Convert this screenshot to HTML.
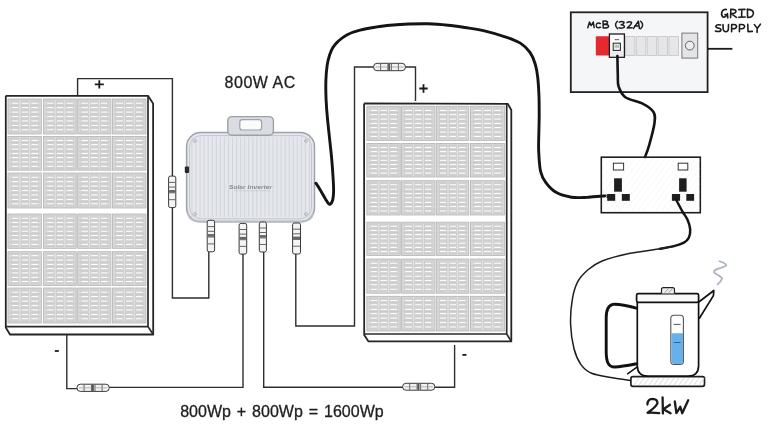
<!DOCTYPE html>
<html><head><meta charset="utf-8"><title>Solar diagram</title>
<style>html,body{margin:0;padding:0;background:#fff;width:768px;height:428px;overflow:hidden;font-family:"Liberation Sans",sans-serif}svg{display:block;filter:blur(0.3px)}</style>
</head><body>
<svg width="768" height="428" viewBox="0 0 768 428">
<rect width="768" height="428" fill="#ffffff"/>
<path d="M77.6,95.5 L77.6,78.6 L172.4,78.6 L172.4,298.0 L208.8,298.0 L208.8,252.0" fill="none" stroke="#2e2e2e" stroke-width="1.4" stroke-linejoin="miter"/>
<path d="M66.8,334.0 L66.8,388.6 L80.0,388.6" fill="none" stroke="#2e2e2e" stroke-width="1.4" stroke-linejoin="miter"/>
<path d="M105.0,387.4 L243.0,387.4 L243.0,254.0" fill="none" stroke="#2e2e2e" stroke-width="1.4" stroke-linejoin="miter"/>
<path d="M454.6,345.0 L454.6,387.2 L263.7,387.2 L263.7,252.0" fill="none" stroke="#2e2e2e" stroke-width="1.4" stroke-linejoin="miter"/>
<path d="M415.5,101.0 L415.5,67.0 L354.5,67.0 L354.5,326.0 L295.8,326.0 L295.8,254.0" fill="none" stroke="#2e2e2e" stroke-width="1.4" stroke-linejoin="miter"/>
<rect x="8.0" y="99.0" width="33.3" height="35.0" fill="#d9d9d9" stroke="#b3b3b3" stroke-width="0.8"/><line x1="9.2" y1="101.0" x2="40.1" y2="101.0" stroke="#c4c4c4" stroke-width="0.7"/><line x1="9.2" y1="105.4" x2="40.1" y2="105.4" stroke="#c4c4c4" stroke-width="0.7"/><line x1="9.2" y1="109.9" x2="40.1" y2="109.9" stroke="#c4c4c4" stroke-width="0.7"/><line x1="9.2" y1="114.3" x2="40.1" y2="114.3" stroke="#c4c4c4" stroke-width="0.7"/><line x1="9.2" y1="118.8" x2="40.1" y2="118.8" stroke="#c4c4c4" stroke-width="0.7"/><line x1="9.2" y1="123.2" x2="40.1" y2="123.2" stroke="#c4c4c4" stroke-width="0.7"/><line x1="9.2" y1="127.6" x2="40.1" y2="127.6" stroke="#c4c4c4" stroke-width="0.7"/><line x1="9.2" y1="132.1" x2="40.1" y2="132.1" stroke="#c4c4c4" stroke-width="0.7"/><line x1="19.9" y1="100.2" x2="19.9" y2="132.8" stroke="#e6e6e6" stroke-width="0.8"/><line x1="29.7" y1="100.2" x2="29.7" y2="132.8" stroke="#e6e6e6" stroke-width="0.8"/><rect x="11.3" y="102.2" width="7.3" height="1.9" fill="#fdfdfd" stroke="#bdbdbd" stroke-width="0.5"/><rect x="11.3" y="106.7" width="7.3" height="1.9" fill="#fdfdfd" stroke="#bdbdbd" stroke-width="0.5"/><rect x="11.3" y="111.1" width="7.3" height="1.9" fill="#fdfdfd" stroke="#bdbdbd" stroke-width="0.5"/><rect x="11.3" y="115.6" width="7.3" height="1.9" fill="#fdfdfd" stroke="#bdbdbd" stroke-width="0.5"/><rect x="11.3" y="120.0" width="7.3" height="1.9" fill="#fdfdfd" stroke="#bdbdbd" stroke-width="0.5"/><rect x="11.3" y="124.5" width="7.3" height="1.9" fill="#fdfdfd" stroke="#bdbdbd" stroke-width="0.5"/><rect x="11.3" y="128.9" width="7.3" height="1.9" fill="#fdfdfd" stroke="#bdbdbd" stroke-width="0.5"/><rect x="21.2" y="102.2" width="7.3" height="1.9" fill="#fdfdfd" stroke="#bdbdbd" stroke-width="0.5"/><rect x="21.2" y="106.7" width="7.3" height="1.9" fill="#fdfdfd" stroke="#bdbdbd" stroke-width="0.5"/><rect x="21.2" y="111.1" width="7.3" height="1.9" fill="#fdfdfd" stroke="#bdbdbd" stroke-width="0.5"/><rect x="21.2" y="115.6" width="7.3" height="1.9" fill="#fdfdfd" stroke="#bdbdbd" stroke-width="0.5"/><rect x="21.2" y="120.0" width="7.3" height="1.9" fill="#fdfdfd" stroke="#bdbdbd" stroke-width="0.5"/><rect x="21.2" y="124.5" width="7.3" height="1.9" fill="#fdfdfd" stroke="#bdbdbd" stroke-width="0.5"/><rect x="21.2" y="128.9" width="7.3" height="1.9" fill="#fdfdfd" stroke="#bdbdbd" stroke-width="0.5"/><rect x="31.0" y="102.2" width="7.3" height="1.9" fill="#fdfdfd" stroke="#bdbdbd" stroke-width="0.5"/><rect x="31.0" y="106.7" width="7.3" height="1.9" fill="#fdfdfd" stroke="#bdbdbd" stroke-width="0.5"/><rect x="31.0" y="111.1" width="7.3" height="1.9" fill="#fdfdfd" stroke="#bdbdbd" stroke-width="0.5"/><rect x="31.0" y="115.6" width="7.3" height="1.9" fill="#fdfdfd" stroke="#bdbdbd" stroke-width="0.5"/><rect x="31.0" y="120.0" width="7.3" height="1.9" fill="#fdfdfd" stroke="#bdbdbd" stroke-width="0.5"/><rect x="31.0" y="124.5" width="7.3" height="1.9" fill="#fdfdfd" stroke="#bdbdbd" stroke-width="0.5"/><rect x="31.0" y="128.9" width="7.3" height="1.9" fill="#fdfdfd" stroke="#bdbdbd" stroke-width="0.5"/><rect x="43.5" y="99.0" width="32.7" height="35.0" fill="#d9d9d9" stroke="#b3b3b3" stroke-width="0.8"/><line x1="44.7" y1="101.0" x2="75.0" y2="101.0" stroke="#c4c4c4" stroke-width="0.7"/><line x1="44.7" y1="105.4" x2="75.0" y2="105.4" stroke="#c4c4c4" stroke-width="0.7"/><line x1="44.7" y1="109.9" x2="75.0" y2="109.9" stroke="#c4c4c4" stroke-width="0.7"/><line x1="44.7" y1="114.3" x2="75.0" y2="114.3" stroke="#c4c4c4" stroke-width="0.7"/><line x1="44.7" y1="118.8" x2="75.0" y2="118.8" stroke="#c4c4c4" stroke-width="0.7"/><line x1="44.7" y1="123.2" x2="75.0" y2="123.2" stroke="#c4c4c4" stroke-width="0.7"/><line x1="44.7" y1="127.6" x2="75.0" y2="127.6" stroke="#c4c4c4" stroke-width="0.7"/><line x1="44.7" y1="132.1" x2="75.0" y2="132.1" stroke="#c4c4c4" stroke-width="0.7"/><line x1="55.2" y1="100.2" x2="55.2" y2="132.8" stroke="#e6e6e6" stroke-width="0.8"/><line x1="64.8" y1="100.2" x2="64.8" y2="132.8" stroke="#e6e6e6" stroke-width="0.8"/><rect x="46.8" y="102.2" width="7.2" height="1.9" fill="#fdfdfd" stroke="#bdbdbd" stroke-width="0.5"/><rect x="46.8" y="106.7" width="7.2" height="1.9" fill="#fdfdfd" stroke="#bdbdbd" stroke-width="0.5"/><rect x="46.8" y="111.1" width="7.2" height="1.9" fill="#fdfdfd" stroke="#bdbdbd" stroke-width="0.5"/><rect x="46.8" y="115.6" width="7.2" height="1.9" fill="#fdfdfd" stroke="#bdbdbd" stroke-width="0.5"/><rect x="46.8" y="120.0" width="7.2" height="1.9" fill="#fdfdfd" stroke="#bdbdbd" stroke-width="0.5"/><rect x="46.8" y="124.5" width="7.2" height="1.9" fill="#fdfdfd" stroke="#bdbdbd" stroke-width="0.5"/><rect x="46.8" y="128.9" width="7.2" height="1.9" fill="#fdfdfd" stroke="#bdbdbd" stroke-width="0.5"/><rect x="56.4" y="102.2" width="7.2" height="1.9" fill="#fdfdfd" stroke="#bdbdbd" stroke-width="0.5"/><rect x="56.4" y="106.7" width="7.2" height="1.9" fill="#fdfdfd" stroke="#bdbdbd" stroke-width="0.5"/><rect x="56.4" y="111.1" width="7.2" height="1.9" fill="#fdfdfd" stroke="#bdbdbd" stroke-width="0.5"/><rect x="56.4" y="115.6" width="7.2" height="1.9" fill="#fdfdfd" stroke="#bdbdbd" stroke-width="0.5"/><rect x="56.4" y="120.0" width="7.2" height="1.9" fill="#fdfdfd" stroke="#bdbdbd" stroke-width="0.5"/><rect x="56.4" y="124.5" width="7.2" height="1.9" fill="#fdfdfd" stroke="#bdbdbd" stroke-width="0.5"/><rect x="56.4" y="128.9" width="7.2" height="1.9" fill="#fdfdfd" stroke="#bdbdbd" stroke-width="0.5"/><rect x="66.1" y="102.2" width="7.2" height="1.9" fill="#fdfdfd" stroke="#bdbdbd" stroke-width="0.5"/><rect x="66.1" y="106.7" width="7.2" height="1.9" fill="#fdfdfd" stroke="#bdbdbd" stroke-width="0.5"/><rect x="66.1" y="111.1" width="7.2" height="1.9" fill="#fdfdfd" stroke="#bdbdbd" stroke-width="0.5"/><rect x="66.1" y="115.6" width="7.2" height="1.9" fill="#fdfdfd" stroke="#bdbdbd" stroke-width="0.5"/><rect x="66.1" y="120.0" width="7.2" height="1.9" fill="#fdfdfd" stroke="#bdbdbd" stroke-width="0.5"/><rect x="66.1" y="124.5" width="7.2" height="1.9" fill="#fdfdfd" stroke="#bdbdbd" stroke-width="0.5"/><rect x="66.1" y="128.9" width="7.2" height="1.9" fill="#fdfdfd" stroke="#bdbdbd" stroke-width="0.5"/><rect x="77.7" y="99.0" width="33.2" height="35.0" fill="#d9d9d9" stroke="#b3b3b3" stroke-width="0.8"/><line x1="78.9" y1="101.0" x2="109.7" y2="101.0" stroke="#c4c4c4" stroke-width="0.7"/><line x1="78.9" y1="105.4" x2="109.7" y2="105.4" stroke="#c4c4c4" stroke-width="0.7"/><line x1="78.9" y1="109.9" x2="109.7" y2="109.9" stroke="#c4c4c4" stroke-width="0.7"/><line x1="78.9" y1="114.3" x2="109.7" y2="114.3" stroke="#c4c4c4" stroke-width="0.7"/><line x1="78.9" y1="118.8" x2="109.7" y2="118.8" stroke="#c4c4c4" stroke-width="0.7"/><line x1="78.9" y1="123.2" x2="109.7" y2="123.2" stroke="#c4c4c4" stroke-width="0.7"/><line x1="78.9" y1="127.6" x2="109.7" y2="127.6" stroke="#c4c4c4" stroke-width="0.7"/><line x1="78.9" y1="132.1" x2="109.7" y2="132.1" stroke="#c4c4c4" stroke-width="0.7"/><line x1="89.6" y1="100.2" x2="89.6" y2="132.8" stroke="#e6e6e6" stroke-width="0.8"/><line x1="99.4" y1="100.2" x2="99.4" y2="132.8" stroke="#e6e6e6" stroke-width="0.8"/><rect x="81.0" y="102.2" width="7.3" height="1.9" fill="#fdfdfd" stroke="#bdbdbd" stroke-width="0.5"/><rect x="81.0" y="106.7" width="7.3" height="1.9" fill="#fdfdfd" stroke="#bdbdbd" stroke-width="0.5"/><rect x="81.0" y="111.1" width="7.3" height="1.9" fill="#fdfdfd" stroke="#bdbdbd" stroke-width="0.5"/><rect x="81.0" y="115.6" width="7.3" height="1.9" fill="#fdfdfd" stroke="#bdbdbd" stroke-width="0.5"/><rect x="81.0" y="120.0" width="7.3" height="1.9" fill="#fdfdfd" stroke="#bdbdbd" stroke-width="0.5"/><rect x="81.0" y="124.5" width="7.3" height="1.9" fill="#fdfdfd" stroke="#bdbdbd" stroke-width="0.5"/><rect x="81.0" y="128.9" width="7.3" height="1.9" fill="#fdfdfd" stroke="#bdbdbd" stroke-width="0.5"/><rect x="90.8" y="102.2" width="7.3" height="1.9" fill="#fdfdfd" stroke="#bdbdbd" stroke-width="0.5"/><rect x="90.8" y="106.7" width="7.3" height="1.9" fill="#fdfdfd" stroke="#bdbdbd" stroke-width="0.5"/><rect x="90.8" y="111.1" width="7.3" height="1.9" fill="#fdfdfd" stroke="#bdbdbd" stroke-width="0.5"/><rect x="90.8" y="115.6" width="7.3" height="1.9" fill="#fdfdfd" stroke="#bdbdbd" stroke-width="0.5"/><rect x="90.8" y="120.0" width="7.3" height="1.9" fill="#fdfdfd" stroke="#bdbdbd" stroke-width="0.5"/><rect x="90.8" y="124.5" width="7.3" height="1.9" fill="#fdfdfd" stroke="#bdbdbd" stroke-width="0.5"/><rect x="90.8" y="128.9" width="7.3" height="1.9" fill="#fdfdfd" stroke="#bdbdbd" stroke-width="0.5"/><rect x="100.6" y="102.2" width="7.3" height="1.9" fill="#fdfdfd" stroke="#bdbdbd" stroke-width="0.5"/><rect x="100.6" y="106.7" width="7.3" height="1.9" fill="#fdfdfd" stroke="#bdbdbd" stroke-width="0.5"/><rect x="100.6" y="111.1" width="7.3" height="1.9" fill="#fdfdfd" stroke="#bdbdbd" stroke-width="0.5"/><rect x="100.6" y="115.6" width="7.3" height="1.9" fill="#fdfdfd" stroke="#bdbdbd" stroke-width="0.5"/><rect x="100.6" y="120.0" width="7.3" height="1.9" fill="#fdfdfd" stroke="#bdbdbd" stroke-width="0.5"/><rect x="100.6" y="124.5" width="7.3" height="1.9" fill="#fdfdfd" stroke="#bdbdbd" stroke-width="0.5"/><rect x="100.6" y="128.9" width="7.3" height="1.9" fill="#fdfdfd" stroke="#bdbdbd" stroke-width="0.5"/><rect x="112.4" y="99.0" width="33.5" height="35.0" fill="#d9d9d9" stroke="#b3b3b3" stroke-width="0.8"/><line x1="113.6" y1="101.0" x2="144.7" y2="101.0" stroke="#c4c4c4" stroke-width="0.7"/><line x1="113.6" y1="105.4" x2="144.7" y2="105.4" stroke="#c4c4c4" stroke-width="0.7"/><line x1="113.6" y1="109.9" x2="144.7" y2="109.9" stroke="#c4c4c4" stroke-width="0.7"/><line x1="113.6" y1="114.3" x2="144.7" y2="114.3" stroke="#c4c4c4" stroke-width="0.7"/><line x1="113.6" y1="118.8" x2="144.7" y2="118.8" stroke="#c4c4c4" stroke-width="0.7"/><line x1="113.6" y1="123.2" x2="144.7" y2="123.2" stroke="#c4c4c4" stroke-width="0.7"/><line x1="113.6" y1="127.6" x2="144.7" y2="127.6" stroke="#c4c4c4" stroke-width="0.7"/><line x1="113.6" y1="132.1" x2="144.7" y2="132.1" stroke="#c4c4c4" stroke-width="0.7"/><line x1="124.4" y1="100.2" x2="124.4" y2="132.8" stroke="#e6e6e6" stroke-width="0.8"/><line x1="134.3" y1="100.2" x2="134.3" y2="132.8" stroke="#e6e6e6" stroke-width="0.8"/><rect x="115.8" y="102.2" width="7.4" height="1.9" fill="#fdfdfd" stroke="#bdbdbd" stroke-width="0.5"/><rect x="115.8" y="106.7" width="7.4" height="1.9" fill="#fdfdfd" stroke="#bdbdbd" stroke-width="0.5"/><rect x="115.8" y="111.1" width="7.4" height="1.9" fill="#fdfdfd" stroke="#bdbdbd" stroke-width="0.5"/><rect x="115.8" y="115.6" width="7.4" height="1.9" fill="#fdfdfd" stroke="#bdbdbd" stroke-width="0.5"/><rect x="115.8" y="120.0" width="7.4" height="1.9" fill="#fdfdfd" stroke="#bdbdbd" stroke-width="0.5"/><rect x="115.8" y="124.5" width="7.4" height="1.9" fill="#fdfdfd" stroke="#bdbdbd" stroke-width="0.5"/><rect x="115.8" y="128.9" width="7.4" height="1.9" fill="#fdfdfd" stroke="#bdbdbd" stroke-width="0.5"/><rect x="125.6" y="102.2" width="7.4" height="1.9" fill="#fdfdfd" stroke="#bdbdbd" stroke-width="0.5"/><rect x="125.6" y="106.7" width="7.4" height="1.9" fill="#fdfdfd" stroke="#bdbdbd" stroke-width="0.5"/><rect x="125.6" y="111.1" width="7.4" height="1.9" fill="#fdfdfd" stroke="#bdbdbd" stroke-width="0.5"/><rect x="125.6" y="115.6" width="7.4" height="1.9" fill="#fdfdfd" stroke="#bdbdbd" stroke-width="0.5"/><rect x="125.6" y="120.0" width="7.4" height="1.9" fill="#fdfdfd" stroke="#bdbdbd" stroke-width="0.5"/><rect x="125.6" y="124.5" width="7.4" height="1.9" fill="#fdfdfd" stroke="#bdbdbd" stroke-width="0.5"/><rect x="125.6" y="128.9" width="7.4" height="1.9" fill="#fdfdfd" stroke="#bdbdbd" stroke-width="0.5"/><rect x="135.5" y="102.2" width="7.4" height="1.9" fill="#fdfdfd" stroke="#bdbdbd" stroke-width="0.5"/><rect x="135.5" y="106.7" width="7.4" height="1.9" fill="#fdfdfd" stroke="#bdbdbd" stroke-width="0.5"/><rect x="135.5" y="111.1" width="7.4" height="1.9" fill="#fdfdfd" stroke="#bdbdbd" stroke-width="0.5"/><rect x="135.5" y="115.6" width="7.4" height="1.9" fill="#fdfdfd" stroke="#bdbdbd" stroke-width="0.5"/><rect x="135.5" y="120.0" width="7.4" height="1.9" fill="#fdfdfd" stroke="#bdbdbd" stroke-width="0.5"/><rect x="135.5" y="124.5" width="7.4" height="1.9" fill="#fdfdfd" stroke="#bdbdbd" stroke-width="0.5"/><rect x="135.5" y="128.9" width="7.4" height="1.9" fill="#fdfdfd" stroke="#bdbdbd" stroke-width="0.5"/><rect x="8.0" y="136.4" width="33.3" height="33.8" fill="#d9d9d9" stroke="#b3b3b3" stroke-width="0.8"/><line x1="9.2" y1="138.3" x2="40.1" y2="138.3" stroke="#c4c4c4" stroke-width="0.7"/><line x1="9.2" y1="142.6" x2="40.1" y2="142.6" stroke="#c4c4c4" stroke-width="0.7"/><line x1="9.2" y1="146.9" x2="40.1" y2="146.9" stroke="#c4c4c4" stroke-width="0.7"/><line x1="9.2" y1="151.2" x2="40.1" y2="151.2" stroke="#c4c4c4" stroke-width="0.7"/><line x1="9.2" y1="155.5" x2="40.1" y2="155.5" stroke="#c4c4c4" stroke-width="0.7"/><line x1="9.2" y1="159.8" x2="40.1" y2="159.8" stroke="#c4c4c4" stroke-width="0.7"/><line x1="9.2" y1="164.1" x2="40.1" y2="164.1" stroke="#c4c4c4" stroke-width="0.7"/><line x1="9.2" y1="168.4" x2="40.1" y2="168.4" stroke="#c4c4c4" stroke-width="0.7"/><line x1="19.9" y1="137.6" x2="19.9" y2="169.0" stroke="#e6e6e6" stroke-width="0.8"/><line x1="29.7" y1="137.6" x2="29.7" y2="169.0" stroke="#e6e6e6" stroke-width="0.8"/><rect x="11.3" y="139.5" width="7.3" height="1.9" fill="#fdfdfd" stroke="#bdbdbd" stroke-width="0.5"/><rect x="11.3" y="143.8" width="7.3" height="1.9" fill="#fdfdfd" stroke="#bdbdbd" stroke-width="0.5"/><rect x="11.3" y="148.1" width="7.3" height="1.9" fill="#fdfdfd" stroke="#bdbdbd" stroke-width="0.5"/><rect x="11.3" y="152.4" width="7.3" height="1.9" fill="#fdfdfd" stroke="#bdbdbd" stroke-width="0.5"/><rect x="11.3" y="156.7" width="7.3" height="1.9" fill="#fdfdfd" stroke="#bdbdbd" stroke-width="0.5"/><rect x="11.3" y="161.0" width="7.3" height="1.9" fill="#fdfdfd" stroke="#bdbdbd" stroke-width="0.5"/><rect x="11.3" y="165.3" width="7.3" height="1.9" fill="#fdfdfd" stroke="#bdbdbd" stroke-width="0.5"/><rect x="21.2" y="139.5" width="7.3" height="1.9" fill="#fdfdfd" stroke="#bdbdbd" stroke-width="0.5"/><rect x="21.2" y="143.8" width="7.3" height="1.9" fill="#fdfdfd" stroke="#bdbdbd" stroke-width="0.5"/><rect x="21.2" y="148.1" width="7.3" height="1.9" fill="#fdfdfd" stroke="#bdbdbd" stroke-width="0.5"/><rect x="21.2" y="152.4" width="7.3" height="1.9" fill="#fdfdfd" stroke="#bdbdbd" stroke-width="0.5"/><rect x="21.2" y="156.7" width="7.3" height="1.9" fill="#fdfdfd" stroke="#bdbdbd" stroke-width="0.5"/><rect x="21.2" y="161.0" width="7.3" height="1.9" fill="#fdfdfd" stroke="#bdbdbd" stroke-width="0.5"/><rect x="21.2" y="165.3" width="7.3" height="1.9" fill="#fdfdfd" stroke="#bdbdbd" stroke-width="0.5"/><rect x="31.0" y="139.5" width="7.3" height="1.9" fill="#fdfdfd" stroke="#bdbdbd" stroke-width="0.5"/><rect x="31.0" y="143.8" width="7.3" height="1.9" fill="#fdfdfd" stroke="#bdbdbd" stroke-width="0.5"/><rect x="31.0" y="148.1" width="7.3" height="1.9" fill="#fdfdfd" stroke="#bdbdbd" stroke-width="0.5"/><rect x="31.0" y="152.4" width="7.3" height="1.9" fill="#fdfdfd" stroke="#bdbdbd" stroke-width="0.5"/><rect x="31.0" y="156.7" width="7.3" height="1.9" fill="#fdfdfd" stroke="#bdbdbd" stroke-width="0.5"/><rect x="31.0" y="161.0" width="7.3" height="1.9" fill="#fdfdfd" stroke="#bdbdbd" stroke-width="0.5"/><rect x="31.0" y="165.3" width="7.3" height="1.9" fill="#fdfdfd" stroke="#bdbdbd" stroke-width="0.5"/><rect x="43.5" y="136.4" width="32.7" height="33.8" fill="#d9d9d9" stroke="#b3b3b3" stroke-width="0.8"/><line x1="44.7" y1="138.3" x2="75.0" y2="138.3" stroke="#c4c4c4" stroke-width="0.7"/><line x1="44.7" y1="142.6" x2="75.0" y2="142.6" stroke="#c4c4c4" stroke-width="0.7"/><line x1="44.7" y1="146.9" x2="75.0" y2="146.9" stroke="#c4c4c4" stroke-width="0.7"/><line x1="44.7" y1="151.2" x2="75.0" y2="151.2" stroke="#c4c4c4" stroke-width="0.7"/><line x1="44.7" y1="155.5" x2="75.0" y2="155.5" stroke="#c4c4c4" stroke-width="0.7"/><line x1="44.7" y1="159.8" x2="75.0" y2="159.8" stroke="#c4c4c4" stroke-width="0.7"/><line x1="44.7" y1="164.1" x2="75.0" y2="164.1" stroke="#c4c4c4" stroke-width="0.7"/><line x1="44.7" y1="168.4" x2="75.0" y2="168.4" stroke="#c4c4c4" stroke-width="0.7"/><line x1="55.2" y1="137.6" x2="55.2" y2="169.0" stroke="#e6e6e6" stroke-width="0.8"/><line x1="64.8" y1="137.6" x2="64.8" y2="169.0" stroke="#e6e6e6" stroke-width="0.8"/><rect x="46.8" y="139.5" width="7.2" height="1.9" fill="#fdfdfd" stroke="#bdbdbd" stroke-width="0.5"/><rect x="46.8" y="143.8" width="7.2" height="1.9" fill="#fdfdfd" stroke="#bdbdbd" stroke-width="0.5"/><rect x="46.8" y="148.1" width="7.2" height="1.9" fill="#fdfdfd" stroke="#bdbdbd" stroke-width="0.5"/><rect x="46.8" y="152.4" width="7.2" height="1.9" fill="#fdfdfd" stroke="#bdbdbd" stroke-width="0.5"/><rect x="46.8" y="156.7" width="7.2" height="1.9" fill="#fdfdfd" stroke="#bdbdbd" stroke-width="0.5"/><rect x="46.8" y="161.0" width="7.2" height="1.9" fill="#fdfdfd" stroke="#bdbdbd" stroke-width="0.5"/><rect x="46.8" y="165.3" width="7.2" height="1.9" fill="#fdfdfd" stroke="#bdbdbd" stroke-width="0.5"/><rect x="56.4" y="139.5" width="7.2" height="1.9" fill="#fdfdfd" stroke="#bdbdbd" stroke-width="0.5"/><rect x="56.4" y="143.8" width="7.2" height="1.9" fill="#fdfdfd" stroke="#bdbdbd" stroke-width="0.5"/><rect x="56.4" y="148.1" width="7.2" height="1.9" fill="#fdfdfd" stroke="#bdbdbd" stroke-width="0.5"/><rect x="56.4" y="152.4" width="7.2" height="1.9" fill="#fdfdfd" stroke="#bdbdbd" stroke-width="0.5"/><rect x="56.4" y="156.7" width="7.2" height="1.9" fill="#fdfdfd" stroke="#bdbdbd" stroke-width="0.5"/><rect x="56.4" y="161.0" width="7.2" height="1.9" fill="#fdfdfd" stroke="#bdbdbd" stroke-width="0.5"/><rect x="56.4" y="165.3" width="7.2" height="1.9" fill="#fdfdfd" stroke="#bdbdbd" stroke-width="0.5"/><rect x="66.1" y="139.5" width="7.2" height="1.9" fill="#fdfdfd" stroke="#bdbdbd" stroke-width="0.5"/><rect x="66.1" y="143.8" width="7.2" height="1.9" fill="#fdfdfd" stroke="#bdbdbd" stroke-width="0.5"/><rect x="66.1" y="148.1" width="7.2" height="1.9" fill="#fdfdfd" stroke="#bdbdbd" stroke-width="0.5"/><rect x="66.1" y="152.4" width="7.2" height="1.9" fill="#fdfdfd" stroke="#bdbdbd" stroke-width="0.5"/><rect x="66.1" y="156.7" width="7.2" height="1.9" fill="#fdfdfd" stroke="#bdbdbd" stroke-width="0.5"/><rect x="66.1" y="161.0" width="7.2" height="1.9" fill="#fdfdfd" stroke="#bdbdbd" stroke-width="0.5"/><rect x="66.1" y="165.3" width="7.2" height="1.9" fill="#fdfdfd" stroke="#bdbdbd" stroke-width="0.5"/><rect x="77.7" y="136.4" width="33.2" height="33.8" fill="#d9d9d9" stroke="#b3b3b3" stroke-width="0.8"/><line x1="78.9" y1="138.3" x2="109.7" y2="138.3" stroke="#c4c4c4" stroke-width="0.7"/><line x1="78.9" y1="142.6" x2="109.7" y2="142.6" stroke="#c4c4c4" stroke-width="0.7"/><line x1="78.9" y1="146.9" x2="109.7" y2="146.9" stroke="#c4c4c4" stroke-width="0.7"/><line x1="78.9" y1="151.2" x2="109.7" y2="151.2" stroke="#c4c4c4" stroke-width="0.7"/><line x1="78.9" y1="155.5" x2="109.7" y2="155.5" stroke="#c4c4c4" stroke-width="0.7"/><line x1="78.9" y1="159.8" x2="109.7" y2="159.8" stroke="#c4c4c4" stroke-width="0.7"/><line x1="78.9" y1="164.1" x2="109.7" y2="164.1" stroke="#c4c4c4" stroke-width="0.7"/><line x1="78.9" y1="168.4" x2="109.7" y2="168.4" stroke="#c4c4c4" stroke-width="0.7"/><line x1="89.6" y1="137.6" x2="89.6" y2="169.0" stroke="#e6e6e6" stroke-width="0.8"/><line x1="99.4" y1="137.6" x2="99.4" y2="169.0" stroke="#e6e6e6" stroke-width="0.8"/><rect x="81.0" y="139.5" width="7.3" height="1.9" fill="#fdfdfd" stroke="#bdbdbd" stroke-width="0.5"/><rect x="81.0" y="143.8" width="7.3" height="1.9" fill="#fdfdfd" stroke="#bdbdbd" stroke-width="0.5"/><rect x="81.0" y="148.1" width="7.3" height="1.9" fill="#fdfdfd" stroke="#bdbdbd" stroke-width="0.5"/><rect x="81.0" y="152.4" width="7.3" height="1.9" fill="#fdfdfd" stroke="#bdbdbd" stroke-width="0.5"/><rect x="81.0" y="156.7" width="7.3" height="1.9" fill="#fdfdfd" stroke="#bdbdbd" stroke-width="0.5"/><rect x="81.0" y="161.0" width="7.3" height="1.9" fill="#fdfdfd" stroke="#bdbdbd" stroke-width="0.5"/><rect x="81.0" y="165.3" width="7.3" height="1.9" fill="#fdfdfd" stroke="#bdbdbd" stroke-width="0.5"/><rect x="90.8" y="139.5" width="7.3" height="1.9" fill="#fdfdfd" stroke="#bdbdbd" stroke-width="0.5"/><rect x="90.8" y="143.8" width="7.3" height="1.9" fill="#fdfdfd" stroke="#bdbdbd" stroke-width="0.5"/><rect x="90.8" y="148.1" width="7.3" height="1.9" fill="#fdfdfd" stroke="#bdbdbd" stroke-width="0.5"/><rect x="90.8" y="152.4" width="7.3" height="1.9" fill="#fdfdfd" stroke="#bdbdbd" stroke-width="0.5"/><rect x="90.8" y="156.7" width="7.3" height="1.9" fill="#fdfdfd" stroke="#bdbdbd" stroke-width="0.5"/><rect x="90.8" y="161.0" width="7.3" height="1.9" fill="#fdfdfd" stroke="#bdbdbd" stroke-width="0.5"/><rect x="90.8" y="165.3" width="7.3" height="1.9" fill="#fdfdfd" stroke="#bdbdbd" stroke-width="0.5"/><rect x="100.6" y="139.5" width="7.3" height="1.9" fill="#fdfdfd" stroke="#bdbdbd" stroke-width="0.5"/><rect x="100.6" y="143.8" width="7.3" height="1.9" fill="#fdfdfd" stroke="#bdbdbd" stroke-width="0.5"/><rect x="100.6" y="148.1" width="7.3" height="1.9" fill="#fdfdfd" stroke="#bdbdbd" stroke-width="0.5"/><rect x="100.6" y="152.4" width="7.3" height="1.9" fill="#fdfdfd" stroke="#bdbdbd" stroke-width="0.5"/><rect x="100.6" y="156.7" width="7.3" height="1.9" fill="#fdfdfd" stroke="#bdbdbd" stroke-width="0.5"/><rect x="100.6" y="161.0" width="7.3" height="1.9" fill="#fdfdfd" stroke="#bdbdbd" stroke-width="0.5"/><rect x="100.6" y="165.3" width="7.3" height="1.9" fill="#fdfdfd" stroke="#bdbdbd" stroke-width="0.5"/><rect x="112.4" y="136.4" width="33.5" height="33.8" fill="#d9d9d9" stroke="#b3b3b3" stroke-width="0.8"/><line x1="113.6" y1="138.3" x2="144.7" y2="138.3" stroke="#c4c4c4" stroke-width="0.7"/><line x1="113.6" y1="142.6" x2="144.7" y2="142.6" stroke="#c4c4c4" stroke-width="0.7"/><line x1="113.6" y1="146.9" x2="144.7" y2="146.9" stroke="#c4c4c4" stroke-width="0.7"/><line x1="113.6" y1="151.2" x2="144.7" y2="151.2" stroke="#c4c4c4" stroke-width="0.7"/><line x1="113.6" y1="155.5" x2="144.7" y2="155.5" stroke="#c4c4c4" stroke-width="0.7"/><line x1="113.6" y1="159.8" x2="144.7" y2="159.8" stroke="#c4c4c4" stroke-width="0.7"/><line x1="113.6" y1="164.1" x2="144.7" y2="164.1" stroke="#c4c4c4" stroke-width="0.7"/><line x1="113.6" y1="168.4" x2="144.7" y2="168.4" stroke="#c4c4c4" stroke-width="0.7"/><line x1="124.4" y1="137.6" x2="124.4" y2="169.0" stroke="#e6e6e6" stroke-width="0.8"/><line x1="134.3" y1="137.6" x2="134.3" y2="169.0" stroke="#e6e6e6" stroke-width="0.8"/><rect x="115.8" y="139.5" width="7.4" height="1.9" fill="#fdfdfd" stroke="#bdbdbd" stroke-width="0.5"/><rect x="115.8" y="143.8" width="7.4" height="1.9" fill="#fdfdfd" stroke="#bdbdbd" stroke-width="0.5"/><rect x="115.8" y="148.1" width="7.4" height="1.9" fill="#fdfdfd" stroke="#bdbdbd" stroke-width="0.5"/><rect x="115.8" y="152.4" width="7.4" height="1.9" fill="#fdfdfd" stroke="#bdbdbd" stroke-width="0.5"/><rect x="115.8" y="156.7" width="7.4" height="1.9" fill="#fdfdfd" stroke="#bdbdbd" stroke-width="0.5"/><rect x="115.8" y="161.0" width="7.4" height="1.9" fill="#fdfdfd" stroke="#bdbdbd" stroke-width="0.5"/><rect x="115.8" y="165.3" width="7.4" height="1.9" fill="#fdfdfd" stroke="#bdbdbd" stroke-width="0.5"/><rect x="125.6" y="139.5" width="7.4" height="1.9" fill="#fdfdfd" stroke="#bdbdbd" stroke-width="0.5"/><rect x="125.6" y="143.8" width="7.4" height="1.9" fill="#fdfdfd" stroke="#bdbdbd" stroke-width="0.5"/><rect x="125.6" y="148.1" width="7.4" height="1.9" fill="#fdfdfd" stroke="#bdbdbd" stroke-width="0.5"/><rect x="125.6" y="152.4" width="7.4" height="1.9" fill="#fdfdfd" stroke="#bdbdbd" stroke-width="0.5"/><rect x="125.6" y="156.7" width="7.4" height="1.9" fill="#fdfdfd" stroke="#bdbdbd" stroke-width="0.5"/><rect x="125.6" y="161.0" width="7.4" height="1.9" fill="#fdfdfd" stroke="#bdbdbd" stroke-width="0.5"/><rect x="125.6" y="165.3" width="7.4" height="1.9" fill="#fdfdfd" stroke="#bdbdbd" stroke-width="0.5"/><rect x="135.5" y="139.5" width="7.4" height="1.9" fill="#fdfdfd" stroke="#bdbdbd" stroke-width="0.5"/><rect x="135.5" y="143.8" width="7.4" height="1.9" fill="#fdfdfd" stroke="#bdbdbd" stroke-width="0.5"/><rect x="135.5" y="148.1" width="7.4" height="1.9" fill="#fdfdfd" stroke="#bdbdbd" stroke-width="0.5"/><rect x="135.5" y="152.4" width="7.4" height="1.9" fill="#fdfdfd" stroke="#bdbdbd" stroke-width="0.5"/><rect x="135.5" y="156.7" width="7.4" height="1.9" fill="#fdfdfd" stroke="#bdbdbd" stroke-width="0.5"/><rect x="135.5" y="161.0" width="7.4" height="1.9" fill="#fdfdfd" stroke="#bdbdbd" stroke-width="0.5"/><rect x="135.5" y="165.3" width="7.4" height="1.9" fill="#fdfdfd" stroke="#bdbdbd" stroke-width="0.5"/><rect x="8.0" y="173.0" width="33.3" height="35.0" fill="#d9d9d9" stroke="#b3b3b3" stroke-width="0.8"/><line x1="9.2" y1="175.0" x2="40.1" y2="175.0" stroke="#c4c4c4" stroke-width="0.7"/><line x1="9.2" y1="179.4" x2="40.1" y2="179.4" stroke="#c4c4c4" stroke-width="0.7"/><line x1="9.2" y1="183.9" x2="40.1" y2="183.9" stroke="#c4c4c4" stroke-width="0.7"/><line x1="9.2" y1="188.3" x2="40.1" y2="188.3" stroke="#c4c4c4" stroke-width="0.7"/><line x1="9.2" y1="192.8" x2="40.1" y2="192.8" stroke="#c4c4c4" stroke-width="0.7"/><line x1="9.2" y1="197.2" x2="40.1" y2="197.2" stroke="#c4c4c4" stroke-width="0.7"/><line x1="9.2" y1="201.6" x2="40.1" y2="201.6" stroke="#c4c4c4" stroke-width="0.7"/><line x1="9.2" y1="206.1" x2="40.1" y2="206.1" stroke="#c4c4c4" stroke-width="0.7"/><line x1="19.9" y1="174.2" x2="19.9" y2="206.8" stroke="#e6e6e6" stroke-width="0.8"/><line x1="29.7" y1="174.2" x2="29.7" y2="206.8" stroke="#e6e6e6" stroke-width="0.8"/><rect x="11.3" y="176.2" width="7.3" height="1.9" fill="#fdfdfd" stroke="#bdbdbd" stroke-width="0.5"/><rect x="11.3" y="180.7" width="7.3" height="1.9" fill="#fdfdfd" stroke="#bdbdbd" stroke-width="0.5"/><rect x="11.3" y="185.1" width="7.3" height="1.9" fill="#fdfdfd" stroke="#bdbdbd" stroke-width="0.5"/><rect x="11.3" y="189.6" width="7.3" height="1.9" fill="#fdfdfd" stroke="#bdbdbd" stroke-width="0.5"/><rect x="11.3" y="194.0" width="7.3" height="1.9" fill="#fdfdfd" stroke="#bdbdbd" stroke-width="0.5"/><rect x="11.3" y="198.5" width="7.3" height="1.9" fill="#fdfdfd" stroke="#bdbdbd" stroke-width="0.5"/><rect x="11.3" y="202.9" width="7.3" height="1.9" fill="#fdfdfd" stroke="#bdbdbd" stroke-width="0.5"/><rect x="21.2" y="176.2" width="7.3" height="1.9" fill="#fdfdfd" stroke="#bdbdbd" stroke-width="0.5"/><rect x="21.2" y="180.7" width="7.3" height="1.9" fill="#fdfdfd" stroke="#bdbdbd" stroke-width="0.5"/><rect x="21.2" y="185.1" width="7.3" height="1.9" fill="#fdfdfd" stroke="#bdbdbd" stroke-width="0.5"/><rect x="21.2" y="189.6" width="7.3" height="1.9" fill="#fdfdfd" stroke="#bdbdbd" stroke-width="0.5"/><rect x="21.2" y="194.0" width="7.3" height="1.9" fill="#fdfdfd" stroke="#bdbdbd" stroke-width="0.5"/><rect x="21.2" y="198.5" width="7.3" height="1.9" fill="#fdfdfd" stroke="#bdbdbd" stroke-width="0.5"/><rect x="21.2" y="202.9" width="7.3" height="1.9" fill="#fdfdfd" stroke="#bdbdbd" stroke-width="0.5"/><rect x="31.0" y="176.2" width="7.3" height="1.9" fill="#fdfdfd" stroke="#bdbdbd" stroke-width="0.5"/><rect x="31.0" y="180.7" width="7.3" height="1.9" fill="#fdfdfd" stroke="#bdbdbd" stroke-width="0.5"/><rect x="31.0" y="185.1" width="7.3" height="1.9" fill="#fdfdfd" stroke="#bdbdbd" stroke-width="0.5"/><rect x="31.0" y="189.6" width="7.3" height="1.9" fill="#fdfdfd" stroke="#bdbdbd" stroke-width="0.5"/><rect x="31.0" y="194.0" width="7.3" height="1.9" fill="#fdfdfd" stroke="#bdbdbd" stroke-width="0.5"/><rect x="31.0" y="198.5" width="7.3" height="1.9" fill="#fdfdfd" stroke="#bdbdbd" stroke-width="0.5"/><rect x="31.0" y="202.9" width="7.3" height="1.9" fill="#fdfdfd" stroke="#bdbdbd" stroke-width="0.5"/><rect x="43.5" y="173.0" width="32.7" height="35.0" fill="#d9d9d9" stroke="#b3b3b3" stroke-width="0.8"/><line x1="44.7" y1="175.0" x2="75.0" y2="175.0" stroke="#c4c4c4" stroke-width="0.7"/><line x1="44.7" y1="179.4" x2="75.0" y2="179.4" stroke="#c4c4c4" stroke-width="0.7"/><line x1="44.7" y1="183.9" x2="75.0" y2="183.9" stroke="#c4c4c4" stroke-width="0.7"/><line x1="44.7" y1="188.3" x2="75.0" y2="188.3" stroke="#c4c4c4" stroke-width="0.7"/><line x1="44.7" y1="192.8" x2="75.0" y2="192.8" stroke="#c4c4c4" stroke-width="0.7"/><line x1="44.7" y1="197.2" x2="75.0" y2="197.2" stroke="#c4c4c4" stroke-width="0.7"/><line x1="44.7" y1="201.6" x2="75.0" y2="201.6" stroke="#c4c4c4" stroke-width="0.7"/><line x1="44.7" y1="206.1" x2="75.0" y2="206.1" stroke="#c4c4c4" stroke-width="0.7"/><line x1="55.2" y1="174.2" x2="55.2" y2="206.8" stroke="#e6e6e6" stroke-width="0.8"/><line x1="64.8" y1="174.2" x2="64.8" y2="206.8" stroke="#e6e6e6" stroke-width="0.8"/><rect x="46.8" y="176.2" width="7.2" height="1.9" fill="#fdfdfd" stroke="#bdbdbd" stroke-width="0.5"/><rect x="46.8" y="180.7" width="7.2" height="1.9" fill="#fdfdfd" stroke="#bdbdbd" stroke-width="0.5"/><rect x="46.8" y="185.1" width="7.2" height="1.9" fill="#fdfdfd" stroke="#bdbdbd" stroke-width="0.5"/><rect x="46.8" y="189.6" width="7.2" height="1.9" fill="#fdfdfd" stroke="#bdbdbd" stroke-width="0.5"/><rect x="46.8" y="194.0" width="7.2" height="1.9" fill="#fdfdfd" stroke="#bdbdbd" stroke-width="0.5"/><rect x="46.8" y="198.5" width="7.2" height="1.9" fill="#fdfdfd" stroke="#bdbdbd" stroke-width="0.5"/><rect x="46.8" y="202.9" width="7.2" height="1.9" fill="#fdfdfd" stroke="#bdbdbd" stroke-width="0.5"/><rect x="56.4" y="176.2" width="7.2" height="1.9" fill="#fdfdfd" stroke="#bdbdbd" stroke-width="0.5"/><rect x="56.4" y="180.7" width="7.2" height="1.9" fill="#fdfdfd" stroke="#bdbdbd" stroke-width="0.5"/><rect x="56.4" y="185.1" width="7.2" height="1.9" fill="#fdfdfd" stroke="#bdbdbd" stroke-width="0.5"/><rect x="56.4" y="189.6" width="7.2" height="1.9" fill="#fdfdfd" stroke="#bdbdbd" stroke-width="0.5"/><rect x="56.4" y="194.0" width="7.2" height="1.9" fill="#fdfdfd" stroke="#bdbdbd" stroke-width="0.5"/><rect x="56.4" y="198.5" width="7.2" height="1.9" fill="#fdfdfd" stroke="#bdbdbd" stroke-width="0.5"/><rect x="56.4" y="202.9" width="7.2" height="1.9" fill="#fdfdfd" stroke="#bdbdbd" stroke-width="0.5"/><rect x="66.1" y="176.2" width="7.2" height="1.9" fill="#fdfdfd" stroke="#bdbdbd" stroke-width="0.5"/><rect x="66.1" y="180.7" width="7.2" height="1.9" fill="#fdfdfd" stroke="#bdbdbd" stroke-width="0.5"/><rect x="66.1" y="185.1" width="7.2" height="1.9" fill="#fdfdfd" stroke="#bdbdbd" stroke-width="0.5"/><rect x="66.1" y="189.6" width="7.2" height="1.9" fill="#fdfdfd" stroke="#bdbdbd" stroke-width="0.5"/><rect x="66.1" y="194.0" width="7.2" height="1.9" fill="#fdfdfd" stroke="#bdbdbd" stroke-width="0.5"/><rect x="66.1" y="198.5" width="7.2" height="1.9" fill="#fdfdfd" stroke="#bdbdbd" stroke-width="0.5"/><rect x="66.1" y="202.9" width="7.2" height="1.9" fill="#fdfdfd" stroke="#bdbdbd" stroke-width="0.5"/><rect x="77.7" y="173.0" width="33.2" height="35.0" fill="#d9d9d9" stroke="#b3b3b3" stroke-width="0.8"/><line x1="78.9" y1="175.0" x2="109.7" y2="175.0" stroke="#c4c4c4" stroke-width="0.7"/><line x1="78.9" y1="179.4" x2="109.7" y2="179.4" stroke="#c4c4c4" stroke-width="0.7"/><line x1="78.9" y1="183.9" x2="109.7" y2="183.9" stroke="#c4c4c4" stroke-width="0.7"/><line x1="78.9" y1="188.3" x2="109.7" y2="188.3" stroke="#c4c4c4" stroke-width="0.7"/><line x1="78.9" y1="192.8" x2="109.7" y2="192.8" stroke="#c4c4c4" stroke-width="0.7"/><line x1="78.9" y1="197.2" x2="109.7" y2="197.2" stroke="#c4c4c4" stroke-width="0.7"/><line x1="78.9" y1="201.6" x2="109.7" y2="201.6" stroke="#c4c4c4" stroke-width="0.7"/><line x1="78.9" y1="206.1" x2="109.7" y2="206.1" stroke="#c4c4c4" stroke-width="0.7"/><line x1="89.6" y1="174.2" x2="89.6" y2="206.8" stroke="#e6e6e6" stroke-width="0.8"/><line x1="99.4" y1="174.2" x2="99.4" y2="206.8" stroke="#e6e6e6" stroke-width="0.8"/><rect x="81.0" y="176.2" width="7.3" height="1.9" fill="#fdfdfd" stroke="#bdbdbd" stroke-width="0.5"/><rect x="81.0" y="180.7" width="7.3" height="1.9" fill="#fdfdfd" stroke="#bdbdbd" stroke-width="0.5"/><rect x="81.0" y="185.1" width="7.3" height="1.9" fill="#fdfdfd" stroke="#bdbdbd" stroke-width="0.5"/><rect x="81.0" y="189.6" width="7.3" height="1.9" fill="#fdfdfd" stroke="#bdbdbd" stroke-width="0.5"/><rect x="81.0" y="194.0" width="7.3" height="1.9" fill="#fdfdfd" stroke="#bdbdbd" stroke-width="0.5"/><rect x="81.0" y="198.5" width="7.3" height="1.9" fill="#fdfdfd" stroke="#bdbdbd" stroke-width="0.5"/><rect x="81.0" y="202.9" width="7.3" height="1.9" fill="#fdfdfd" stroke="#bdbdbd" stroke-width="0.5"/><rect x="90.8" y="176.2" width="7.3" height="1.9" fill="#fdfdfd" stroke="#bdbdbd" stroke-width="0.5"/><rect x="90.8" y="180.7" width="7.3" height="1.9" fill="#fdfdfd" stroke="#bdbdbd" stroke-width="0.5"/><rect x="90.8" y="185.1" width="7.3" height="1.9" fill="#fdfdfd" stroke="#bdbdbd" stroke-width="0.5"/><rect x="90.8" y="189.6" width="7.3" height="1.9" fill="#fdfdfd" stroke="#bdbdbd" stroke-width="0.5"/><rect x="90.8" y="194.0" width="7.3" height="1.9" fill="#fdfdfd" stroke="#bdbdbd" stroke-width="0.5"/><rect x="90.8" y="198.5" width="7.3" height="1.9" fill="#fdfdfd" stroke="#bdbdbd" stroke-width="0.5"/><rect x="90.8" y="202.9" width="7.3" height="1.9" fill="#fdfdfd" stroke="#bdbdbd" stroke-width="0.5"/><rect x="100.6" y="176.2" width="7.3" height="1.9" fill="#fdfdfd" stroke="#bdbdbd" stroke-width="0.5"/><rect x="100.6" y="180.7" width="7.3" height="1.9" fill="#fdfdfd" stroke="#bdbdbd" stroke-width="0.5"/><rect x="100.6" y="185.1" width="7.3" height="1.9" fill="#fdfdfd" stroke="#bdbdbd" stroke-width="0.5"/><rect x="100.6" y="189.6" width="7.3" height="1.9" fill="#fdfdfd" stroke="#bdbdbd" stroke-width="0.5"/><rect x="100.6" y="194.0" width="7.3" height="1.9" fill="#fdfdfd" stroke="#bdbdbd" stroke-width="0.5"/><rect x="100.6" y="198.5" width="7.3" height="1.9" fill="#fdfdfd" stroke="#bdbdbd" stroke-width="0.5"/><rect x="100.6" y="202.9" width="7.3" height="1.9" fill="#fdfdfd" stroke="#bdbdbd" stroke-width="0.5"/><rect x="112.4" y="173.0" width="33.5" height="35.0" fill="#d9d9d9" stroke="#b3b3b3" stroke-width="0.8"/><line x1="113.6" y1="175.0" x2="144.7" y2="175.0" stroke="#c4c4c4" stroke-width="0.7"/><line x1="113.6" y1="179.4" x2="144.7" y2="179.4" stroke="#c4c4c4" stroke-width="0.7"/><line x1="113.6" y1="183.9" x2="144.7" y2="183.9" stroke="#c4c4c4" stroke-width="0.7"/><line x1="113.6" y1="188.3" x2="144.7" y2="188.3" stroke="#c4c4c4" stroke-width="0.7"/><line x1="113.6" y1="192.8" x2="144.7" y2="192.8" stroke="#c4c4c4" stroke-width="0.7"/><line x1="113.6" y1="197.2" x2="144.7" y2="197.2" stroke="#c4c4c4" stroke-width="0.7"/><line x1="113.6" y1="201.6" x2="144.7" y2="201.6" stroke="#c4c4c4" stroke-width="0.7"/><line x1="113.6" y1="206.1" x2="144.7" y2="206.1" stroke="#c4c4c4" stroke-width="0.7"/><line x1="124.4" y1="174.2" x2="124.4" y2="206.8" stroke="#e6e6e6" stroke-width="0.8"/><line x1="134.3" y1="174.2" x2="134.3" y2="206.8" stroke="#e6e6e6" stroke-width="0.8"/><rect x="115.8" y="176.2" width="7.4" height="1.9" fill="#fdfdfd" stroke="#bdbdbd" stroke-width="0.5"/><rect x="115.8" y="180.7" width="7.4" height="1.9" fill="#fdfdfd" stroke="#bdbdbd" stroke-width="0.5"/><rect x="115.8" y="185.1" width="7.4" height="1.9" fill="#fdfdfd" stroke="#bdbdbd" stroke-width="0.5"/><rect x="115.8" y="189.6" width="7.4" height="1.9" fill="#fdfdfd" stroke="#bdbdbd" stroke-width="0.5"/><rect x="115.8" y="194.0" width="7.4" height="1.9" fill="#fdfdfd" stroke="#bdbdbd" stroke-width="0.5"/><rect x="115.8" y="198.5" width="7.4" height="1.9" fill="#fdfdfd" stroke="#bdbdbd" stroke-width="0.5"/><rect x="115.8" y="202.9" width="7.4" height="1.9" fill="#fdfdfd" stroke="#bdbdbd" stroke-width="0.5"/><rect x="125.6" y="176.2" width="7.4" height="1.9" fill="#fdfdfd" stroke="#bdbdbd" stroke-width="0.5"/><rect x="125.6" y="180.7" width="7.4" height="1.9" fill="#fdfdfd" stroke="#bdbdbd" stroke-width="0.5"/><rect x="125.6" y="185.1" width="7.4" height="1.9" fill="#fdfdfd" stroke="#bdbdbd" stroke-width="0.5"/><rect x="125.6" y="189.6" width="7.4" height="1.9" fill="#fdfdfd" stroke="#bdbdbd" stroke-width="0.5"/><rect x="125.6" y="194.0" width="7.4" height="1.9" fill="#fdfdfd" stroke="#bdbdbd" stroke-width="0.5"/><rect x="125.6" y="198.5" width="7.4" height="1.9" fill="#fdfdfd" stroke="#bdbdbd" stroke-width="0.5"/><rect x="125.6" y="202.9" width="7.4" height="1.9" fill="#fdfdfd" stroke="#bdbdbd" stroke-width="0.5"/><rect x="135.5" y="176.2" width="7.4" height="1.9" fill="#fdfdfd" stroke="#bdbdbd" stroke-width="0.5"/><rect x="135.5" y="180.7" width="7.4" height="1.9" fill="#fdfdfd" stroke="#bdbdbd" stroke-width="0.5"/><rect x="135.5" y="185.1" width="7.4" height="1.9" fill="#fdfdfd" stroke="#bdbdbd" stroke-width="0.5"/><rect x="135.5" y="189.6" width="7.4" height="1.9" fill="#fdfdfd" stroke="#bdbdbd" stroke-width="0.5"/><rect x="135.5" y="194.0" width="7.4" height="1.9" fill="#fdfdfd" stroke="#bdbdbd" stroke-width="0.5"/><rect x="135.5" y="198.5" width="7.4" height="1.9" fill="#fdfdfd" stroke="#bdbdbd" stroke-width="0.5"/><rect x="135.5" y="202.9" width="7.4" height="1.9" fill="#fdfdfd" stroke="#bdbdbd" stroke-width="0.5"/><rect x="8.0" y="214.0" width="33.3" height="34.3" fill="#d9d9d9" stroke="#b3b3b3" stroke-width="0.8"/><line x1="9.2" y1="215.9" x2="40.1" y2="215.9" stroke="#c4c4c4" stroke-width="0.7"/><line x1="9.2" y1="220.3" x2="40.1" y2="220.3" stroke="#c4c4c4" stroke-width="0.7"/><line x1="9.2" y1="224.7" x2="40.1" y2="224.7" stroke="#c4c4c4" stroke-width="0.7"/><line x1="9.2" y1="229.0" x2="40.1" y2="229.0" stroke="#c4c4c4" stroke-width="0.7"/><line x1="9.2" y1="233.4" x2="40.1" y2="233.4" stroke="#c4c4c4" stroke-width="0.7"/><line x1="9.2" y1="237.7" x2="40.1" y2="237.7" stroke="#c4c4c4" stroke-width="0.7"/><line x1="9.2" y1="242.1" x2="40.1" y2="242.1" stroke="#c4c4c4" stroke-width="0.7"/><line x1="9.2" y1="246.4" x2="40.1" y2="246.4" stroke="#c4c4c4" stroke-width="0.7"/><line x1="19.9" y1="215.2" x2="19.9" y2="247.1" stroke="#e6e6e6" stroke-width="0.8"/><line x1="29.7" y1="215.2" x2="29.7" y2="247.1" stroke="#e6e6e6" stroke-width="0.8"/><rect x="11.3" y="217.2" width="7.3" height="1.9" fill="#fdfdfd" stroke="#bdbdbd" stroke-width="0.5"/><rect x="11.3" y="221.5" width="7.3" height="1.9" fill="#fdfdfd" stroke="#bdbdbd" stroke-width="0.5"/><rect x="11.3" y="225.9" width="7.3" height="1.9" fill="#fdfdfd" stroke="#bdbdbd" stroke-width="0.5"/><rect x="11.3" y="230.2" width="7.3" height="1.9" fill="#fdfdfd" stroke="#bdbdbd" stroke-width="0.5"/><rect x="11.3" y="234.6" width="7.3" height="1.9" fill="#fdfdfd" stroke="#bdbdbd" stroke-width="0.5"/><rect x="11.3" y="238.9" width="7.3" height="1.9" fill="#fdfdfd" stroke="#bdbdbd" stroke-width="0.5"/><rect x="11.3" y="243.3" width="7.3" height="1.9" fill="#fdfdfd" stroke="#bdbdbd" stroke-width="0.5"/><rect x="21.2" y="217.2" width="7.3" height="1.9" fill="#fdfdfd" stroke="#bdbdbd" stroke-width="0.5"/><rect x="21.2" y="221.5" width="7.3" height="1.9" fill="#fdfdfd" stroke="#bdbdbd" stroke-width="0.5"/><rect x="21.2" y="225.9" width="7.3" height="1.9" fill="#fdfdfd" stroke="#bdbdbd" stroke-width="0.5"/><rect x="21.2" y="230.2" width="7.3" height="1.9" fill="#fdfdfd" stroke="#bdbdbd" stroke-width="0.5"/><rect x="21.2" y="234.6" width="7.3" height="1.9" fill="#fdfdfd" stroke="#bdbdbd" stroke-width="0.5"/><rect x="21.2" y="238.9" width="7.3" height="1.9" fill="#fdfdfd" stroke="#bdbdbd" stroke-width="0.5"/><rect x="21.2" y="243.3" width="7.3" height="1.9" fill="#fdfdfd" stroke="#bdbdbd" stroke-width="0.5"/><rect x="31.0" y="217.2" width="7.3" height="1.9" fill="#fdfdfd" stroke="#bdbdbd" stroke-width="0.5"/><rect x="31.0" y="221.5" width="7.3" height="1.9" fill="#fdfdfd" stroke="#bdbdbd" stroke-width="0.5"/><rect x="31.0" y="225.9" width="7.3" height="1.9" fill="#fdfdfd" stroke="#bdbdbd" stroke-width="0.5"/><rect x="31.0" y="230.2" width="7.3" height="1.9" fill="#fdfdfd" stroke="#bdbdbd" stroke-width="0.5"/><rect x="31.0" y="234.6" width="7.3" height="1.9" fill="#fdfdfd" stroke="#bdbdbd" stroke-width="0.5"/><rect x="31.0" y="238.9" width="7.3" height="1.9" fill="#fdfdfd" stroke="#bdbdbd" stroke-width="0.5"/><rect x="31.0" y="243.3" width="7.3" height="1.9" fill="#fdfdfd" stroke="#bdbdbd" stroke-width="0.5"/><rect x="43.5" y="214.0" width="32.7" height="34.3" fill="#d9d9d9" stroke="#b3b3b3" stroke-width="0.8"/><line x1="44.7" y1="215.9" x2="75.0" y2="215.9" stroke="#c4c4c4" stroke-width="0.7"/><line x1="44.7" y1="220.3" x2="75.0" y2="220.3" stroke="#c4c4c4" stroke-width="0.7"/><line x1="44.7" y1="224.7" x2="75.0" y2="224.7" stroke="#c4c4c4" stroke-width="0.7"/><line x1="44.7" y1="229.0" x2="75.0" y2="229.0" stroke="#c4c4c4" stroke-width="0.7"/><line x1="44.7" y1="233.4" x2="75.0" y2="233.4" stroke="#c4c4c4" stroke-width="0.7"/><line x1="44.7" y1="237.7" x2="75.0" y2="237.7" stroke="#c4c4c4" stroke-width="0.7"/><line x1="44.7" y1="242.1" x2="75.0" y2="242.1" stroke="#c4c4c4" stroke-width="0.7"/><line x1="44.7" y1="246.4" x2="75.0" y2="246.4" stroke="#c4c4c4" stroke-width="0.7"/><line x1="55.2" y1="215.2" x2="55.2" y2="247.1" stroke="#e6e6e6" stroke-width="0.8"/><line x1="64.8" y1="215.2" x2="64.8" y2="247.1" stroke="#e6e6e6" stroke-width="0.8"/><rect x="46.8" y="217.2" width="7.2" height="1.9" fill="#fdfdfd" stroke="#bdbdbd" stroke-width="0.5"/><rect x="46.8" y="221.5" width="7.2" height="1.9" fill="#fdfdfd" stroke="#bdbdbd" stroke-width="0.5"/><rect x="46.8" y="225.9" width="7.2" height="1.9" fill="#fdfdfd" stroke="#bdbdbd" stroke-width="0.5"/><rect x="46.8" y="230.2" width="7.2" height="1.9" fill="#fdfdfd" stroke="#bdbdbd" stroke-width="0.5"/><rect x="46.8" y="234.6" width="7.2" height="1.9" fill="#fdfdfd" stroke="#bdbdbd" stroke-width="0.5"/><rect x="46.8" y="238.9" width="7.2" height="1.9" fill="#fdfdfd" stroke="#bdbdbd" stroke-width="0.5"/><rect x="46.8" y="243.3" width="7.2" height="1.9" fill="#fdfdfd" stroke="#bdbdbd" stroke-width="0.5"/><rect x="56.4" y="217.2" width="7.2" height="1.9" fill="#fdfdfd" stroke="#bdbdbd" stroke-width="0.5"/><rect x="56.4" y="221.5" width="7.2" height="1.9" fill="#fdfdfd" stroke="#bdbdbd" stroke-width="0.5"/><rect x="56.4" y="225.9" width="7.2" height="1.9" fill="#fdfdfd" stroke="#bdbdbd" stroke-width="0.5"/><rect x="56.4" y="230.2" width="7.2" height="1.9" fill="#fdfdfd" stroke="#bdbdbd" stroke-width="0.5"/><rect x="56.4" y="234.6" width="7.2" height="1.9" fill="#fdfdfd" stroke="#bdbdbd" stroke-width="0.5"/><rect x="56.4" y="238.9" width="7.2" height="1.9" fill="#fdfdfd" stroke="#bdbdbd" stroke-width="0.5"/><rect x="56.4" y="243.3" width="7.2" height="1.9" fill="#fdfdfd" stroke="#bdbdbd" stroke-width="0.5"/><rect x="66.1" y="217.2" width="7.2" height="1.9" fill="#fdfdfd" stroke="#bdbdbd" stroke-width="0.5"/><rect x="66.1" y="221.5" width="7.2" height="1.9" fill="#fdfdfd" stroke="#bdbdbd" stroke-width="0.5"/><rect x="66.1" y="225.9" width="7.2" height="1.9" fill="#fdfdfd" stroke="#bdbdbd" stroke-width="0.5"/><rect x="66.1" y="230.2" width="7.2" height="1.9" fill="#fdfdfd" stroke="#bdbdbd" stroke-width="0.5"/><rect x="66.1" y="234.6" width="7.2" height="1.9" fill="#fdfdfd" stroke="#bdbdbd" stroke-width="0.5"/><rect x="66.1" y="238.9" width="7.2" height="1.9" fill="#fdfdfd" stroke="#bdbdbd" stroke-width="0.5"/><rect x="66.1" y="243.3" width="7.2" height="1.9" fill="#fdfdfd" stroke="#bdbdbd" stroke-width="0.5"/><rect x="77.7" y="214.0" width="33.2" height="34.3" fill="#d9d9d9" stroke="#b3b3b3" stroke-width="0.8"/><line x1="78.9" y1="215.9" x2="109.7" y2="215.9" stroke="#c4c4c4" stroke-width="0.7"/><line x1="78.9" y1="220.3" x2="109.7" y2="220.3" stroke="#c4c4c4" stroke-width="0.7"/><line x1="78.9" y1="224.7" x2="109.7" y2="224.7" stroke="#c4c4c4" stroke-width="0.7"/><line x1="78.9" y1="229.0" x2="109.7" y2="229.0" stroke="#c4c4c4" stroke-width="0.7"/><line x1="78.9" y1="233.4" x2="109.7" y2="233.4" stroke="#c4c4c4" stroke-width="0.7"/><line x1="78.9" y1="237.7" x2="109.7" y2="237.7" stroke="#c4c4c4" stroke-width="0.7"/><line x1="78.9" y1="242.1" x2="109.7" y2="242.1" stroke="#c4c4c4" stroke-width="0.7"/><line x1="78.9" y1="246.4" x2="109.7" y2="246.4" stroke="#c4c4c4" stroke-width="0.7"/><line x1="89.6" y1="215.2" x2="89.6" y2="247.1" stroke="#e6e6e6" stroke-width="0.8"/><line x1="99.4" y1="215.2" x2="99.4" y2="247.1" stroke="#e6e6e6" stroke-width="0.8"/><rect x="81.0" y="217.2" width="7.3" height="1.9" fill="#fdfdfd" stroke="#bdbdbd" stroke-width="0.5"/><rect x="81.0" y="221.5" width="7.3" height="1.9" fill="#fdfdfd" stroke="#bdbdbd" stroke-width="0.5"/><rect x="81.0" y="225.9" width="7.3" height="1.9" fill="#fdfdfd" stroke="#bdbdbd" stroke-width="0.5"/><rect x="81.0" y="230.2" width="7.3" height="1.9" fill="#fdfdfd" stroke="#bdbdbd" stroke-width="0.5"/><rect x="81.0" y="234.6" width="7.3" height="1.9" fill="#fdfdfd" stroke="#bdbdbd" stroke-width="0.5"/><rect x="81.0" y="238.9" width="7.3" height="1.9" fill="#fdfdfd" stroke="#bdbdbd" stroke-width="0.5"/><rect x="81.0" y="243.3" width="7.3" height="1.9" fill="#fdfdfd" stroke="#bdbdbd" stroke-width="0.5"/><rect x="90.8" y="217.2" width="7.3" height="1.9" fill="#fdfdfd" stroke="#bdbdbd" stroke-width="0.5"/><rect x="90.8" y="221.5" width="7.3" height="1.9" fill="#fdfdfd" stroke="#bdbdbd" stroke-width="0.5"/><rect x="90.8" y="225.9" width="7.3" height="1.9" fill="#fdfdfd" stroke="#bdbdbd" stroke-width="0.5"/><rect x="90.8" y="230.2" width="7.3" height="1.9" fill="#fdfdfd" stroke="#bdbdbd" stroke-width="0.5"/><rect x="90.8" y="234.6" width="7.3" height="1.9" fill="#fdfdfd" stroke="#bdbdbd" stroke-width="0.5"/><rect x="90.8" y="238.9" width="7.3" height="1.9" fill="#fdfdfd" stroke="#bdbdbd" stroke-width="0.5"/><rect x="90.8" y="243.3" width="7.3" height="1.9" fill="#fdfdfd" stroke="#bdbdbd" stroke-width="0.5"/><rect x="100.6" y="217.2" width="7.3" height="1.9" fill="#fdfdfd" stroke="#bdbdbd" stroke-width="0.5"/><rect x="100.6" y="221.5" width="7.3" height="1.9" fill="#fdfdfd" stroke="#bdbdbd" stroke-width="0.5"/><rect x="100.6" y="225.9" width="7.3" height="1.9" fill="#fdfdfd" stroke="#bdbdbd" stroke-width="0.5"/><rect x="100.6" y="230.2" width="7.3" height="1.9" fill="#fdfdfd" stroke="#bdbdbd" stroke-width="0.5"/><rect x="100.6" y="234.6" width="7.3" height="1.9" fill="#fdfdfd" stroke="#bdbdbd" stroke-width="0.5"/><rect x="100.6" y="238.9" width="7.3" height="1.9" fill="#fdfdfd" stroke="#bdbdbd" stroke-width="0.5"/><rect x="100.6" y="243.3" width="7.3" height="1.9" fill="#fdfdfd" stroke="#bdbdbd" stroke-width="0.5"/><rect x="112.4" y="214.0" width="33.5" height="34.3" fill="#d9d9d9" stroke="#b3b3b3" stroke-width="0.8"/><line x1="113.6" y1="215.9" x2="144.7" y2="215.9" stroke="#c4c4c4" stroke-width="0.7"/><line x1="113.6" y1="220.3" x2="144.7" y2="220.3" stroke="#c4c4c4" stroke-width="0.7"/><line x1="113.6" y1="224.7" x2="144.7" y2="224.7" stroke="#c4c4c4" stroke-width="0.7"/><line x1="113.6" y1="229.0" x2="144.7" y2="229.0" stroke="#c4c4c4" stroke-width="0.7"/><line x1="113.6" y1="233.4" x2="144.7" y2="233.4" stroke="#c4c4c4" stroke-width="0.7"/><line x1="113.6" y1="237.7" x2="144.7" y2="237.7" stroke="#c4c4c4" stroke-width="0.7"/><line x1="113.6" y1="242.1" x2="144.7" y2="242.1" stroke="#c4c4c4" stroke-width="0.7"/><line x1="113.6" y1="246.4" x2="144.7" y2="246.4" stroke="#c4c4c4" stroke-width="0.7"/><line x1="124.4" y1="215.2" x2="124.4" y2="247.1" stroke="#e6e6e6" stroke-width="0.8"/><line x1="134.3" y1="215.2" x2="134.3" y2="247.1" stroke="#e6e6e6" stroke-width="0.8"/><rect x="115.8" y="217.2" width="7.4" height="1.9" fill="#fdfdfd" stroke="#bdbdbd" stroke-width="0.5"/><rect x="115.8" y="221.5" width="7.4" height="1.9" fill="#fdfdfd" stroke="#bdbdbd" stroke-width="0.5"/><rect x="115.8" y="225.9" width="7.4" height="1.9" fill="#fdfdfd" stroke="#bdbdbd" stroke-width="0.5"/><rect x="115.8" y="230.2" width="7.4" height="1.9" fill="#fdfdfd" stroke="#bdbdbd" stroke-width="0.5"/><rect x="115.8" y="234.6" width="7.4" height="1.9" fill="#fdfdfd" stroke="#bdbdbd" stroke-width="0.5"/><rect x="115.8" y="238.9" width="7.4" height="1.9" fill="#fdfdfd" stroke="#bdbdbd" stroke-width="0.5"/><rect x="115.8" y="243.3" width="7.4" height="1.9" fill="#fdfdfd" stroke="#bdbdbd" stroke-width="0.5"/><rect x="125.6" y="217.2" width="7.4" height="1.9" fill="#fdfdfd" stroke="#bdbdbd" stroke-width="0.5"/><rect x="125.6" y="221.5" width="7.4" height="1.9" fill="#fdfdfd" stroke="#bdbdbd" stroke-width="0.5"/><rect x="125.6" y="225.9" width="7.4" height="1.9" fill="#fdfdfd" stroke="#bdbdbd" stroke-width="0.5"/><rect x="125.6" y="230.2" width="7.4" height="1.9" fill="#fdfdfd" stroke="#bdbdbd" stroke-width="0.5"/><rect x="125.6" y="234.6" width="7.4" height="1.9" fill="#fdfdfd" stroke="#bdbdbd" stroke-width="0.5"/><rect x="125.6" y="238.9" width="7.4" height="1.9" fill="#fdfdfd" stroke="#bdbdbd" stroke-width="0.5"/><rect x="125.6" y="243.3" width="7.4" height="1.9" fill="#fdfdfd" stroke="#bdbdbd" stroke-width="0.5"/><rect x="135.5" y="217.2" width="7.4" height="1.9" fill="#fdfdfd" stroke="#bdbdbd" stroke-width="0.5"/><rect x="135.5" y="221.5" width="7.4" height="1.9" fill="#fdfdfd" stroke="#bdbdbd" stroke-width="0.5"/><rect x="135.5" y="225.9" width="7.4" height="1.9" fill="#fdfdfd" stroke="#bdbdbd" stroke-width="0.5"/><rect x="135.5" y="230.2" width="7.4" height="1.9" fill="#fdfdfd" stroke="#bdbdbd" stroke-width="0.5"/><rect x="135.5" y="234.6" width="7.4" height="1.9" fill="#fdfdfd" stroke="#bdbdbd" stroke-width="0.5"/><rect x="135.5" y="238.9" width="7.4" height="1.9" fill="#fdfdfd" stroke="#bdbdbd" stroke-width="0.5"/><rect x="135.5" y="243.3" width="7.4" height="1.9" fill="#fdfdfd" stroke="#bdbdbd" stroke-width="0.5"/><rect x="8.0" y="251.7" width="33.3" height="33.8" fill="#d9d9d9" stroke="#b3b3b3" stroke-width="0.8"/><line x1="9.2" y1="253.6" x2="40.1" y2="253.6" stroke="#c4c4c4" stroke-width="0.7"/><line x1="9.2" y1="257.9" x2="40.1" y2="257.9" stroke="#c4c4c4" stroke-width="0.7"/><line x1="9.2" y1="262.2" x2="40.1" y2="262.2" stroke="#c4c4c4" stroke-width="0.7"/><line x1="9.2" y1="266.5" x2="40.1" y2="266.5" stroke="#c4c4c4" stroke-width="0.7"/><line x1="9.2" y1="270.8" x2="40.1" y2="270.8" stroke="#c4c4c4" stroke-width="0.7"/><line x1="9.2" y1="275.1" x2="40.1" y2="275.1" stroke="#c4c4c4" stroke-width="0.7"/><line x1="9.2" y1="279.4" x2="40.1" y2="279.4" stroke="#c4c4c4" stroke-width="0.7"/><line x1="9.2" y1="283.7" x2="40.1" y2="283.7" stroke="#c4c4c4" stroke-width="0.7"/><line x1="19.9" y1="252.9" x2="19.9" y2="284.3" stroke="#e6e6e6" stroke-width="0.8"/><line x1="29.7" y1="252.9" x2="29.7" y2="284.3" stroke="#e6e6e6" stroke-width="0.8"/><rect x="11.3" y="254.8" width="7.3" height="1.9" fill="#fdfdfd" stroke="#bdbdbd" stroke-width="0.5"/><rect x="11.3" y="259.1" width="7.3" height="1.9" fill="#fdfdfd" stroke="#bdbdbd" stroke-width="0.5"/><rect x="11.3" y="263.4" width="7.3" height="1.9" fill="#fdfdfd" stroke="#bdbdbd" stroke-width="0.5"/><rect x="11.3" y="267.7" width="7.3" height="1.9" fill="#fdfdfd" stroke="#bdbdbd" stroke-width="0.5"/><rect x="11.3" y="272.0" width="7.3" height="1.9" fill="#fdfdfd" stroke="#bdbdbd" stroke-width="0.5"/><rect x="11.3" y="276.3" width="7.3" height="1.9" fill="#fdfdfd" stroke="#bdbdbd" stroke-width="0.5"/><rect x="11.3" y="280.6" width="7.3" height="1.9" fill="#fdfdfd" stroke="#bdbdbd" stroke-width="0.5"/><rect x="21.2" y="254.8" width="7.3" height="1.9" fill="#fdfdfd" stroke="#bdbdbd" stroke-width="0.5"/><rect x="21.2" y="259.1" width="7.3" height="1.9" fill="#fdfdfd" stroke="#bdbdbd" stroke-width="0.5"/><rect x="21.2" y="263.4" width="7.3" height="1.9" fill="#fdfdfd" stroke="#bdbdbd" stroke-width="0.5"/><rect x="21.2" y="267.7" width="7.3" height="1.9" fill="#fdfdfd" stroke="#bdbdbd" stroke-width="0.5"/><rect x="21.2" y="272.0" width="7.3" height="1.9" fill="#fdfdfd" stroke="#bdbdbd" stroke-width="0.5"/><rect x="21.2" y="276.3" width="7.3" height="1.9" fill="#fdfdfd" stroke="#bdbdbd" stroke-width="0.5"/><rect x="21.2" y="280.6" width="7.3" height="1.9" fill="#fdfdfd" stroke="#bdbdbd" stroke-width="0.5"/><rect x="31.0" y="254.8" width="7.3" height="1.9" fill="#fdfdfd" stroke="#bdbdbd" stroke-width="0.5"/><rect x="31.0" y="259.1" width="7.3" height="1.9" fill="#fdfdfd" stroke="#bdbdbd" stroke-width="0.5"/><rect x="31.0" y="263.4" width="7.3" height="1.9" fill="#fdfdfd" stroke="#bdbdbd" stroke-width="0.5"/><rect x="31.0" y="267.7" width="7.3" height="1.9" fill="#fdfdfd" stroke="#bdbdbd" stroke-width="0.5"/><rect x="31.0" y="272.0" width="7.3" height="1.9" fill="#fdfdfd" stroke="#bdbdbd" stroke-width="0.5"/><rect x="31.0" y="276.3" width="7.3" height="1.9" fill="#fdfdfd" stroke="#bdbdbd" stroke-width="0.5"/><rect x="31.0" y="280.6" width="7.3" height="1.9" fill="#fdfdfd" stroke="#bdbdbd" stroke-width="0.5"/><rect x="43.5" y="251.7" width="32.7" height="33.8" fill="#d9d9d9" stroke="#b3b3b3" stroke-width="0.8"/><line x1="44.7" y1="253.6" x2="75.0" y2="253.6" stroke="#c4c4c4" stroke-width="0.7"/><line x1="44.7" y1="257.9" x2="75.0" y2="257.9" stroke="#c4c4c4" stroke-width="0.7"/><line x1="44.7" y1="262.2" x2="75.0" y2="262.2" stroke="#c4c4c4" stroke-width="0.7"/><line x1="44.7" y1="266.5" x2="75.0" y2="266.5" stroke="#c4c4c4" stroke-width="0.7"/><line x1="44.7" y1="270.8" x2="75.0" y2="270.8" stroke="#c4c4c4" stroke-width="0.7"/><line x1="44.7" y1="275.1" x2="75.0" y2="275.1" stroke="#c4c4c4" stroke-width="0.7"/><line x1="44.7" y1="279.4" x2="75.0" y2="279.4" stroke="#c4c4c4" stroke-width="0.7"/><line x1="44.7" y1="283.7" x2="75.0" y2="283.7" stroke="#c4c4c4" stroke-width="0.7"/><line x1="55.2" y1="252.9" x2="55.2" y2="284.3" stroke="#e6e6e6" stroke-width="0.8"/><line x1="64.8" y1="252.9" x2="64.8" y2="284.3" stroke="#e6e6e6" stroke-width="0.8"/><rect x="46.8" y="254.8" width="7.2" height="1.9" fill="#fdfdfd" stroke="#bdbdbd" stroke-width="0.5"/><rect x="46.8" y="259.1" width="7.2" height="1.9" fill="#fdfdfd" stroke="#bdbdbd" stroke-width="0.5"/><rect x="46.8" y="263.4" width="7.2" height="1.9" fill="#fdfdfd" stroke="#bdbdbd" stroke-width="0.5"/><rect x="46.8" y="267.7" width="7.2" height="1.9" fill="#fdfdfd" stroke="#bdbdbd" stroke-width="0.5"/><rect x="46.8" y="272.0" width="7.2" height="1.9" fill="#fdfdfd" stroke="#bdbdbd" stroke-width="0.5"/><rect x="46.8" y="276.3" width="7.2" height="1.9" fill="#fdfdfd" stroke="#bdbdbd" stroke-width="0.5"/><rect x="46.8" y="280.6" width="7.2" height="1.9" fill="#fdfdfd" stroke="#bdbdbd" stroke-width="0.5"/><rect x="56.4" y="254.8" width="7.2" height="1.9" fill="#fdfdfd" stroke="#bdbdbd" stroke-width="0.5"/><rect x="56.4" y="259.1" width="7.2" height="1.9" fill="#fdfdfd" stroke="#bdbdbd" stroke-width="0.5"/><rect x="56.4" y="263.4" width="7.2" height="1.9" fill="#fdfdfd" stroke="#bdbdbd" stroke-width="0.5"/><rect x="56.4" y="267.7" width="7.2" height="1.9" fill="#fdfdfd" stroke="#bdbdbd" stroke-width="0.5"/><rect x="56.4" y="272.0" width="7.2" height="1.9" fill="#fdfdfd" stroke="#bdbdbd" stroke-width="0.5"/><rect x="56.4" y="276.3" width="7.2" height="1.9" fill="#fdfdfd" stroke="#bdbdbd" stroke-width="0.5"/><rect x="56.4" y="280.6" width="7.2" height="1.9" fill="#fdfdfd" stroke="#bdbdbd" stroke-width="0.5"/><rect x="66.1" y="254.8" width="7.2" height="1.9" fill="#fdfdfd" stroke="#bdbdbd" stroke-width="0.5"/><rect x="66.1" y="259.1" width="7.2" height="1.9" fill="#fdfdfd" stroke="#bdbdbd" stroke-width="0.5"/><rect x="66.1" y="263.4" width="7.2" height="1.9" fill="#fdfdfd" stroke="#bdbdbd" stroke-width="0.5"/><rect x="66.1" y="267.7" width="7.2" height="1.9" fill="#fdfdfd" stroke="#bdbdbd" stroke-width="0.5"/><rect x="66.1" y="272.0" width="7.2" height="1.9" fill="#fdfdfd" stroke="#bdbdbd" stroke-width="0.5"/><rect x="66.1" y="276.3" width="7.2" height="1.9" fill="#fdfdfd" stroke="#bdbdbd" stroke-width="0.5"/><rect x="66.1" y="280.6" width="7.2" height="1.9" fill="#fdfdfd" stroke="#bdbdbd" stroke-width="0.5"/><rect x="77.7" y="251.7" width="33.2" height="33.8" fill="#d9d9d9" stroke="#b3b3b3" stroke-width="0.8"/><line x1="78.9" y1="253.6" x2="109.7" y2="253.6" stroke="#c4c4c4" stroke-width="0.7"/><line x1="78.9" y1="257.9" x2="109.7" y2="257.9" stroke="#c4c4c4" stroke-width="0.7"/><line x1="78.9" y1="262.2" x2="109.7" y2="262.2" stroke="#c4c4c4" stroke-width="0.7"/><line x1="78.9" y1="266.5" x2="109.7" y2="266.5" stroke="#c4c4c4" stroke-width="0.7"/><line x1="78.9" y1="270.8" x2="109.7" y2="270.8" stroke="#c4c4c4" stroke-width="0.7"/><line x1="78.9" y1="275.1" x2="109.7" y2="275.1" stroke="#c4c4c4" stroke-width="0.7"/><line x1="78.9" y1="279.4" x2="109.7" y2="279.4" stroke="#c4c4c4" stroke-width="0.7"/><line x1="78.9" y1="283.7" x2="109.7" y2="283.7" stroke="#c4c4c4" stroke-width="0.7"/><line x1="89.6" y1="252.9" x2="89.6" y2="284.3" stroke="#e6e6e6" stroke-width="0.8"/><line x1="99.4" y1="252.9" x2="99.4" y2="284.3" stroke="#e6e6e6" stroke-width="0.8"/><rect x="81.0" y="254.8" width="7.3" height="1.9" fill="#fdfdfd" stroke="#bdbdbd" stroke-width="0.5"/><rect x="81.0" y="259.1" width="7.3" height="1.9" fill="#fdfdfd" stroke="#bdbdbd" stroke-width="0.5"/><rect x="81.0" y="263.4" width="7.3" height="1.9" fill="#fdfdfd" stroke="#bdbdbd" stroke-width="0.5"/><rect x="81.0" y="267.7" width="7.3" height="1.9" fill="#fdfdfd" stroke="#bdbdbd" stroke-width="0.5"/><rect x="81.0" y="272.0" width="7.3" height="1.9" fill="#fdfdfd" stroke="#bdbdbd" stroke-width="0.5"/><rect x="81.0" y="276.3" width="7.3" height="1.9" fill="#fdfdfd" stroke="#bdbdbd" stroke-width="0.5"/><rect x="81.0" y="280.6" width="7.3" height="1.9" fill="#fdfdfd" stroke="#bdbdbd" stroke-width="0.5"/><rect x="90.8" y="254.8" width="7.3" height="1.9" fill="#fdfdfd" stroke="#bdbdbd" stroke-width="0.5"/><rect x="90.8" y="259.1" width="7.3" height="1.9" fill="#fdfdfd" stroke="#bdbdbd" stroke-width="0.5"/><rect x="90.8" y="263.4" width="7.3" height="1.9" fill="#fdfdfd" stroke="#bdbdbd" stroke-width="0.5"/><rect x="90.8" y="267.7" width="7.3" height="1.9" fill="#fdfdfd" stroke="#bdbdbd" stroke-width="0.5"/><rect x="90.8" y="272.0" width="7.3" height="1.9" fill="#fdfdfd" stroke="#bdbdbd" stroke-width="0.5"/><rect x="90.8" y="276.3" width="7.3" height="1.9" fill="#fdfdfd" stroke="#bdbdbd" stroke-width="0.5"/><rect x="90.8" y="280.6" width="7.3" height="1.9" fill="#fdfdfd" stroke="#bdbdbd" stroke-width="0.5"/><rect x="100.6" y="254.8" width="7.3" height="1.9" fill="#fdfdfd" stroke="#bdbdbd" stroke-width="0.5"/><rect x="100.6" y="259.1" width="7.3" height="1.9" fill="#fdfdfd" stroke="#bdbdbd" stroke-width="0.5"/><rect x="100.6" y="263.4" width="7.3" height="1.9" fill="#fdfdfd" stroke="#bdbdbd" stroke-width="0.5"/><rect x="100.6" y="267.7" width="7.3" height="1.9" fill="#fdfdfd" stroke="#bdbdbd" stroke-width="0.5"/><rect x="100.6" y="272.0" width="7.3" height="1.9" fill="#fdfdfd" stroke="#bdbdbd" stroke-width="0.5"/><rect x="100.6" y="276.3" width="7.3" height="1.9" fill="#fdfdfd" stroke="#bdbdbd" stroke-width="0.5"/><rect x="100.6" y="280.6" width="7.3" height="1.9" fill="#fdfdfd" stroke="#bdbdbd" stroke-width="0.5"/><rect x="112.4" y="251.7" width="33.5" height="33.8" fill="#d9d9d9" stroke="#b3b3b3" stroke-width="0.8"/><line x1="113.6" y1="253.6" x2="144.7" y2="253.6" stroke="#c4c4c4" stroke-width="0.7"/><line x1="113.6" y1="257.9" x2="144.7" y2="257.9" stroke="#c4c4c4" stroke-width="0.7"/><line x1="113.6" y1="262.2" x2="144.7" y2="262.2" stroke="#c4c4c4" stroke-width="0.7"/><line x1="113.6" y1="266.5" x2="144.7" y2="266.5" stroke="#c4c4c4" stroke-width="0.7"/><line x1="113.6" y1="270.8" x2="144.7" y2="270.8" stroke="#c4c4c4" stroke-width="0.7"/><line x1="113.6" y1="275.1" x2="144.7" y2="275.1" stroke="#c4c4c4" stroke-width="0.7"/><line x1="113.6" y1="279.4" x2="144.7" y2="279.4" stroke="#c4c4c4" stroke-width="0.7"/><line x1="113.6" y1="283.7" x2="144.7" y2="283.7" stroke="#c4c4c4" stroke-width="0.7"/><line x1="124.4" y1="252.9" x2="124.4" y2="284.3" stroke="#e6e6e6" stroke-width="0.8"/><line x1="134.3" y1="252.9" x2="134.3" y2="284.3" stroke="#e6e6e6" stroke-width="0.8"/><rect x="115.8" y="254.8" width="7.4" height="1.9" fill="#fdfdfd" stroke="#bdbdbd" stroke-width="0.5"/><rect x="115.8" y="259.1" width="7.4" height="1.9" fill="#fdfdfd" stroke="#bdbdbd" stroke-width="0.5"/><rect x="115.8" y="263.4" width="7.4" height="1.9" fill="#fdfdfd" stroke="#bdbdbd" stroke-width="0.5"/><rect x="115.8" y="267.7" width="7.4" height="1.9" fill="#fdfdfd" stroke="#bdbdbd" stroke-width="0.5"/><rect x="115.8" y="272.0" width="7.4" height="1.9" fill="#fdfdfd" stroke="#bdbdbd" stroke-width="0.5"/><rect x="115.8" y="276.3" width="7.4" height="1.9" fill="#fdfdfd" stroke="#bdbdbd" stroke-width="0.5"/><rect x="115.8" y="280.6" width="7.4" height="1.9" fill="#fdfdfd" stroke="#bdbdbd" stroke-width="0.5"/><rect x="125.6" y="254.8" width="7.4" height="1.9" fill="#fdfdfd" stroke="#bdbdbd" stroke-width="0.5"/><rect x="125.6" y="259.1" width="7.4" height="1.9" fill="#fdfdfd" stroke="#bdbdbd" stroke-width="0.5"/><rect x="125.6" y="263.4" width="7.4" height="1.9" fill="#fdfdfd" stroke="#bdbdbd" stroke-width="0.5"/><rect x="125.6" y="267.7" width="7.4" height="1.9" fill="#fdfdfd" stroke="#bdbdbd" stroke-width="0.5"/><rect x="125.6" y="272.0" width="7.4" height="1.9" fill="#fdfdfd" stroke="#bdbdbd" stroke-width="0.5"/><rect x="125.6" y="276.3" width="7.4" height="1.9" fill="#fdfdfd" stroke="#bdbdbd" stroke-width="0.5"/><rect x="125.6" y="280.6" width="7.4" height="1.9" fill="#fdfdfd" stroke="#bdbdbd" stroke-width="0.5"/><rect x="135.5" y="254.8" width="7.4" height="1.9" fill="#fdfdfd" stroke="#bdbdbd" stroke-width="0.5"/><rect x="135.5" y="259.1" width="7.4" height="1.9" fill="#fdfdfd" stroke="#bdbdbd" stroke-width="0.5"/><rect x="135.5" y="263.4" width="7.4" height="1.9" fill="#fdfdfd" stroke="#bdbdbd" stroke-width="0.5"/><rect x="135.5" y="267.7" width="7.4" height="1.9" fill="#fdfdfd" stroke="#bdbdbd" stroke-width="0.5"/><rect x="135.5" y="272.0" width="7.4" height="1.9" fill="#fdfdfd" stroke="#bdbdbd" stroke-width="0.5"/><rect x="135.5" y="276.3" width="7.4" height="1.9" fill="#fdfdfd" stroke="#bdbdbd" stroke-width="0.5"/><rect x="135.5" y="280.6" width="7.4" height="1.9" fill="#fdfdfd" stroke="#bdbdbd" stroke-width="0.5"/><rect x="8.0" y="288.0" width="33.3" height="35.0" fill="#d9d9d9" stroke="#b3b3b3" stroke-width="0.8"/><line x1="9.2" y1="290.0" x2="40.1" y2="290.0" stroke="#c4c4c4" stroke-width="0.7"/><line x1="9.2" y1="294.4" x2="40.1" y2="294.4" stroke="#c4c4c4" stroke-width="0.7"/><line x1="9.2" y1="298.9" x2="40.1" y2="298.9" stroke="#c4c4c4" stroke-width="0.7"/><line x1="9.2" y1="303.3" x2="40.1" y2="303.3" stroke="#c4c4c4" stroke-width="0.7"/><line x1="9.2" y1="307.8" x2="40.1" y2="307.8" stroke="#c4c4c4" stroke-width="0.7"/><line x1="9.2" y1="312.2" x2="40.1" y2="312.2" stroke="#c4c4c4" stroke-width="0.7"/><line x1="9.2" y1="316.6" x2="40.1" y2="316.6" stroke="#c4c4c4" stroke-width="0.7"/><line x1="9.2" y1="321.1" x2="40.1" y2="321.1" stroke="#c4c4c4" stroke-width="0.7"/><line x1="19.9" y1="289.2" x2="19.9" y2="321.8" stroke="#e6e6e6" stroke-width="0.8"/><line x1="29.7" y1="289.2" x2="29.7" y2="321.8" stroke="#e6e6e6" stroke-width="0.8"/><rect x="11.3" y="291.2" width="7.3" height="1.9" fill="#fdfdfd" stroke="#bdbdbd" stroke-width="0.5"/><rect x="11.3" y="295.7" width="7.3" height="1.9" fill="#fdfdfd" stroke="#bdbdbd" stroke-width="0.5"/><rect x="11.3" y="300.1" width="7.3" height="1.9" fill="#fdfdfd" stroke="#bdbdbd" stroke-width="0.5"/><rect x="11.3" y="304.6" width="7.3" height="1.9" fill="#fdfdfd" stroke="#bdbdbd" stroke-width="0.5"/><rect x="11.3" y="309.0" width="7.3" height="1.9" fill="#fdfdfd" stroke="#bdbdbd" stroke-width="0.5"/><rect x="11.3" y="313.5" width="7.3" height="1.9" fill="#fdfdfd" stroke="#bdbdbd" stroke-width="0.5"/><rect x="11.3" y="317.9" width="7.3" height="1.9" fill="#fdfdfd" stroke="#bdbdbd" stroke-width="0.5"/><rect x="21.2" y="291.2" width="7.3" height="1.9" fill="#fdfdfd" stroke="#bdbdbd" stroke-width="0.5"/><rect x="21.2" y="295.7" width="7.3" height="1.9" fill="#fdfdfd" stroke="#bdbdbd" stroke-width="0.5"/><rect x="21.2" y="300.1" width="7.3" height="1.9" fill="#fdfdfd" stroke="#bdbdbd" stroke-width="0.5"/><rect x="21.2" y="304.6" width="7.3" height="1.9" fill="#fdfdfd" stroke="#bdbdbd" stroke-width="0.5"/><rect x="21.2" y="309.0" width="7.3" height="1.9" fill="#fdfdfd" stroke="#bdbdbd" stroke-width="0.5"/><rect x="21.2" y="313.5" width="7.3" height="1.9" fill="#fdfdfd" stroke="#bdbdbd" stroke-width="0.5"/><rect x="21.2" y="317.9" width="7.3" height="1.9" fill="#fdfdfd" stroke="#bdbdbd" stroke-width="0.5"/><rect x="31.0" y="291.2" width="7.3" height="1.9" fill="#fdfdfd" stroke="#bdbdbd" stroke-width="0.5"/><rect x="31.0" y="295.7" width="7.3" height="1.9" fill="#fdfdfd" stroke="#bdbdbd" stroke-width="0.5"/><rect x="31.0" y="300.1" width="7.3" height="1.9" fill="#fdfdfd" stroke="#bdbdbd" stroke-width="0.5"/><rect x="31.0" y="304.6" width="7.3" height="1.9" fill="#fdfdfd" stroke="#bdbdbd" stroke-width="0.5"/><rect x="31.0" y="309.0" width="7.3" height="1.9" fill="#fdfdfd" stroke="#bdbdbd" stroke-width="0.5"/><rect x="31.0" y="313.5" width="7.3" height="1.9" fill="#fdfdfd" stroke="#bdbdbd" stroke-width="0.5"/><rect x="31.0" y="317.9" width="7.3" height="1.9" fill="#fdfdfd" stroke="#bdbdbd" stroke-width="0.5"/><rect x="43.5" y="288.0" width="32.7" height="35.0" fill="#d9d9d9" stroke="#b3b3b3" stroke-width="0.8"/><line x1="44.7" y1="290.0" x2="75.0" y2="290.0" stroke="#c4c4c4" stroke-width="0.7"/><line x1="44.7" y1="294.4" x2="75.0" y2="294.4" stroke="#c4c4c4" stroke-width="0.7"/><line x1="44.7" y1="298.9" x2="75.0" y2="298.9" stroke="#c4c4c4" stroke-width="0.7"/><line x1="44.7" y1="303.3" x2="75.0" y2="303.3" stroke="#c4c4c4" stroke-width="0.7"/><line x1="44.7" y1="307.8" x2="75.0" y2="307.8" stroke="#c4c4c4" stroke-width="0.7"/><line x1="44.7" y1="312.2" x2="75.0" y2="312.2" stroke="#c4c4c4" stroke-width="0.7"/><line x1="44.7" y1="316.6" x2="75.0" y2="316.6" stroke="#c4c4c4" stroke-width="0.7"/><line x1="44.7" y1="321.1" x2="75.0" y2="321.1" stroke="#c4c4c4" stroke-width="0.7"/><line x1="55.2" y1="289.2" x2="55.2" y2="321.8" stroke="#e6e6e6" stroke-width="0.8"/><line x1="64.8" y1="289.2" x2="64.8" y2="321.8" stroke="#e6e6e6" stroke-width="0.8"/><rect x="46.8" y="291.2" width="7.2" height="1.9" fill="#fdfdfd" stroke="#bdbdbd" stroke-width="0.5"/><rect x="46.8" y="295.7" width="7.2" height="1.9" fill="#fdfdfd" stroke="#bdbdbd" stroke-width="0.5"/><rect x="46.8" y="300.1" width="7.2" height="1.9" fill="#fdfdfd" stroke="#bdbdbd" stroke-width="0.5"/><rect x="46.8" y="304.6" width="7.2" height="1.9" fill="#fdfdfd" stroke="#bdbdbd" stroke-width="0.5"/><rect x="46.8" y="309.0" width="7.2" height="1.9" fill="#fdfdfd" stroke="#bdbdbd" stroke-width="0.5"/><rect x="46.8" y="313.5" width="7.2" height="1.9" fill="#fdfdfd" stroke="#bdbdbd" stroke-width="0.5"/><rect x="46.8" y="317.9" width="7.2" height="1.9" fill="#fdfdfd" stroke="#bdbdbd" stroke-width="0.5"/><rect x="56.4" y="291.2" width="7.2" height="1.9" fill="#fdfdfd" stroke="#bdbdbd" stroke-width="0.5"/><rect x="56.4" y="295.7" width="7.2" height="1.9" fill="#fdfdfd" stroke="#bdbdbd" stroke-width="0.5"/><rect x="56.4" y="300.1" width="7.2" height="1.9" fill="#fdfdfd" stroke="#bdbdbd" stroke-width="0.5"/><rect x="56.4" y="304.6" width="7.2" height="1.9" fill="#fdfdfd" stroke="#bdbdbd" stroke-width="0.5"/><rect x="56.4" y="309.0" width="7.2" height="1.9" fill="#fdfdfd" stroke="#bdbdbd" stroke-width="0.5"/><rect x="56.4" y="313.5" width="7.2" height="1.9" fill="#fdfdfd" stroke="#bdbdbd" stroke-width="0.5"/><rect x="56.4" y="317.9" width="7.2" height="1.9" fill="#fdfdfd" stroke="#bdbdbd" stroke-width="0.5"/><rect x="66.1" y="291.2" width="7.2" height="1.9" fill="#fdfdfd" stroke="#bdbdbd" stroke-width="0.5"/><rect x="66.1" y="295.7" width="7.2" height="1.9" fill="#fdfdfd" stroke="#bdbdbd" stroke-width="0.5"/><rect x="66.1" y="300.1" width="7.2" height="1.9" fill="#fdfdfd" stroke="#bdbdbd" stroke-width="0.5"/><rect x="66.1" y="304.6" width="7.2" height="1.9" fill="#fdfdfd" stroke="#bdbdbd" stroke-width="0.5"/><rect x="66.1" y="309.0" width="7.2" height="1.9" fill="#fdfdfd" stroke="#bdbdbd" stroke-width="0.5"/><rect x="66.1" y="313.5" width="7.2" height="1.9" fill="#fdfdfd" stroke="#bdbdbd" stroke-width="0.5"/><rect x="66.1" y="317.9" width="7.2" height="1.9" fill="#fdfdfd" stroke="#bdbdbd" stroke-width="0.5"/><rect x="77.7" y="288.0" width="33.2" height="35.0" fill="#d9d9d9" stroke="#b3b3b3" stroke-width="0.8"/><line x1="78.9" y1="290.0" x2="109.7" y2="290.0" stroke="#c4c4c4" stroke-width="0.7"/><line x1="78.9" y1="294.4" x2="109.7" y2="294.4" stroke="#c4c4c4" stroke-width="0.7"/><line x1="78.9" y1="298.9" x2="109.7" y2="298.9" stroke="#c4c4c4" stroke-width="0.7"/><line x1="78.9" y1="303.3" x2="109.7" y2="303.3" stroke="#c4c4c4" stroke-width="0.7"/><line x1="78.9" y1="307.8" x2="109.7" y2="307.8" stroke="#c4c4c4" stroke-width="0.7"/><line x1="78.9" y1="312.2" x2="109.7" y2="312.2" stroke="#c4c4c4" stroke-width="0.7"/><line x1="78.9" y1="316.6" x2="109.7" y2="316.6" stroke="#c4c4c4" stroke-width="0.7"/><line x1="78.9" y1="321.1" x2="109.7" y2="321.1" stroke="#c4c4c4" stroke-width="0.7"/><line x1="89.6" y1="289.2" x2="89.6" y2="321.8" stroke="#e6e6e6" stroke-width="0.8"/><line x1="99.4" y1="289.2" x2="99.4" y2="321.8" stroke="#e6e6e6" stroke-width="0.8"/><rect x="81.0" y="291.2" width="7.3" height="1.9" fill="#fdfdfd" stroke="#bdbdbd" stroke-width="0.5"/><rect x="81.0" y="295.7" width="7.3" height="1.9" fill="#fdfdfd" stroke="#bdbdbd" stroke-width="0.5"/><rect x="81.0" y="300.1" width="7.3" height="1.9" fill="#fdfdfd" stroke="#bdbdbd" stroke-width="0.5"/><rect x="81.0" y="304.6" width="7.3" height="1.9" fill="#fdfdfd" stroke="#bdbdbd" stroke-width="0.5"/><rect x="81.0" y="309.0" width="7.3" height="1.9" fill="#fdfdfd" stroke="#bdbdbd" stroke-width="0.5"/><rect x="81.0" y="313.5" width="7.3" height="1.9" fill="#fdfdfd" stroke="#bdbdbd" stroke-width="0.5"/><rect x="81.0" y="317.9" width="7.3" height="1.9" fill="#fdfdfd" stroke="#bdbdbd" stroke-width="0.5"/><rect x="90.8" y="291.2" width="7.3" height="1.9" fill="#fdfdfd" stroke="#bdbdbd" stroke-width="0.5"/><rect x="90.8" y="295.7" width="7.3" height="1.9" fill="#fdfdfd" stroke="#bdbdbd" stroke-width="0.5"/><rect x="90.8" y="300.1" width="7.3" height="1.9" fill="#fdfdfd" stroke="#bdbdbd" stroke-width="0.5"/><rect x="90.8" y="304.6" width="7.3" height="1.9" fill="#fdfdfd" stroke="#bdbdbd" stroke-width="0.5"/><rect x="90.8" y="309.0" width="7.3" height="1.9" fill="#fdfdfd" stroke="#bdbdbd" stroke-width="0.5"/><rect x="90.8" y="313.5" width="7.3" height="1.9" fill="#fdfdfd" stroke="#bdbdbd" stroke-width="0.5"/><rect x="90.8" y="317.9" width="7.3" height="1.9" fill="#fdfdfd" stroke="#bdbdbd" stroke-width="0.5"/><rect x="100.6" y="291.2" width="7.3" height="1.9" fill="#fdfdfd" stroke="#bdbdbd" stroke-width="0.5"/><rect x="100.6" y="295.7" width="7.3" height="1.9" fill="#fdfdfd" stroke="#bdbdbd" stroke-width="0.5"/><rect x="100.6" y="300.1" width="7.3" height="1.9" fill="#fdfdfd" stroke="#bdbdbd" stroke-width="0.5"/><rect x="100.6" y="304.6" width="7.3" height="1.9" fill="#fdfdfd" stroke="#bdbdbd" stroke-width="0.5"/><rect x="100.6" y="309.0" width="7.3" height="1.9" fill="#fdfdfd" stroke="#bdbdbd" stroke-width="0.5"/><rect x="100.6" y="313.5" width="7.3" height="1.9" fill="#fdfdfd" stroke="#bdbdbd" stroke-width="0.5"/><rect x="100.6" y="317.9" width="7.3" height="1.9" fill="#fdfdfd" stroke="#bdbdbd" stroke-width="0.5"/><rect x="112.4" y="288.0" width="33.5" height="35.0" fill="#d9d9d9" stroke="#b3b3b3" stroke-width="0.8"/><line x1="113.6" y1="290.0" x2="144.7" y2="290.0" stroke="#c4c4c4" stroke-width="0.7"/><line x1="113.6" y1="294.4" x2="144.7" y2="294.4" stroke="#c4c4c4" stroke-width="0.7"/><line x1="113.6" y1="298.9" x2="144.7" y2="298.9" stroke="#c4c4c4" stroke-width="0.7"/><line x1="113.6" y1="303.3" x2="144.7" y2="303.3" stroke="#c4c4c4" stroke-width="0.7"/><line x1="113.6" y1="307.8" x2="144.7" y2="307.8" stroke="#c4c4c4" stroke-width="0.7"/><line x1="113.6" y1="312.2" x2="144.7" y2="312.2" stroke="#c4c4c4" stroke-width="0.7"/><line x1="113.6" y1="316.6" x2="144.7" y2="316.6" stroke="#c4c4c4" stroke-width="0.7"/><line x1="113.6" y1="321.1" x2="144.7" y2="321.1" stroke="#c4c4c4" stroke-width="0.7"/><line x1="124.4" y1="289.2" x2="124.4" y2="321.8" stroke="#e6e6e6" stroke-width="0.8"/><line x1="134.3" y1="289.2" x2="134.3" y2="321.8" stroke="#e6e6e6" stroke-width="0.8"/><rect x="115.8" y="291.2" width="7.4" height="1.9" fill="#fdfdfd" stroke="#bdbdbd" stroke-width="0.5"/><rect x="115.8" y="295.7" width="7.4" height="1.9" fill="#fdfdfd" stroke="#bdbdbd" stroke-width="0.5"/><rect x="115.8" y="300.1" width="7.4" height="1.9" fill="#fdfdfd" stroke="#bdbdbd" stroke-width="0.5"/><rect x="115.8" y="304.6" width="7.4" height="1.9" fill="#fdfdfd" stroke="#bdbdbd" stroke-width="0.5"/><rect x="115.8" y="309.0" width="7.4" height="1.9" fill="#fdfdfd" stroke="#bdbdbd" stroke-width="0.5"/><rect x="115.8" y="313.5" width="7.4" height="1.9" fill="#fdfdfd" stroke="#bdbdbd" stroke-width="0.5"/><rect x="115.8" y="317.9" width="7.4" height="1.9" fill="#fdfdfd" stroke="#bdbdbd" stroke-width="0.5"/><rect x="125.6" y="291.2" width="7.4" height="1.9" fill="#fdfdfd" stroke="#bdbdbd" stroke-width="0.5"/><rect x="125.6" y="295.7" width="7.4" height="1.9" fill="#fdfdfd" stroke="#bdbdbd" stroke-width="0.5"/><rect x="125.6" y="300.1" width="7.4" height="1.9" fill="#fdfdfd" stroke="#bdbdbd" stroke-width="0.5"/><rect x="125.6" y="304.6" width="7.4" height="1.9" fill="#fdfdfd" stroke="#bdbdbd" stroke-width="0.5"/><rect x="125.6" y="309.0" width="7.4" height="1.9" fill="#fdfdfd" stroke="#bdbdbd" stroke-width="0.5"/><rect x="125.6" y="313.5" width="7.4" height="1.9" fill="#fdfdfd" stroke="#bdbdbd" stroke-width="0.5"/><rect x="125.6" y="317.9" width="7.4" height="1.9" fill="#fdfdfd" stroke="#bdbdbd" stroke-width="0.5"/><rect x="135.5" y="291.2" width="7.4" height="1.9" fill="#fdfdfd" stroke="#bdbdbd" stroke-width="0.5"/><rect x="135.5" y="295.7" width="7.4" height="1.9" fill="#fdfdfd" stroke="#bdbdbd" stroke-width="0.5"/><rect x="135.5" y="300.1" width="7.4" height="1.9" fill="#fdfdfd" stroke="#bdbdbd" stroke-width="0.5"/><rect x="135.5" y="304.6" width="7.4" height="1.9" fill="#fdfdfd" stroke="#bdbdbd" stroke-width="0.5"/><rect x="135.5" y="309.0" width="7.4" height="1.9" fill="#fdfdfd" stroke="#bdbdbd" stroke-width="0.5"/><rect x="135.5" y="313.5" width="7.4" height="1.9" fill="#fdfdfd" stroke="#bdbdbd" stroke-width="0.5"/><rect x="135.5" y="317.9" width="7.4" height="1.9" fill="#fdfdfd" stroke="#bdbdbd" stroke-width="0.5"/><path d="M5.8,95.8 L148.0,95.8 L153.1,103.5 L153.2,334.5 L10.0,334.5 L5.8,327.5 L5.8,95.8" fill="none" stroke="#252525" stroke-width="1.8" stroke-linejoin="round"/><path d="M148.0,96.0 L148.0,326.6 M5.8,326.6 L148.0,326.6 L153.0,334.3" fill="none" stroke="#2a2a2a" stroke-width="1.7"/>
<rect x="366.9" y="106.2" width="33.3" height="34.3" fill="#d9d9d9" stroke="#b3b3b3" stroke-width="0.8"/><line x1="368.1" y1="108.1" x2="399.0" y2="108.1" stroke="#c4c4c4" stroke-width="0.7"/><line x1="368.1" y1="112.5" x2="399.0" y2="112.5" stroke="#c4c4c4" stroke-width="0.7"/><line x1="368.1" y1="116.9" x2="399.0" y2="116.9" stroke="#c4c4c4" stroke-width="0.7"/><line x1="368.1" y1="121.2" x2="399.0" y2="121.2" stroke="#c4c4c4" stroke-width="0.7"/><line x1="368.1" y1="125.6" x2="399.0" y2="125.6" stroke="#c4c4c4" stroke-width="0.7"/><line x1="368.1" y1="129.9" x2="399.0" y2="129.9" stroke="#c4c4c4" stroke-width="0.7"/><line x1="368.1" y1="134.3" x2="399.0" y2="134.3" stroke="#c4c4c4" stroke-width="0.7"/><line x1="368.1" y1="138.6" x2="399.0" y2="138.6" stroke="#c4c4c4" stroke-width="0.7"/><line x1="378.8" y1="107.4" x2="378.8" y2="139.3" stroke="#e6e6e6" stroke-width="0.8"/><line x1="388.6" y1="107.4" x2="388.6" y2="139.3" stroke="#e6e6e6" stroke-width="0.8"/><rect x="370.2" y="109.4" width="7.3" height="1.9" fill="#fdfdfd" stroke="#bdbdbd" stroke-width="0.5"/><rect x="370.2" y="113.7" width="7.3" height="1.9" fill="#fdfdfd" stroke="#bdbdbd" stroke-width="0.5"/><rect x="370.2" y="118.1" width="7.3" height="1.9" fill="#fdfdfd" stroke="#bdbdbd" stroke-width="0.5"/><rect x="370.2" y="122.4" width="7.3" height="1.9" fill="#fdfdfd" stroke="#bdbdbd" stroke-width="0.5"/><rect x="370.2" y="126.8" width="7.3" height="1.9" fill="#fdfdfd" stroke="#bdbdbd" stroke-width="0.5"/><rect x="370.2" y="131.1" width="7.3" height="1.9" fill="#fdfdfd" stroke="#bdbdbd" stroke-width="0.5"/><rect x="370.2" y="135.5" width="7.3" height="1.9" fill="#fdfdfd" stroke="#bdbdbd" stroke-width="0.5"/><rect x="380.1" y="109.4" width="7.3" height="1.9" fill="#fdfdfd" stroke="#bdbdbd" stroke-width="0.5"/><rect x="380.1" y="113.7" width="7.3" height="1.9" fill="#fdfdfd" stroke="#bdbdbd" stroke-width="0.5"/><rect x="380.1" y="118.1" width="7.3" height="1.9" fill="#fdfdfd" stroke="#bdbdbd" stroke-width="0.5"/><rect x="380.1" y="122.4" width="7.3" height="1.9" fill="#fdfdfd" stroke="#bdbdbd" stroke-width="0.5"/><rect x="380.1" y="126.8" width="7.3" height="1.9" fill="#fdfdfd" stroke="#bdbdbd" stroke-width="0.5"/><rect x="380.1" y="131.1" width="7.3" height="1.9" fill="#fdfdfd" stroke="#bdbdbd" stroke-width="0.5"/><rect x="380.1" y="135.5" width="7.3" height="1.9" fill="#fdfdfd" stroke="#bdbdbd" stroke-width="0.5"/><rect x="389.9" y="109.4" width="7.3" height="1.9" fill="#fdfdfd" stroke="#bdbdbd" stroke-width="0.5"/><rect x="389.9" y="113.7" width="7.3" height="1.9" fill="#fdfdfd" stroke="#bdbdbd" stroke-width="0.5"/><rect x="389.9" y="118.1" width="7.3" height="1.9" fill="#fdfdfd" stroke="#bdbdbd" stroke-width="0.5"/><rect x="389.9" y="122.4" width="7.3" height="1.9" fill="#fdfdfd" stroke="#bdbdbd" stroke-width="0.5"/><rect x="389.9" y="126.8" width="7.3" height="1.9" fill="#fdfdfd" stroke="#bdbdbd" stroke-width="0.5"/><rect x="389.9" y="131.1" width="7.3" height="1.9" fill="#fdfdfd" stroke="#bdbdbd" stroke-width="0.5"/><rect x="389.9" y="135.5" width="7.3" height="1.9" fill="#fdfdfd" stroke="#bdbdbd" stroke-width="0.5"/><rect x="401.6" y="106.2" width="33.4" height="34.3" fill="#d9d9d9" stroke="#b3b3b3" stroke-width="0.8"/><line x1="402.8" y1="108.1" x2="433.8" y2="108.1" stroke="#c4c4c4" stroke-width="0.7"/><line x1="402.8" y1="112.5" x2="433.8" y2="112.5" stroke="#c4c4c4" stroke-width="0.7"/><line x1="402.8" y1="116.9" x2="433.8" y2="116.9" stroke="#c4c4c4" stroke-width="0.7"/><line x1="402.8" y1="121.2" x2="433.8" y2="121.2" stroke="#c4c4c4" stroke-width="0.7"/><line x1="402.8" y1="125.6" x2="433.8" y2="125.6" stroke="#c4c4c4" stroke-width="0.7"/><line x1="402.8" y1="129.9" x2="433.8" y2="129.9" stroke="#c4c4c4" stroke-width="0.7"/><line x1="402.8" y1="134.3" x2="433.8" y2="134.3" stroke="#c4c4c4" stroke-width="0.7"/><line x1="402.8" y1="138.6" x2="433.8" y2="138.6" stroke="#c4c4c4" stroke-width="0.7"/><line x1="413.5" y1="107.4" x2="413.5" y2="139.3" stroke="#e6e6e6" stroke-width="0.8"/><line x1="423.4" y1="107.4" x2="423.4" y2="139.3" stroke="#e6e6e6" stroke-width="0.8"/><rect x="404.9" y="109.4" width="7.3" height="1.9" fill="#fdfdfd" stroke="#bdbdbd" stroke-width="0.5"/><rect x="404.9" y="113.7" width="7.3" height="1.9" fill="#fdfdfd" stroke="#bdbdbd" stroke-width="0.5"/><rect x="404.9" y="118.1" width="7.3" height="1.9" fill="#fdfdfd" stroke="#bdbdbd" stroke-width="0.5"/><rect x="404.9" y="122.4" width="7.3" height="1.9" fill="#fdfdfd" stroke="#bdbdbd" stroke-width="0.5"/><rect x="404.9" y="126.8" width="7.3" height="1.9" fill="#fdfdfd" stroke="#bdbdbd" stroke-width="0.5"/><rect x="404.9" y="131.1" width="7.3" height="1.9" fill="#fdfdfd" stroke="#bdbdbd" stroke-width="0.5"/><rect x="404.9" y="135.5" width="7.3" height="1.9" fill="#fdfdfd" stroke="#bdbdbd" stroke-width="0.5"/><rect x="414.8" y="109.4" width="7.3" height="1.9" fill="#fdfdfd" stroke="#bdbdbd" stroke-width="0.5"/><rect x="414.8" y="113.7" width="7.3" height="1.9" fill="#fdfdfd" stroke="#bdbdbd" stroke-width="0.5"/><rect x="414.8" y="118.1" width="7.3" height="1.9" fill="#fdfdfd" stroke="#bdbdbd" stroke-width="0.5"/><rect x="414.8" y="122.4" width="7.3" height="1.9" fill="#fdfdfd" stroke="#bdbdbd" stroke-width="0.5"/><rect x="414.8" y="126.8" width="7.3" height="1.9" fill="#fdfdfd" stroke="#bdbdbd" stroke-width="0.5"/><rect x="414.8" y="131.1" width="7.3" height="1.9" fill="#fdfdfd" stroke="#bdbdbd" stroke-width="0.5"/><rect x="414.8" y="135.5" width="7.3" height="1.9" fill="#fdfdfd" stroke="#bdbdbd" stroke-width="0.5"/><rect x="424.6" y="109.4" width="7.3" height="1.9" fill="#fdfdfd" stroke="#bdbdbd" stroke-width="0.5"/><rect x="424.6" y="113.7" width="7.3" height="1.9" fill="#fdfdfd" stroke="#bdbdbd" stroke-width="0.5"/><rect x="424.6" y="118.1" width="7.3" height="1.9" fill="#fdfdfd" stroke="#bdbdbd" stroke-width="0.5"/><rect x="424.6" y="122.4" width="7.3" height="1.9" fill="#fdfdfd" stroke="#bdbdbd" stroke-width="0.5"/><rect x="424.6" y="126.8" width="7.3" height="1.9" fill="#fdfdfd" stroke="#bdbdbd" stroke-width="0.5"/><rect x="424.6" y="131.1" width="7.3" height="1.9" fill="#fdfdfd" stroke="#bdbdbd" stroke-width="0.5"/><rect x="424.6" y="135.5" width="7.3" height="1.9" fill="#fdfdfd" stroke="#bdbdbd" stroke-width="0.5"/><rect x="436.5" y="106.2" width="32.3" height="34.3" fill="#d9d9d9" stroke="#b3b3b3" stroke-width="0.8"/><line x1="437.7" y1="108.1" x2="467.6" y2="108.1" stroke="#c4c4c4" stroke-width="0.7"/><line x1="437.7" y1="112.5" x2="467.6" y2="112.5" stroke="#c4c4c4" stroke-width="0.7"/><line x1="437.7" y1="116.9" x2="467.6" y2="116.9" stroke="#c4c4c4" stroke-width="0.7"/><line x1="437.7" y1="121.2" x2="467.6" y2="121.2" stroke="#c4c4c4" stroke-width="0.7"/><line x1="437.7" y1="125.6" x2="467.6" y2="125.6" stroke="#c4c4c4" stroke-width="0.7"/><line x1="437.7" y1="129.9" x2="467.6" y2="129.9" stroke="#c4c4c4" stroke-width="0.7"/><line x1="437.7" y1="134.3" x2="467.6" y2="134.3" stroke="#c4c4c4" stroke-width="0.7"/><line x1="437.7" y1="138.6" x2="467.6" y2="138.6" stroke="#c4c4c4" stroke-width="0.7"/><line x1="448.0" y1="107.4" x2="448.0" y2="139.3" stroke="#e6e6e6" stroke-width="0.8"/><line x1="457.6" y1="107.4" x2="457.6" y2="139.3" stroke="#e6e6e6" stroke-width="0.8"/><rect x="439.7" y="109.4" width="7.1" height="1.9" fill="#fdfdfd" stroke="#bdbdbd" stroke-width="0.5"/><rect x="439.7" y="113.7" width="7.1" height="1.9" fill="#fdfdfd" stroke="#bdbdbd" stroke-width="0.5"/><rect x="439.7" y="118.1" width="7.1" height="1.9" fill="#fdfdfd" stroke="#bdbdbd" stroke-width="0.5"/><rect x="439.7" y="122.4" width="7.1" height="1.9" fill="#fdfdfd" stroke="#bdbdbd" stroke-width="0.5"/><rect x="439.7" y="126.8" width="7.1" height="1.9" fill="#fdfdfd" stroke="#bdbdbd" stroke-width="0.5"/><rect x="439.7" y="131.1" width="7.1" height="1.9" fill="#fdfdfd" stroke="#bdbdbd" stroke-width="0.5"/><rect x="439.7" y="135.5" width="7.1" height="1.9" fill="#fdfdfd" stroke="#bdbdbd" stroke-width="0.5"/><rect x="449.3" y="109.4" width="7.1" height="1.9" fill="#fdfdfd" stroke="#bdbdbd" stroke-width="0.5"/><rect x="449.3" y="113.7" width="7.1" height="1.9" fill="#fdfdfd" stroke="#bdbdbd" stroke-width="0.5"/><rect x="449.3" y="118.1" width="7.1" height="1.9" fill="#fdfdfd" stroke="#bdbdbd" stroke-width="0.5"/><rect x="449.3" y="122.4" width="7.1" height="1.9" fill="#fdfdfd" stroke="#bdbdbd" stroke-width="0.5"/><rect x="449.3" y="126.8" width="7.1" height="1.9" fill="#fdfdfd" stroke="#bdbdbd" stroke-width="0.5"/><rect x="449.3" y="131.1" width="7.1" height="1.9" fill="#fdfdfd" stroke="#bdbdbd" stroke-width="0.5"/><rect x="449.3" y="135.5" width="7.1" height="1.9" fill="#fdfdfd" stroke="#bdbdbd" stroke-width="0.5"/><rect x="458.8" y="109.4" width="7.1" height="1.9" fill="#fdfdfd" stroke="#bdbdbd" stroke-width="0.5"/><rect x="458.8" y="113.7" width="7.1" height="1.9" fill="#fdfdfd" stroke="#bdbdbd" stroke-width="0.5"/><rect x="458.8" y="118.1" width="7.1" height="1.9" fill="#fdfdfd" stroke="#bdbdbd" stroke-width="0.5"/><rect x="458.8" y="122.4" width="7.1" height="1.9" fill="#fdfdfd" stroke="#bdbdbd" stroke-width="0.5"/><rect x="458.8" y="126.8" width="7.1" height="1.9" fill="#fdfdfd" stroke="#bdbdbd" stroke-width="0.5"/><rect x="458.8" y="131.1" width="7.1" height="1.9" fill="#fdfdfd" stroke="#bdbdbd" stroke-width="0.5"/><rect x="458.8" y="135.5" width="7.1" height="1.9" fill="#fdfdfd" stroke="#bdbdbd" stroke-width="0.5"/><rect x="470.4" y="106.2" width="34.1" height="34.3" fill="#d9d9d9" stroke="#b3b3b3" stroke-width="0.8"/><line x1="471.6" y1="108.1" x2="503.3" y2="108.1" stroke="#c4c4c4" stroke-width="0.7"/><line x1="471.6" y1="112.5" x2="503.3" y2="112.5" stroke="#c4c4c4" stroke-width="0.7"/><line x1="471.6" y1="116.9" x2="503.3" y2="116.9" stroke="#c4c4c4" stroke-width="0.7"/><line x1="471.6" y1="121.2" x2="503.3" y2="121.2" stroke="#c4c4c4" stroke-width="0.7"/><line x1="471.6" y1="125.6" x2="503.3" y2="125.6" stroke="#c4c4c4" stroke-width="0.7"/><line x1="471.6" y1="129.9" x2="503.3" y2="129.9" stroke="#c4c4c4" stroke-width="0.7"/><line x1="471.6" y1="134.3" x2="503.3" y2="134.3" stroke="#c4c4c4" stroke-width="0.7"/><line x1="471.6" y1="138.6" x2="503.3" y2="138.6" stroke="#c4c4c4" stroke-width="0.7"/><line x1="482.6" y1="107.4" x2="482.6" y2="139.3" stroke="#e6e6e6" stroke-width="0.8"/><line x1="492.7" y1="107.4" x2="492.7" y2="139.3" stroke="#e6e6e6" stroke-width="0.8"/><rect x="473.8" y="109.4" width="7.5" height="1.9" fill="#fdfdfd" stroke="#bdbdbd" stroke-width="0.5"/><rect x="473.8" y="113.7" width="7.5" height="1.9" fill="#fdfdfd" stroke="#bdbdbd" stroke-width="0.5"/><rect x="473.8" y="118.1" width="7.5" height="1.9" fill="#fdfdfd" stroke="#bdbdbd" stroke-width="0.5"/><rect x="473.8" y="122.4" width="7.5" height="1.9" fill="#fdfdfd" stroke="#bdbdbd" stroke-width="0.5"/><rect x="473.8" y="126.8" width="7.5" height="1.9" fill="#fdfdfd" stroke="#bdbdbd" stroke-width="0.5"/><rect x="473.8" y="131.1" width="7.5" height="1.9" fill="#fdfdfd" stroke="#bdbdbd" stroke-width="0.5"/><rect x="473.8" y="135.5" width="7.5" height="1.9" fill="#fdfdfd" stroke="#bdbdbd" stroke-width="0.5"/><rect x="483.9" y="109.4" width="7.5" height="1.9" fill="#fdfdfd" stroke="#bdbdbd" stroke-width="0.5"/><rect x="483.9" y="113.7" width="7.5" height="1.9" fill="#fdfdfd" stroke="#bdbdbd" stroke-width="0.5"/><rect x="483.9" y="118.1" width="7.5" height="1.9" fill="#fdfdfd" stroke="#bdbdbd" stroke-width="0.5"/><rect x="483.9" y="122.4" width="7.5" height="1.9" fill="#fdfdfd" stroke="#bdbdbd" stroke-width="0.5"/><rect x="483.9" y="126.8" width="7.5" height="1.9" fill="#fdfdfd" stroke="#bdbdbd" stroke-width="0.5"/><rect x="483.9" y="131.1" width="7.5" height="1.9" fill="#fdfdfd" stroke="#bdbdbd" stroke-width="0.5"/><rect x="483.9" y="135.5" width="7.5" height="1.9" fill="#fdfdfd" stroke="#bdbdbd" stroke-width="0.5"/><rect x="493.9" y="109.4" width="7.5" height="1.9" fill="#fdfdfd" stroke="#bdbdbd" stroke-width="0.5"/><rect x="493.9" y="113.7" width="7.5" height="1.9" fill="#fdfdfd" stroke="#bdbdbd" stroke-width="0.5"/><rect x="493.9" y="118.1" width="7.5" height="1.9" fill="#fdfdfd" stroke="#bdbdbd" stroke-width="0.5"/><rect x="493.9" y="122.4" width="7.5" height="1.9" fill="#fdfdfd" stroke="#bdbdbd" stroke-width="0.5"/><rect x="493.9" y="126.8" width="7.5" height="1.9" fill="#fdfdfd" stroke="#bdbdbd" stroke-width="0.5"/><rect x="493.9" y="131.1" width="7.5" height="1.9" fill="#fdfdfd" stroke="#bdbdbd" stroke-width="0.5"/><rect x="493.9" y="135.5" width="7.5" height="1.9" fill="#fdfdfd" stroke="#bdbdbd" stroke-width="0.5"/><rect x="366.9" y="143.4" width="33.3" height="33.6" fill="#d9d9d9" stroke="#b3b3b3" stroke-width="0.8"/><line x1="368.1" y1="145.3" x2="399.0" y2="145.3" stroke="#c4c4c4" stroke-width="0.7"/><line x1="368.1" y1="149.6" x2="399.0" y2="149.6" stroke="#c4c4c4" stroke-width="0.7"/><line x1="368.1" y1="153.8" x2="399.0" y2="153.8" stroke="#c4c4c4" stroke-width="0.7"/><line x1="368.1" y1="158.1" x2="399.0" y2="158.1" stroke="#c4c4c4" stroke-width="0.7"/><line x1="368.1" y1="162.4" x2="399.0" y2="162.4" stroke="#c4c4c4" stroke-width="0.7"/><line x1="368.1" y1="166.6" x2="399.0" y2="166.6" stroke="#c4c4c4" stroke-width="0.7"/><line x1="368.1" y1="170.9" x2="399.0" y2="170.9" stroke="#c4c4c4" stroke-width="0.7"/><line x1="368.1" y1="175.2" x2="399.0" y2="175.2" stroke="#c4c4c4" stroke-width="0.7"/><line x1="378.8" y1="144.6" x2="378.8" y2="175.8" stroke="#e6e6e6" stroke-width="0.8"/><line x1="388.6" y1="144.6" x2="388.6" y2="175.8" stroke="#e6e6e6" stroke-width="0.8"/><rect x="370.2" y="146.5" width="7.3" height="1.9" fill="#fdfdfd" stroke="#bdbdbd" stroke-width="0.5"/><rect x="370.2" y="150.7" width="7.3" height="1.9" fill="#fdfdfd" stroke="#bdbdbd" stroke-width="0.5"/><rect x="370.2" y="155.0" width="7.3" height="1.9" fill="#fdfdfd" stroke="#bdbdbd" stroke-width="0.5"/><rect x="370.2" y="159.3" width="7.3" height="1.9" fill="#fdfdfd" stroke="#bdbdbd" stroke-width="0.5"/><rect x="370.2" y="163.6" width="7.3" height="1.9" fill="#fdfdfd" stroke="#bdbdbd" stroke-width="0.5"/><rect x="370.2" y="167.8" width="7.3" height="1.9" fill="#fdfdfd" stroke="#bdbdbd" stroke-width="0.5"/><rect x="370.2" y="172.1" width="7.3" height="1.9" fill="#fdfdfd" stroke="#bdbdbd" stroke-width="0.5"/><rect x="380.1" y="146.5" width="7.3" height="1.9" fill="#fdfdfd" stroke="#bdbdbd" stroke-width="0.5"/><rect x="380.1" y="150.7" width="7.3" height="1.9" fill="#fdfdfd" stroke="#bdbdbd" stroke-width="0.5"/><rect x="380.1" y="155.0" width="7.3" height="1.9" fill="#fdfdfd" stroke="#bdbdbd" stroke-width="0.5"/><rect x="380.1" y="159.3" width="7.3" height="1.9" fill="#fdfdfd" stroke="#bdbdbd" stroke-width="0.5"/><rect x="380.1" y="163.6" width="7.3" height="1.9" fill="#fdfdfd" stroke="#bdbdbd" stroke-width="0.5"/><rect x="380.1" y="167.8" width="7.3" height="1.9" fill="#fdfdfd" stroke="#bdbdbd" stroke-width="0.5"/><rect x="380.1" y="172.1" width="7.3" height="1.9" fill="#fdfdfd" stroke="#bdbdbd" stroke-width="0.5"/><rect x="389.9" y="146.5" width="7.3" height="1.9" fill="#fdfdfd" stroke="#bdbdbd" stroke-width="0.5"/><rect x="389.9" y="150.7" width="7.3" height="1.9" fill="#fdfdfd" stroke="#bdbdbd" stroke-width="0.5"/><rect x="389.9" y="155.0" width="7.3" height="1.9" fill="#fdfdfd" stroke="#bdbdbd" stroke-width="0.5"/><rect x="389.9" y="159.3" width="7.3" height="1.9" fill="#fdfdfd" stroke="#bdbdbd" stroke-width="0.5"/><rect x="389.9" y="163.6" width="7.3" height="1.9" fill="#fdfdfd" stroke="#bdbdbd" stroke-width="0.5"/><rect x="389.9" y="167.8" width="7.3" height="1.9" fill="#fdfdfd" stroke="#bdbdbd" stroke-width="0.5"/><rect x="389.9" y="172.1" width="7.3" height="1.9" fill="#fdfdfd" stroke="#bdbdbd" stroke-width="0.5"/><rect x="401.6" y="143.4" width="33.4" height="33.6" fill="#d9d9d9" stroke="#b3b3b3" stroke-width="0.8"/><line x1="402.8" y1="145.3" x2="433.8" y2="145.3" stroke="#c4c4c4" stroke-width="0.7"/><line x1="402.8" y1="149.6" x2="433.8" y2="149.6" stroke="#c4c4c4" stroke-width="0.7"/><line x1="402.8" y1="153.8" x2="433.8" y2="153.8" stroke="#c4c4c4" stroke-width="0.7"/><line x1="402.8" y1="158.1" x2="433.8" y2="158.1" stroke="#c4c4c4" stroke-width="0.7"/><line x1="402.8" y1="162.4" x2="433.8" y2="162.4" stroke="#c4c4c4" stroke-width="0.7"/><line x1="402.8" y1="166.6" x2="433.8" y2="166.6" stroke="#c4c4c4" stroke-width="0.7"/><line x1="402.8" y1="170.9" x2="433.8" y2="170.9" stroke="#c4c4c4" stroke-width="0.7"/><line x1="402.8" y1="175.2" x2="433.8" y2="175.2" stroke="#c4c4c4" stroke-width="0.7"/><line x1="413.5" y1="144.6" x2="413.5" y2="175.8" stroke="#e6e6e6" stroke-width="0.8"/><line x1="423.4" y1="144.6" x2="423.4" y2="175.8" stroke="#e6e6e6" stroke-width="0.8"/><rect x="404.9" y="146.5" width="7.3" height="1.9" fill="#fdfdfd" stroke="#bdbdbd" stroke-width="0.5"/><rect x="404.9" y="150.7" width="7.3" height="1.9" fill="#fdfdfd" stroke="#bdbdbd" stroke-width="0.5"/><rect x="404.9" y="155.0" width="7.3" height="1.9" fill="#fdfdfd" stroke="#bdbdbd" stroke-width="0.5"/><rect x="404.9" y="159.3" width="7.3" height="1.9" fill="#fdfdfd" stroke="#bdbdbd" stroke-width="0.5"/><rect x="404.9" y="163.6" width="7.3" height="1.9" fill="#fdfdfd" stroke="#bdbdbd" stroke-width="0.5"/><rect x="404.9" y="167.8" width="7.3" height="1.9" fill="#fdfdfd" stroke="#bdbdbd" stroke-width="0.5"/><rect x="404.9" y="172.1" width="7.3" height="1.9" fill="#fdfdfd" stroke="#bdbdbd" stroke-width="0.5"/><rect x="414.8" y="146.5" width="7.3" height="1.9" fill="#fdfdfd" stroke="#bdbdbd" stroke-width="0.5"/><rect x="414.8" y="150.7" width="7.3" height="1.9" fill="#fdfdfd" stroke="#bdbdbd" stroke-width="0.5"/><rect x="414.8" y="155.0" width="7.3" height="1.9" fill="#fdfdfd" stroke="#bdbdbd" stroke-width="0.5"/><rect x="414.8" y="159.3" width="7.3" height="1.9" fill="#fdfdfd" stroke="#bdbdbd" stroke-width="0.5"/><rect x="414.8" y="163.6" width="7.3" height="1.9" fill="#fdfdfd" stroke="#bdbdbd" stroke-width="0.5"/><rect x="414.8" y="167.8" width="7.3" height="1.9" fill="#fdfdfd" stroke="#bdbdbd" stroke-width="0.5"/><rect x="414.8" y="172.1" width="7.3" height="1.9" fill="#fdfdfd" stroke="#bdbdbd" stroke-width="0.5"/><rect x="424.6" y="146.5" width="7.3" height="1.9" fill="#fdfdfd" stroke="#bdbdbd" stroke-width="0.5"/><rect x="424.6" y="150.7" width="7.3" height="1.9" fill="#fdfdfd" stroke="#bdbdbd" stroke-width="0.5"/><rect x="424.6" y="155.0" width="7.3" height="1.9" fill="#fdfdfd" stroke="#bdbdbd" stroke-width="0.5"/><rect x="424.6" y="159.3" width="7.3" height="1.9" fill="#fdfdfd" stroke="#bdbdbd" stroke-width="0.5"/><rect x="424.6" y="163.6" width="7.3" height="1.9" fill="#fdfdfd" stroke="#bdbdbd" stroke-width="0.5"/><rect x="424.6" y="167.8" width="7.3" height="1.9" fill="#fdfdfd" stroke="#bdbdbd" stroke-width="0.5"/><rect x="424.6" y="172.1" width="7.3" height="1.9" fill="#fdfdfd" stroke="#bdbdbd" stroke-width="0.5"/><rect x="436.5" y="143.4" width="32.3" height="33.6" fill="#d9d9d9" stroke="#b3b3b3" stroke-width="0.8"/><line x1="437.7" y1="145.3" x2="467.6" y2="145.3" stroke="#c4c4c4" stroke-width="0.7"/><line x1="437.7" y1="149.6" x2="467.6" y2="149.6" stroke="#c4c4c4" stroke-width="0.7"/><line x1="437.7" y1="153.8" x2="467.6" y2="153.8" stroke="#c4c4c4" stroke-width="0.7"/><line x1="437.7" y1="158.1" x2="467.6" y2="158.1" stroke="#c4c4c4" stroke-width="0.7"/><line x1="437.7" y1="162.4" x2="467.6" y2="162.4" stroke="#c4c4c4" stroke-width="0.7"/><line x1="437.7" y1="166.6" x2="467.6" y2="166.6" stroke="#c4c4c4" stroke-width="0.7"/><line x1="437.7" y1="170.9" x2="467.6" y2="170.9" stroke="#c4c4c4" stroke-width="0.7"/><line x1="437.7" y1="175.2" x2="467.6" y2="175.2" stroke="#c4c4c4" stroke-width="0.7"/><line x1="448.0" y1="144.6" x2="448.0" y2="175.8" stroke="#e6e6e6" stroke-width="0.8"/><line x1="457.6" y1="144.6" x2="457.6" y2="175.8" stroke="#e6e6e6" stroke-width="0.8"/><rect x="439.7" y="146.5" width="7.1" height="1.9" fill="#fdfdfd" stroke="#bdbdbd" stroke-width="0.5"/><rect x="439.7" y="150.7" width="7.1" height="1.9" fill="#fdfdfd" stroke="#bdbdbd" stroke-width="0.5"/><rect x="439.7" y="155.0" width="7.1" height="1.9" fill="#fdfdfd" stroke="#bdbdbd" stroke-width="0.5"/><rect x="439.7" y="159.3" width="7.1" height="1.9" fill="#fdfdfd" stroke="#bdbdbd" stroke-width="0.5"/><rect x="439.7" y="163.6" width="7.1" height="1.9" fill="#fdfdfd" stroke="#bdbdbd" stroke-width="0.5"/><rect x="439.7" y="167.8" width="7.1" height="1.9" fill="#fdfdfd" stroke="#bdbdbd" stroke-width="0.5"/><rect x="439.7" y="172.1" width="7.1" height="1.9" fill="#fdfdfd" stroke="#bdbdbd" stroke-width="0.5"/><rect x="449.3" y="146.5" width="7.1" height="1.9" fill="#fdfdfd" stroke="#bdbdbd" stroke-width="0.5"/><rect x="449.3" y="150.7" width="7.1" height="1.9" fill="#fdfdfd" stroke="#bdbdbd" stroke-width="0.5"/><rect x="449.3" y="155.0" width="7.1" height="1.9" fill="#fdfdfd" stroke="#bdbdbd" stroke-width="0.5"/><rect x="449.3" y="159.3" width="7.1" height="1.9" fill="#fdfdfd" stroke="#bdbdbd" stroke-width="0.5"/><rect x="449.3" y="163.6" width="7.1" height="1.9" fill="#fdfdfd" stroke="#bdbdbd" stroke-width="0.5"/><rect x="449.3" y="167.8" width="7.1" height="1.9" fill="#fdfdfd" stroke="#bdbdbd" stroke-width="0.5"/><rect x="449.3" y="172.1" width="7.1" height="1.9" fill="#fdfdfd" stroke="#bdbdbd" stroke-width="0.5"/><rect x="458.8" y="146.5" width="7.1" height="1.9" fill="#fdfdfd" stroke="#bdbdbd" stroke-width="0.5"/><rect x="458.8" y="150.7" width="7.1" height="1.9" fill="#fdfdfd" stroke="#bdbdbd" stroke-width="0.5"/><rect x="458.8" y="155.0" width="7.1" height="1.9" fill="#fdfdfd" stroke="#bdbdbd" stroke-width="0.5"/><rect x="458.8" y="159.3" width="7.1" height="1.9" fill="#fdfdfd" stroke="#bdbdbd" stroke-width="0.5"/><rect x="458.8" y="163.6" width="7.1" height="1.9" fill="#fdfdfd" stroke="#bdbdbd" stroke-width="0.5"/><rect x="458.8" y="167.8" width="7.1" height="1.9" fill="#fdfdfd" stroke="#bdbdbd" stroke-width="0.5"/><rect x="458.8" y="172.1" width="7.1" height="1.9" fill="#fdfdfd" stroke="#bdbdbd" stroke-width="0.5"/><rect x="470.4" y="143.4" width="34.1" height="33.6" fill="#d9d9d9" stroke="#b3b3b3" stroke-width="0.8"/><line x1="471.6" y1="145.3" x2="503.3" y2="145.3" stroke="#c4c4c4" stroke-width="0.7"/><line x1="471.6" y1="149.6" x2="503.3" y2="149.6" stroke="#c4c4c4" stroke-width="0.7"/><line x1="471.6" y1="153.8" x2="503.3" y2="153.8" stroke="#c4c4c4" stroke-width="0.7"/><line x1="471.6" y1="158.1" x2="503.3" y2="158.1" stroke="#c4c4c4" stroke-width="0.7"/><line x1="471.6" y1="162.4" x2="503.3" y2="162.4" stroke="#c4c4c4" stroke-width="0.7"/><line x1="471.6" y1="166.6" x2="503.3" y2="166.6" stroke="#c4c4c4" stroke-width="0.7"/><line x1="471.6" y1="170.9" x2="503.3" y2="170.9" stroke="#c4c4c4" stroke-width="0.7"/><line x1="471.6" y1="175.2" x2="503.3" y2="175.2" stroke="#c4c4c4" stroke-width="0.7"/><line x1="482.6" y1="144.6" x2="482.6" y2="175.8" stroke="#e6e6e6" stroke-width="0.8"/><line x1="492.7" y1="144.6" x2="492.7" y2="175.8" stroke="#e6e6e6" stroke-width="0.8"/><rect x="473.8" y="146.5" width="7.5" height="1.9" fill="#fdfdfd" stroke="#bdbdbd" stroke-width="0.5"/><rect x="473.8" y="150.7" width="7.5" height="1.9" fill="#fdfdfd" stroke="#bdbdbd" stroke-width="0.5"/><rect x="473.8" y="155.0" width="7.5" height="1.9" fill="#fdfdfd" stroke="#bdbdbd" stroke-width="0.5"/><rect x="473.8" y="159.3" width="7.5" height="1.9" fill="#fdfdfd" stroke="#bdbdbd" stroke-width="0.5"/><rect x="473.8" y="163.6" width="7.5" height="1.9" fill="#fdfdfd" stroke="#bdbdbd" stroke-width="0.5"/><rect x="473.8" y="167.8" width="7.5" height="1.9" fill="#fdfdfd" stroke="#bdbdbd" stroke-width="0.5"/><rect x="473.8" y="172.1" width="7.5" height="1.9" fill="#fdfdfd" stroke="#bdbdbd" stroke-width="0.5"/><rect x="483.9" y="146.5" width="7.5" height="1.9" fill="#fdfdfd" stroke="#bdbdbd" stroke-width="0.5"/><rect x="483.9" y="150.7" width="7.5" height="1.9" fill="#fdfdfd" stroke="#bdbdbd" stroke-width="0.5"/><rect x="483.9" y="155.0" width="7.5" height="1.9" fill="#fdfdfd" stroke="#bdbdbd" stroke-width="0.5"/><rect x="483.9" y="159.3" width="7.5" height="1.9" fill="#fdfdfd" stroke="#bdbdbd" stroke-width="0.5"/><rect x="483.9" y="163.6" width="7.5" height="1.9" fill="#fdfdfd" stroke="#bdbdbd" stroke-width="0.5"/><rect x="483.9" y="167.8" width="7.5" height="1.9" fill="#fdfdfd" stroke="#bdbdbd" stroke-width="0.5"/><rect x="483.9" y="172.1" width="7.5" height="1.9" fill="#fdfdfd" stroke="#bdbdbd" stroke-width="0.5"/><rect x="493.9" y="146.5" width="7.5" height="1.9" fill="#fdfdfd" stroke="#bdbdbd" stroke-width="0.5"/><rect x="493.9" y="150.7" width="7.5" height="1.9" fill="#fdfdfd" stroke="#bdbdbd" stroke-width="0.5"/><rect x="493.9" y="155.0" width="7.5" height="1.9" fill="#fdfdfd" stroke="#bdbdbd" stroke-width="0.5"/><rect x="493.9" y="159.3" width="7.5" height="1.9" fill="#fdfdfd" stroke="#bdbdbd" stroke-width="0.5"/><rect x="493.9" y="163.6" width="7.5" height="1.9" fill="#fdfdfd" stroke="#bdbdbd" stroke-width="0.5"/><rect x="493.9" y="167.8" width="7.5" height="1.9" fill="#fdfdfd" stroke="#bdbdbd" stroke-width="0.5"/><rect x="493.9" y="172.1" width="7.5" height="1.9" fill="#fdfdfd" stroke="#bdbdbd" stroke-width="0.5"/><rect x="366.9" y="180.7" width="33.3" height="34.3" fill="#d9d9d9" stroke="#b3b3b3" stroke-width="0.8"/><line x1="368.1" y1="182.6" x2="399.0" y2="182.6" stroke="#c4c4c4" stroke-width="0.7"/><line x1="368.1" y1="187.0" x2="399.0" y2="187.0" stroke="#c4c4c4" stroke-width="0.7"/><line x1="368.1" y1="191.4" x2="399.0" y2="191.4" stroke="#c4c4c4" stroke-width="0.7"/><line x1="368.1" y1="195.7" x2="399.0" y2="195.7" stroke="#c4c4c4" stroke-width="0.7"/><line x1="368.1" y1="200.1" x2="399.0" y2="200.1" stroke="#c4c4c4" stroke-width="0.7"/><line x1="368.1" y1="204.4" x2="399.0" y2="204.4" stroke="#c4c4c4" stroke-width="0.7"/><line x1="368.1" y1="208.8" x2="399.0" y2="208.8" stroke="#c4c4c4" stroke-width="0.7"/><line x1="368.1" y1="213.1" x2="399.0" y2="213.1" stroke="#c4c4c4" stroke-width="0.7"/><line x1="378.8" y1="181.9" x2="378.8" y2="213.8" stroke="#e6e6e6" stroke-width="0.8"/><line x1="388.6" y1="181.9" x2="388.6" y2="213.8" stroke="#e6e6e6" stroke-width="0.8"/><rect x="370.2" y="183.9" width="7.3" height="1.9" fill="#fdfdfd" stroke="#bdbdbd" stroke-width="0.5"/><rect x="370.2" y="188.2" width="7.3" height="1.9" fill="#fdfdfd" stroke="#bdbdbd" stroke-width="0.5"/><rect x="370.2" y="192.6" width="7.3" height="1.9" fill="#fdfdfd" stroke="#bdbdbd" stroke-width="0.5"/><rect x="370.2" y="196.9" width="7.3" height="1.9" fill="#fdfdfd" stroke="#bdbdbd" stroke-width="0.5"/><rect x="370.2" y="201.3" width="7.3" height="1.9" fill="#fdfdfd" stroke="#bdbdbd" stroke-width="0.5"/><rect x="370.2" y="205.6" width="7.3" height="1.9" fill="#fdfdfd" stroke="#bdbdbd" stroke-width="0.5"/><rect x="370.2" y="210.0" width="7.3" height="1.9" fill="#fdfdfd" stroke="#bdbdbd" stroke-width="0.5"/><rect x="380.1" y="183.9" width="7.3" height="1.9" fill="#fdfdfd" stroke="#bdbdbd" stroke-width="0.5"/><rect x="380.1" y="188.2" width="7.3" height="1.9" fill="#fdfdfd" stroke="#bdbdbd" stroke-width="0.5"/><rect x="380.1" y="192.6" width="7.3" height="1.9" fill="#fdfdfd" stroke="#bdbdbd" stroke-width="0.5"/><rect x="380.1" y="196.9" width="7.3" height="1.9" fill="#fdfdfd" stroke="#bdbdbd" stroke-width="0.5"/><rect x="380.1" y="201.3" width="7.3" height="1.9" fill="#fdfdfd" stroke="#bdbdbd" stroke-width="0.5"/><rect x="380.1" y="205.6" width="7.3" height="1.9" fill="#fdfdfd" stroke="#bdbdbd" stroke-width="0.5"/><rect x="380.1" y="210.0" width="7.3" height="1.9" fill="#fdfdfd" stroke="#bdbdbd" stroke-width="0.5"/><rect x="389.9" y="183.9" width="7.3" height="1.9" fill="#fdfdfd" stroke="#bdbdbd" stroke-width="0.5"/><rect x="389.9" y="188.2" width="7.3" height="1.9" fill="#fdfdfd" stroke="#bdbdbd" stroke-width="0.5"/><rect x="389.9" y="192.6" width="7.3" height="1.9" fill="#fdfdfd" stroke="#bdbdbd" stroke-width="0.5"/><rect x="389.9" y="196.9" width="7.3" height="1.9" fill="#fdfdfd" stroke="#bdbdbd" stroke-width="0.5"/><rect x="389.9" y="201.3" width="7.3" height="1.9" fill="#fdfdfd" stroke="#bdbdbd" stroke-width="0.5"/><rect x="389.9" y="205.6" width="7.3" height="1.9" fill="#fdfdfd" stroke="#bdbdbd" stroke-width="0.5"/><rect x="389.9" y="210.0" width="7.3" height="1.9" fill="#fdfdfd" stroke="#bdbdbd" stroke-width="0.5"/><rect x="401.6" y="180.7" width="33.4" height="34.3" fill="#d9d9d9" stroke="#b3b3b3" stroke-width="0.8"/><line x1="402.8" y1="182.6" x2="433.8" y2="182.6" stroke="#c4c4c4" stroke-width="0.7"/><line x1="402.8" y1="187.0" x2="433.8" y2="187.0" stroke="#c4c4c4" stroke-width="0.7"/><line x1="402.8" y1="191.4" x2="433.8" y2="191.4" stroke="#c4c4c4" stroke-width="0.7"/><line x1="402.8" y1="195.7" x2="433.8" y2="195.7" stroke="#c4c4c4" stroke-width="0.7"/><line x1="402.8" y1="200.1" x2="433.8" y2="200.1" stroke="#c4c4c4" stroke-width="0.7"/><line x1="402.8" y1="204.4" x2="433.8" y2="204.4" stroke="#c4c4c4" stroke-width="0.7"/><line x1="402.8" y1="208.8" x2="433.8" y2="208.8" stroke="#c4c4c4" stroke-width="0.7"/><line x1="402.8" y1="213.1" x2="433.8" y2="213.1" stroke="#c4c4c4" stroke-width="0.7"/><line x1="413.5" y1="181.9" x2="413.5" y2="213.8" stroke="#e6e6e6" stroke-width="0.8"/><line x1="423.4" y1="181.9" x2="423.4" y2="213.8" stroke="#e6e6e6" stroke-width="0.8"/><rect x="404.9" y="183.9" width="7.3" height="1.9" fill="#fdfdfd" stroke="#bdbdbd" stroke-width="0.5"/><rect x="404.9" y="188.2" width="7.3" height="1.9" fill="#fdfdfd" stroke="#bdbdbd" stroke-width="0.5"/><rect x="404.9" y="192.6" width="7.3" height="1.9" fill="#fdfdfd" stroke="#bdbdbd" stroke-width="0.5"/><rect x="404.9" y="196.9" width="7.3" height="1.9" fill="#fdfdfd" stroke="#bdbdbd" stroke-width="0.5"/><rect x="404.9" y="201.3" width="7.3" height="1.9" fill="#fdfdfd" stroke="#bdbdbd" stroke-width="0.5"/><rect x="404.9" y="205.6" width="7.3" height="1.9" fill="#fdfdfd" stroke="#bdbdbd" stroke-width="0.5"/><rect x="404.9" y="210.0" width="7.3" height="1.9" fill="#fdfdfd" stroke="#bdbdbd" stroke-width="0.5"/><rect x="414.8" y="183.9" width="7.3" height="1.9" fill="#fdfdfd" stroke="#bdbdbd" stroke-width="0.5"/><rect x="414.8" y="188.2" width="7.3" height="1.9" fill="#fdfdfd" stroke="#bdbdbd" stroke-width="0.5"/><rect x="414.8" y="192.6" width="7.3" height="1.9" fill="#fdfdfd" stroke="#bdbdbd" stroke-width="0.5"/><rect x="414.8" y="196.9" width="7.3" height="1.9" fill="#fdfdfd" stroke="#bdbdbd" stroke-width="0.5"/><rect x="414.8" y="201.3" width="7.3" height="1.9" fill="#fdfdfd" stroke="#bdbdbd" stroke-width="0.5"/><rect x="414.8" y="205.6" width="7.3" height="1.9" fill="#fdfdfd" stroke="#bdbdbd" stroke-width="0.5"/><rect x="414.8" y="210.0" width="7.3" height="1.9" fill="#fdfdfd" stroke="#bdbdbd" stroke-width="0.5"/><rect x="424.6" y="183.9" width="7.3" height="1.9" fill="#fdfdfd" stroke="#bdbdbd" stroke-width="0.5"/><rect x="424.6" y="188.2" width="7.3" height="1.9" fill="#fdfdfd" stroke="#bdbdbd" stroke-width="0.5"/><rect x="424.6" y="192.6" width="7.3" height="1.9" fill="#fdfdfd" stroke="#bdbdbd" stroke-width="0.5"/><rect x="424.6" y="196.9" width="7.3" height="1.9" fill="#fdfdfd" stroke="#bdbdbd" stroke-width="0.5"/><rect x="424.6" y="201.3" width="7.3" height="1.9" fill="#fdfdfd" stroke="#bdbdbd" stroke-width="0.5"/><rect x="424.6" y="205.6" width="7.3" height="1.9" fill="#fdfdfd" stroke="#bdbdbd" stroke-width="0.5"/><rect x="424.6" y="210.0" width="7.3" height="1.9" fill="#fdfdfd" stroke="#bdbdbd" stroke-width="0.5"/><rect x="436.5" y="180.7" width="32.3" height="34.3" fill="#d9d9d9" stroke="#b3b3b3" stroke-width="0.8"/><line x1="437.7" y1="182.6" x2="467.6" y2="182.6" stroke="#c4c4c4" stroke-width="0.7"/><line x1="437.7" y1="187.0" x2="467.6" y2="187.0" stroke="#c4c4c4" stroke-width="0.7"/><line x1="437.7" y1="191.4" x2="467.6" y2="191.4" stroke="#c4c4c4" stroke-width="0.7"/><line x1="437.7" y1="195.7" x2="467.6" y2="195.7" stroke="#c4c4c4" stroke-width="0.7"/><line x1="437.7" y1="200.1" x2="467.6" y2="200.1" stroke="#c4c4c4" stroke-width="0.7"/><line x1="437.7" y1="204.4" x2="467.6" y2="204.4" stroke="#c4c4c4" stroke-width="0.7"/><line x1="437.7" y1="208.8" x2="467.6" y2="208.8" stroke="#c4c4c4" stroke-width="0.7"/><line x1="437.7" y1="213.1" x2="467.6" y2="213.1" stroke="#c4c4c4" stroke-width="0.7"/><line x1="448.0" y1="181.9" x2="448.0" y2="213.8" stroke="#e6e6e6" stroke-width="0.8"/><line x1="457.6" y1="181.9" x2="457.6" y2="213.8" stroke="#e6e6e6" stroke-width="0.8"/><rect x="439.7" y="183.9" width="7.1" height="1.9" fill="#fdfdfd" stroke="#bdbdbd" stroke-width="0.5"/><rect x="439.7" y="188.2" width="7.1" height="1.9" fill="#fdfdfd" stroke="#bdbdbd" stroke-width="0.5"/><rect x="439.7" y="192.6" width="7.1" height="1.9" fill="#fdfdfd" stroke="#bdbdbd" stroke-width="0.5"/><rect x="439.7" y="196.9" width="7.1" height="1.9" fill="#fdfdfd" stroke="#bdbdbd" stroke-width="0.5"/><rect x="439.7" y="201.3" width="7.1" height="1.9" fill="#fdfdfd" stroke="#bdbdbd" stroke-width="0.5"/><rect x="439.7" y="205.6" width="7.1" height="1.9" fill="#fdfdfd" stroke="#bdbdbd" stroke-width="0.5"/><rect x="439.7" y="210.0" width="7.1" height="1.9" fill="#fdfdfd" stroke="#bdbdbd" stroke-width="0.5"/><rect x="449.3" y="183.9" width="7.1" height="1.9" fill="#fdfdfd" stroke="#bdbdbd" stroke-width="0.5"/><rect x="449.3" y="188.2" width="7.1" height="1.9" fill="#fdfdfd" stroke="#bdbdbd" stroke-width="0.5"/><rect x="449.3" y="192.6" width="7.1" height="1.9" fill="#fdfdfd" stroke="#bdbdbd" stroke-width="0.5"/><rect x="449.3" y="196.9" width="7.1" height="1.9" fill="#fdfdfd" stroke="#bdbdbd" stroke-width="0.5"/><rect x="449.3" y="201.3" width="7.1" height="1.9" fill="#fdfdfd" stroke="#bdbdbd" stroke-width="0.5"/><rect x="449.3" y="205.6" width="7.1" height="1.9" fill="#fdfdfd" stroke="#bdbdbd" stroke-width="0.5"/><rect x="449.3" y="210.0" width="7.1" height="1.9" fill="#fdfdfd" stroke="#bdbdbd" stroke-width="0.5"/><rect x="458.8" y="183.9" width="7.1" height="1.9" fill="#fdfdfd" stroke="#bdbdbd" stroke-width="0.5"/><rect x="458.8" y="188.2" width="7.1" height="1.9" fill="#fdfdfd" stroke="#bdbdbd" stroke-width="0.5"/><rect x="458.8" y="192.6" width="7.1" height="1.9" fill="#fdfdfd" stroke="#bdbdbd" stroke-width="0.5"/><rect x="458.8" y="196.9" width="7.1" height="1.9" fill="#fdfdfd" stroke="#bdbdbd" stroke-width="0.5"/><rect x="458.8" y="201.3" width="7.1" height="1.9" fill="#fdfdfd" stroke="#bdbdbd" stroke-width="0.5"/><rect x="458.8" y="205.6" width="7.1" height="1.9" fill="#fdfdfd" stroke="#bdbdbd" stroke-width="0.5"/><rect x="458.8" y="210.0" width="7.1" height="1.9" fill="#fdfdfd" stroke="#bdbdbd" stroke-width="0.5"/><rect x="470.4" y="180.7" width="34.1" height="34.3" fill="#d9d9d9" stroke="#b3b3b3" stroke-width="0.8"/><line x1="471.6" y1="182.6" x2="503.3" y2="182.6" stroke="#c4c4c4" stroke-width="0.7"/><line x1="471.6" y1="187.0" x2="503.3" y2="187.0" stroke="#c4c4c4" stroke-width="0.7"/><line x1="471.6" y1="191.4" x2="503.3" y2="191.4" stroke="#c4c4c4" stroke-width="0.7"/><line x1="471.6" y1="195.7" x2="503.3" y2="195.7" stroke="#c4c4c4" stroke-width="0.7"/><line x1="471.6" y1="200.1" x2="503.3" y2="200.1" stroke="#c4c4c4" stroke-width="0.7"/><line x1="471.6" y1="204.4" x2="503.3" y2="204.4" stroke="#c4c4c4" stroke-width="0.7"/><line x1="471.6" y1="208.8" x2="503.3" y2="208.8" stroke="#c4c4c4" stroke-width="0.7"/><line x1="471.6" y1="213.1" x2="503.3" y2="213.1" stroke="#c4c4c4" stroke-width="0.7"/><line x1="482.6" y1="181.9" x2="482.6" y2="213.8" stroke="#e6e6e6" stroke-width="0.8"/><line x1="492.7" y1="181.9" x2="492.7" y2="213.8" stroke="#e6e6e6" stroke-width="0.8"/><rect x="473.8" y="183.9" width="7.5" height="1.9" fill="#fdfdfd" stroke="#bdbdbd" stroke-width="0.5"/><rect x="473.8" y="188.2" width="7.5" height="1.9" fill="#fdfdfd" stroke="#bdbdbd" stroke-width="0.5"/><rect x="473.8" y="192.6" width="7.5" height="1.9" fill="#fdfdfd" stroke="#bdbdbd" stroke-width="0.5"/><rect x="473.8" y="196.9" width="7.5" height="1.9" fill="#fdfdfd" stroke="#bdbdbd" stroke-width="0.5"/><rect x="473.8" y="201.3" width="7.5" height="1.9" fill="#fdfdfd" stroke="#bdbdbd" stroke-width="0.5"/><rect x="473.8" y="205.6" width="7.5" height="1.9" fill="#fdfdfd" stroke="#bdbdbd" stroke-width="0.5"/><rect x="473.8" y="210.0" width="7.5" height="1.9" fill="#fdfdfd" stroke="#bdbdbd" stroke-width="0.5"/><rect x="483.9" y="183.9" width="7.5" height="1.9" fill="#fdfdfd" stroke="#bdbdbd" stroke-width="0.5"/><rect x="483.9" y="188.2" width="7.5" height="1.9" fill="#fdfdfd" stroke="#bdbdbd" stroke-width="0.5"/><rect x="483.9" y="192.6" width="7.5" height="1.9" fill="#fdfdfd" stroke="#bdbdbd" stroke-width="0.5"/><rect x="483.9" y="196.9" width="7.5" height="1.9" fill="#fdfdfd" stroke="#bdbdbd" stroke-width="0.5"/><rect x="483.9" y="201.3" width="7.5" height="1.9" fill="#fdfdfd" stroke="#bdbdbd" stroke-width="0.5"/><rect x="483.9" y="205.6" width="7.5" height="1.9" fill="#fdfdfd" stroke="#bdbdbd" stroke-width="0.5"/><rect x="483.9" y="210.0" width="7.5" height="1.9" fill="#fdfdfd" stroke="#bdbdbd" stroke-width="0.5"/><rect x="493.9" y="183.9" width="7.5" height="1.9" fill="#fdfdfd" stroke="#bdbdbd" stroke-width="0.5"/><rect x="493.9" y="188.2" width="7.5" height="1.9" fill="#fdfdfd" stroke="#bdbdbd" stroke-width="0.5"/><rect x="493.9" y="192.6" width="7.5" height="1.9" fill="#fdfdfd" stroke="#bdbdbd" stroke-width="0.5"/><rect x="493.9" y="196.9" width="7.5" height="1.9" fill="#fdfdfd" stroke="#bdbdbd" stroke-width="0.5"/><rect x="493.9" y="201.3" width="7.5" height="1.9" fill="#fdfdfd" stroke="#bdbdbd" stroke-width="0.5"/><rect x="493.9" y="205.6" width="7.5" height="1.9" fill="#fdfdfd" stroke="#bdbdbd" stroke-width="0.5"/><rect x="493.9" y="210.0" width="7.5" height="1.9" fill="#fdfdfd" stroke="#bdbdbd" stroke-width="0.5"/><rect x="366.9" y="222.2" width="33.3" height="33.3" fill="#d9d9d9" stroke="#b3b3b3" stroke-width="0.8"/><line x1="368.1" y1="224.1" x2="399.0" y2="224.1" stroke="#c4c4c4" stroke-width="0.7"/><line x1="368.1" y1="228.3" x2="399.0" y2="228.3" stroke="#c4c4c4" stroke-width="0.7"/><line x1="368.1" y1="232.5" x2="399.0" y2="232.5" stroke="#c4c4c4" stroke-width="0.7"/><line x1="368.1" y1="236.8" x2="399.0" y2="236.8" stroke="#c4c4c4" stroke-width="0.7"/><line x1="368.1" y1="241.0" x2="399.0" y2="241.0" stroke="#c4c4c4" stroke-width="0.7"/><line x1="368.1" y1="245.2" x2="399.0" y2="245.2" stroke="#c4c4c4" stroke-width="0.7"/><line x1="368.1" y1="249.5" x2="399.0" y2="249.5" stroke="#c4c4c4" stroke-width="0.7"/><line x1="368.1" y1="253.7" x2="399.0" y2="253.7" stroke="#c4c4c4" stroke-width="0.7"/><line x1="378.8" y1="223.4" x2="378.8" y2="254.3" stroke="#e6e6e6" stroke-width="0.8"/><line x1="388.6" y1="223.4" x2="388.6" y2="254.3" stroke="#e6e6e6" stroke-width="0.8"/><rect x="370.2" y="225.2" width="7.3" height="1.9" fill="#fdfdfd" stroke="#bdbdbd" stroke-width="0.5"/><rect x="370.2" y="229.5" width="7.3" height="1.9" fill="#fdfdfd" stroke="#bdbdbd" stroke-width="0.5"/><rect x="370.2" y="233.7" width="7.3" height="1.9" fill="#fdfdfd" stroke="#bdbdbd" stroke-width="0.5"/><rect x="370.2" y="237.9" width="7.3" height="1.9" fill="#fdfdfd" stroke="#bdbdbd" stroke-width="0.5"/><rect x="370.2" y="242.2" width="7.3" height="1.9" fill="#fdfdfd" stroke="#bdbdbd" stroke-width="0.5"/><rect x="370.2" y="246.4" width="7.3" height="1.9" fill="#fdfdfd" stroke="#bdbdbd" stroke-width="0.5"/><rect x="370.2" y="250.6" width="7.3" height="1.9" fill="#fdfdfd" stroke="#bdbdbd" stroke-width="0.5"/><rect x="380.1" y="225.2" width="7.3" height="1.9" fill="#fdfdfd" stroke="#bdbdbd" stroke-width="0.5"/><rect x="380.1" y="229.5" width="7.3" height="1.9" fill="#fdfdfd" stroke="#bdbdbd" stroke-width="0.5"/><rect x="380.1" y="233.7" width="7.3" height="1.9" fill="#fdfdfd" stroke="#bdbdbd" stroke-width="0.5"/><rect x="380.1" y="237.9" width="7.3" height="1.9" fill="#fdfdfd" stroke="#bdbdbd" stroke-width="0.5"/><rect x="380.1" y="242.2" width="7.3" height="1.9" fill="#fdfdfd" stroke="#bdbdbd" stroke-width="0.5"/><rect x="380.1" y="246.4" width="7.3" height="1.9" fill="#fdfdfd" stroke="#bdbdbd" stroke-width="0.5"/><rect x="380.1" y="250.6" width="7.3" height="1.9" fill="#fdfdfd" stroke="#bdbdbd" stroke-width="0.5"/><rect x="389.9" y="225.2" width="7.3" height="1.9" fill="#fdfdfd" stroke="#bdbdbd" stroke-width="0.5"/><rect x="389.9" y="229.5" width="7.3" height="1.9" fill="#fdfdfd" stroke="#bdbdbd" stroke-width="0.5"/><rect x="389.9" y="233.7" width="7.3" height="1.9" fill="#fdfdfd" stroke="#bdbdbd" stroke-width="0.5"/><rect x="389.9" y="237.9" width="7.3" height="1.9" fill="#fdfdfd" stroke="#bdbdbd" stroke-width="0.5"/><rect x="389.9" y="242.2" width="7.3" height="1.9" fill="#fdfdfd" stroke="#bdbdbd" stroke-width="0.5"/><rect x="389.9" y="246.4" width="7.3" height="1.9" fill="#fdfdfd" stroke="#bdbdbd" stroke-width="0.5"/><rect x="389.9" y="250.6" width="7.3" height="1.9" fill="#fdfdfd" stroke="#bdbdbd" stroke-width="0.5"/><rect x="401.6" y="222.2" width="33.4" height="33.3" fill="#d9d9d9" stroke="#b3b3b3" stroke-width="0.8"/><line x1="402.8" y1="224.1" x2="433.8" y2="224.1" stroke="#c4c4c4" stroke-width="0.7"/><line x1="402.8" y1="228.3" x2="433.8" y2="228.3" stroke="#c4c4c4" stroke-width="0.7"/><line x1="402.8" y1="232.5" x2="433.8" y2="232.5" stroke="#c4c4c4" stroke-width="0.7"/><line x1="402.8" y1="236.8" x2="433.8" y2="236.8" stroke="#c4c4c4" stroke-width="0.7"/><line x1="402.8" y1="241.0" x2="433.8" y2="241.0" stroke="#c4c4c4" stroke-width="0.7"/><line x1="402.8" y1="245.2" x2="433.8" y2="245.2" stroke="#c4c4c4" stroke-width="0.7"/><line x1="402.8" y1="249.5" x2="433.8" y2="249.5" stroke="#c4c4c4" stroke-width="0.7"/><line x1="402.8" y1="253.7" x2="433.8" y2="253.7" stroke="#c4c4c4" stroke-width="0.7"/><line x1="413.5" y1="223.4" x2="413.5" y2="254.3" stroke="#e6e6e6" stroke-width="0.8"/><line x1="423.4" y1="223.4" x2="423.4" y2="254.3" stroke="#e6e6e6" stroke-width="0.8"/><rect x="404.9" y="225.2" width="7.3" height="1.9" fill="#fdfdfd" stroke="#bdbdbd" stroke-width="0.5"/><rect x="404.9" y="229.5" width="7.3" height="1.9" fill="#fdfdfd" stroke="#bdbdbd" stroke-width="0.5"/><rect x="404.9" y="233.7" width="7.3" height="1.9" fill="#fdfdfd" stroke="#bdbdbd" stroke-width="0.5"/><rect x="404.9" y="237.9" width="7.3" height="1.9" fill="#fdfdfd" stroke="#bdbdbd" stroke-width="0.5"/><rect x="404.9" y="242.2" width="7.3" height="1.9" fill="#fdfdfd" stroke="#bdbdbd" stroke-width="0.5"/><rect x="404.9" y="246.4" width="7.3" height="1.9" fill="#fdfdfd" stroke="#bdbdbd" stroke-width="0.5"/><rect x="404.9" y="250.6" width="7.3" height="1.9" fill="#fdfdfd" stroke="#bdbdbd" stroke-width="0.5"/><rect x="414.8" y="225.2" width="7.3" height="1.9" fill="#fdfdfd" stroke="#bdbdbd" stroke-width="0.5"/><rect x="414.8" y="229.5" width="7.3" height="1.9" fill="#fdfdfd" stroke="#bdbdbd" stroke-width="0.5"/><rect x="414.8" y="233.7" width="7.3" height="1.9" fill="#fdfdfd" stroke="#bdbdbd" stroke-width="0.5"/><rect x="414.8" y="237.9" width="7.3" height="1.9" fill="#fdfdfd" stroke="#bdbdbd" stroke-width="0.5"/><rect x="414.8" y="242.2" width="7.3" height="1.9" fill="#fdfdfd" stroke="#bdbdbd" stroke-width="0.5"/><rect x="414.8" y="246.4" width="7.3" height="1.9" fill="#fdfdfd" stroke="#bdbdbd" stroke-width="0.5"/><rect x="414.8" y="250.6" width="7.3" height="1.9" fill="#fdfdfd" stroke="#bdbdbd" stroke-width="0.5"/><rect x="424.6" y="225.2" width="7.3" height="1.9" fill="#fdfdfd" stroke="#bdbdbd" stroke-width="0.5"/><rect x="424.6" y="229.5" width="7.3" height="1.9" fill="#fdfdfd" stroke="#bdbdbd" stroke-width="0.5"/><rect x="424.6" y="233.7" width="7.3" height="1.9" fill="#fdfdfd" stroke="#bdbdbd" stroke-width="0.5"/><rect x="424.6" y="237.9" width="7.3" height="1.9" fill="#fdfdfd" stroke="#bdbdbd" stroke-width="0.5"/><rect x="424.6" y="242.2" width="7.3" height="1.9" fill="#fdfdfd" stroke="#bdbdbd" stroke-width="0.5"/><rect x="424.6" y="246.4" width="7.3" height="1.9" fill="#fdfdfd" stroke="#bdbdbd" stroke-width="0.5"/><rect x="424.6" y="250.6" width="7.3" height="1.9" fill="#fdfdfd" stroke="#bdbdbd" stroke-width="0.5"/><rect x="436.5" y="222.2" width="32.3" height="33.3" fill="#d9d9d9" stroke="#b3b3b3" stroke-width="0.8"/><line x1="437.7" y1="224.1" x2="467.6" y2="224.1" stroke="#c4c4c4" stroke-width="0.7"/><line x1="437.7" y1="228.3" x2="467.6" y2="228.3" stroke="#c4c4c4" stroke-width="0.7"/><line x1="437.7" y1="232.5" x2="467.6" y2="232.5" stroke="#c4c4c4" stroke-width="0.7"/><line x1="437.7" y1="236.8" x2="467.6" y2="236.8" stroke="#c4c4c4" stroke-width="0.7"/><line x1="437.7" y1="241.0" x2="467.6" y2="241.0" stroke="#c4c4c4" stroke-width="0.7"/><line x1="437.7" y1="245.2" x2="467.6" y2="245.2" stroke="#c4c4c4" stroke-width="0.7"/><line x1="437.7" y1="249.5" x2="467.6" y2="249.5" stroke="#c4c4c4" stroke-width="0.7"/><line x1="437.7" y1="253.7" x2="467.6" y2="253.7" stroke="#c4c4c4" stroke-width="0.7"/><line x1="448.0" y1="223.4" x2="448.0" y2="254.3" stroke="#e6e6e6" stroke-width="0.8"/><line x1="457.6" y1="223.4" x2="457.6" y2="254.3" stroke="#e6e6e6" stroke-width="0.8"/><rect x="439.7" y="225.2" width="7.1" height="1.9" fill="#fdfdfd" stroke="#bdbdbd" stroke-width="0.5"/><rect x="439.7" y="229.5" width="7.1" height="1.9" fill="#fdfdfd" stroke="#bdbdbd" stroke-width="0.5"/><rect x="439.7" y="233.7" width="7.1" height="1.9" fill="#fdfdfd" stroke="#bdbdbd" stroke-width="0.5"/><rect x="439.7" y="237.9" width="7.1" height="1.9" fill="#fdfdfd" stroke="#bdbdbd" stroke-width="0.5"/><rect x="439.7" y="242.2" width="7.1" height="1.9" fill="#fdfdfd" stroke="#bdbdbd" stroke-width="0.5"/><rect x="439.7" y="246.4" width="7.1" height="1.9" fill="#fdfdfd" stroke="#bdbdbd" stroke-width="0.5"/><rect x="439.7" y="250.6" width="7.1" height="1.9" fill="#fdfdfd" stroke="#bdbdbd" stroke-width="0.5"/><rect x="449.3" y="225.2" width="7.1" height="1.9" fill="#fdfdfd" stroke="#bdbdbd" stroke-width="0.5"/><rect x="449.3" y="229.5" width="7.1" height="1.9" fill="#fdfdfd" stroke="#bdbdbd" stroke-width="0.5"/><rect x="449.3" y="233.7" width="7.1" height="1.9" fill="#fdfdfd" stroke="#bdbdbd" stroke-width="0.5"/><rect x="449.3" y="237.9" width="7.1" height="1.9" fill="#fdfdfd" stroke="#bdbdbd" stroke-width="0.5"/><rect x="449.3" y="242.2" width="7.1" height="1.9" fill="#fdfdfd" stroke="#bdbdbd" stroke-width="0.5"/><rect x="449.3" y="246.4" width="7.1" height="1.9" fill="#fdfdfd" stroke="#bdbdbd" stroke-width="0.5"/><rect x="449.3" y="250.6" width="7.1" height="1.9" fill="#fdfdfd" stroke="#bdbdbd" stroke-width="0.5"/><rect x="458.8" y="225.2" width="7.1" height="1.9" fill="#fdfdfd" stroke="#bdbdbd" stroke-width="0.5"/><rect x="458.8" y="229.5" width="7.1" height="1.9" fill="#fdfdfd" stroke="#bdbdbd" stroke-width="0.5"/><rect x="458.8" y="233.7" width="7.1" height="1.9" fill="#fdfdfd" stroke="#bdbdbd" stroke-width="0.5"/><rect x="458.8" y="237.9" width="7.1" height="1.9" fill="#fdfdfd" stroke="#bdbdbd" stroke-width="0.5"/><rect x="458.8" y="242.2" width="7.1" height="1.9" fill="#fdfdfd" stroke="#bdbdbd" stroke-width="0.5"/><rect x="458.8" y="246.4" width="7.1" height="1.9" fill="#fdfdfd" stroke="#bdbdbd" stroke-width="0.5"/><rect x="458.8" y="250.6" width="7.1" height="1.9" fill="#fdfdfd" stroke="#bdbdbd" stroke-width="0.5"/><rect x="470.4" y="222.2" width="34.1" height="33.3" fill="#d9d9d9" stroke="#b3b3b3" stroke-width="0.8"/><line x1="471.6" y1="224.1" x2="503.3" y2="224.1" stroke="#c4c4c4" stroke-width="0.7"/><line x1="471.6" y1="228.3" x2="503.3" y2="228.3" stroke="#c4c4c4" stroke-width="0.7"/><line x1="471.6" y1="232.5" x2="503.3" y2="232.5" stroke="#c4c4c4" stroke-width="0.7"/><line x1="471.6" y1="236.8" x2="503.3" y2="236.8" stroke="#c4c4c4" stroke-width="0.7"/><line x1="471.6" y1="241.0" x2="503.3" y2="241.0" stroke="#c4c4c4" stroke-width="0.7"/><line x1="471.6" y1="245.2" x2="503.3" y2="245.2" stroke="#c4c4c4" stroke-width="0.7"/><line x1="471.6" y1="249.5" x2="503.3" y2="249.5" stroke="#c4c4c4" stroke-width="0.7"/><line x1="471.6" y1="253.7" x2="503.3" y2="253.7" stroke="#c4c4c4" stroke-width="0.7"/><line x1="482.6" y1="223.4" x2="482.6" y2="254.3" stroke="#e6e6e6" stroke-width="0.8"/><line x1="492.7" y1="223.4" x2="492.7" y2="254.3" stroke="#e6e6e6" stroke-width="0.8"/><rect x="473.8" y="225.2" width="7.5" height="1.9" fill="#fdfdfd" stroke="#bdbdbd" stroke-width="0.5"/><rect x="473.8" y="229.5" width="7.5" height="1.9" fill="#fdfdfd" stroke="#bdbdbd" stroke-width="0.5"/><rect x="473.8" y="233.7" width="7.5" height="1.9" fill="#fdfdfd" stroke="#bdbdbd" stroke-width="0.5"/><rect x="473.8" y="237.9" width="7.5" height="1.9" fill="#fdfdfd" stroke="#bdbdbd" stroke-width="0.5"/><rect x="473.8" y="242.2" width="7.5" height="1.9" fill="#fdfdfd" stroke="#bdbdbd" stroke-width="0.5"/><rect x="473.8" y="246.4" width="7.5" height="1.9" fill="#fdfdfd" stroke="#bdbdbd" stroke-width="0.5"/><rect x="473.8" y="250.6" width="7.5" height="1.9" fill="#fdfdfd" stroke="#bdbdbd" stroke-width="0.5"/><rect x="483.9" y="225.2" width="7.5" height="1.9" fill="#fdfdfd" stroke="#bdbdbd" stroke-width="0.5"/><rect x="483.9" y="229.5" width="7.5" height="1.9" fill="#fdfdfd" stroke="#bdbdbd" stroke-width="0.5"/><rect x="483.9" y="233.7" width="7.5" height="1.9" fill="#fdfdfd" stroke="#bdbdbd" stroke-width="0.5"/><rect x="483.9" y="237.9" width="7.5" height="1.9" fill="#fdfdfd" stroke="#bdbdbd" stroke-width="0.5"/><rect x="483.9" y="242.2" width="7.5" height="1.9" fill="#fdfdfd" stroke="#bdbdbd" stroke-width="0.5"/><rect x="483.9" y="246.4" width="7.5" height="1.9" fill="#fdfdfd" stroke="#bdbdbd" stroke-width="0.5"/><rect x="483.9" y="250.6" width="7.5" height="1.9" fill="#fdfdfd" stroke="#bdbdbd" stroke-width="0.5"/><rect x="493.9" y="225.2" width="7.5" height="1.9" fill="#fdfdfd" stroke="#bdbdbd" stroke-width="0.5"/><rect x="493.9" y="229.5" width="7.5" height="1.9" fill="#fdfdfd" stroke="#bdbdbd" stroke-width="0.5"/><rect x="493.9" y="233.7" width="7.5" height="1.9" fill="#fdfdfd" stroke="#bdbdbd" stroke-width="0.5"/><rect x="493.9" y="237.9" width="7.5" height="1.9" fill="#fdfdfd" stroke="#bdbdbd" stroke-width="0.5"/><rect x="493.9" y="242.2" width="7.5" height="1.9" fill="#fdfdfd" stroke="#bdbdbd" stroke-width="0.5"/><rect x="493.9" y="246.4" width="7.5" height="1.9" fill="#fdfdfd" stroke="#bdbdbd" stroke-width="0.5"/><rect x="493.9" y="250.6" width="7.5" height="1.9" fill="#fdfdfd" stroke="#bdbdbd" stroke-width="0.5"/><rect x="366.9" y="259.0" width="33.3" height="34.2" fill="#d9d9d9" stroke="#b3b3b3" stroke-width="0.8"/><line x1="368.1" y1="260.9" x2="399.0" y2="260.9" stroke="#c4c4c4" stroke-width="0.7"/><line x1="368.1" y1="265.3" x2="399.0" y2="265.3" stroke="#c4c4c4" stroke-width="0.7"/><line x1="368.1" y1="269.6" x2="399.0" y2="269.6" stroke="#c4c4c4" stroke-width="0.7"/><line x1="368.1" y1="274.0" x2="399.0" y2="274.0" stroke="#c4c4c4" stroke-width="0.7"/><line x1="368.1" y1="278.3" x2="399.0" y2="278.3" stroke="#c4c4c4" stroke-width="0.7"/><line x1="368.1" y1="282.6" x2="399.0" y2="282.6" stroke="#c4c4c4" stroke-width="0.7"/><line x1="368.1" y1="287.0" x2="399.0" y2="287.0" stroke="#c4c4c4" stroke-width="0.7"/><line x1="368.1" y1="291.3" x2="399.0" y2="291.3" stroke="#c4c4c4" stroke-width="0.7"/><line x1="378.8" y1="260.2" x2="378.8" y2="292.0" stroke="#e6e6e6" stroke-width="0.8"/><line x1="388.6" y1="260.2" x2="388.6" y2="292.0" stroke="#e6e6e6" stroke-width="0.8"/><rect x="370.2" y="262.2" width="7.3" height="1.9" fill="#fdfdfd" stroke="#bdbdbd" stroke-width="0.5"/><rect x="370.2" y="266.5" width="7.3" height="1.9" fill="#fdfdfd" stroke="#bdbdbd" stroke-width="0.5"/><rect x="370.2" y="270.8" width="7.3" height="1.9" fill="#fdfdfd" stroke="#bdbdbd" stroke-width="0.5"/><rect x="370.2" y="275.2" width="7.3" height="1.9" fill="#fdfdfd" stroke="#bdbdbd" stroke-width="0.5"/><rect x="370.2" y="279.5" width="7.3" height="1.9" fill="#fdfdfd" stroke="#bdbdbd" stroke-width="0.5"/><rect x="370.2" y="283.9" width="7.3" height="1.9" fill="#fdfdfd" stroke="#bdbdbd" stroke-width="0.5"/><rect x="370.2" y="288.2" width="7.3" height="1.9" fill="#fdfdfd" stroke="#bdbdbd" stroke-width="0.5"/><rect x="380.1" y="262.2" width="7.3" height="1.9" fill="#fdfdfd" stroke="#bdbdbd" stroke-width="0.5"/><rect x="380.1" y="266.5" width="7.3" height="1.9" fill="#fdfdfd" stroke="#bdbdbd" stroke-width="0.5"/><rect x="380.1" y="270.8" width="7.3" height="1.9" fill="#fdfdfd" stroke="#bdbdbd" stroke-width="0.5"/><rect x="380.1" y="275.2" width="7.3" height="1.9" fill="#fdfdfd" stroke="#bdbdbd" stroke-width="0.5"/><rect x="380.1" y="279.5" width="7.3" height="1.9" fill="#fdfdfd" stroke="#bdbdbd" stroke-width="0.5"/><rect x="380.1" y="283.9" width="7.3" height="1.9" fill="#fdfdfd" stroke="#bdbdbd" stroke-width="0.5"/><rect x="380.1" y="288.2" width="7.3" height="1.9" fill="#fdfdfd" stroke="#bdbdbd" stroke-width="0.5"/><rect x="389.9" y="262.2" width="7.3" height="1.9" fill="#fdfdfd" stroke="#bdbdbd" stroke-width="0.5"/><rect x="389.9" y="266.5" width="7.3" height="1.9" fill="#fdfdfd" stroke="#bdbdbd" stroke-width="0.5"/><rect x="389.9" y="270.8" width="7.3" height="1.9" fill="#fdfdfd" stroke="#bdbdbd" stroke-width="0.5"/><rect x="389.9" y="275.2" width="7.3" height="1.9" fill="#fdfdfd" stroke="#bdbdbd" stroke-width="0.5"/><rect x="389.9" y="279.5" width="7.3" height="1.9" fill="#fdfdfd" stroke="#bdbdbd" stroke-width="0.5"/><rect x="389.9" y="283.9" width="7.3" height="1.9" fill="#fdfdfd" stroke="#bdbdbd" stroke-width="0.5"/><rect x="389.9" y="288.2" width="7.3" height="1.9" fill="#fdfdfd" stroke="#bdbdbd" stroke-width="0.5"/><rect x="401.6" y="259.0" width="33.4" height="34.2" fill="#d9d9d9" stroke="#b3b3b3" stroke-width="0.8"/><line x1="402.8" y1="260.9" x2="433.8" y2="260.9" stroke="#c4c4c4" stroke-width="0.7"/><line x1="402.8" y1="265.3" x2="433.8" y2="265.3" stroke="#c4c4c4" stroke-width="0.7"/><line x1="402.8" y1="269.6" x2="433.8" y2="269.6" stroke="#c4c4c4" stroke-width="0.7"/><line x1="402.8" y1="274.0" x2="433.8" y2="274.0" stroke="#c4c4c4" stroke-width="0.7"/><line x1="402.8" y1="278.3" x2="433.8" y2="278.3" stroke="#c4c4c4" stroke-width="0.7"/><line x1="402.8" y1="282.6" x2="433.8" y2="282.6" stroke="#c4c4c4" stroke-width="0.7"/><line x1="402.8" y1="287.0" x2="433.8" y2="287.0" stroke="#c4c4c4" stroke-width="0.7"/><line x1="402.8" y1="291.3" x2="433.8" y2="291.3" stroke="#c4c4c4" stroke-width="0.7"/><line x1="413.5" y1="260.2" x2="413.5" y2="292.0" stroke="#e6e6e6" stroke-width="0.8"/><line x1="423.4" y1="260.2" x2="423.4" y2="292.0" stroke="#e6e6e6" stroke-width="0.8"/><rect x="404.9" y="262.2" width="7.3" height="1.9" fill="#fdfdfd" stroke="#bdbdbd" stroke-width="0.5"/><rect x="404.9" y="266.5" width="7.3" height="1.9" fill="#fdfdfd" stroke="#bdbdbd" stroke-width="0.5"/><rect x="404.9" y="270.8" width="7.3" height="1.9" fill="#fdfdfd" stroke="#bdbdbd" stroke-width="0.5"/><rect x="404.9" y="275.2" width="7.3" height="1.9" fill="#fdfdfd" stroke="#bdbdbd" stroke-width="0.5"/><rect x="404.9" y="279.5" width="7.3" height="1.9" fill="#fdfdfd" stroke="#bdbdbd" stroke-width="0.5"/><rect x="404.9" y="283.9" width="7.3" height="1.9" fill="#fdfdfd" stroke="#bdbdbd" stroke-width="0.5"/><rect x="404.9" y="288.2" width="7.3" height="1.9" fill="#fdfdfd" stroke="#bdbdbd" stroke-width="0.5"/><rect x="414.8" y="262.2" width="7.3" height="1.9" fill="#fdfdfd" stroke="#bdbdbd" stroke-width="0.5"/><rect x="414.8" y="266.5" width="7.3" height="1.9" fill="#fdfdfd" stroke="#bdbdbd" stroke-width="0.5"/><rect x="414.8" y="270.8" width="7.3" height="1.9" fill="#fdfdfd" stroke="#bdbdbd" stroke-width="0.5"/><rect x="414.8" y="275.2" width="7.3" height="1.9" fill="#fdfdfd" stroke="#bdbdbd" stroke-width="0.5"/><rect x="414.8" y="279.5" width="7.3" height="1.9" fill="#fdfdfd" stroke="#bdbdbd" stroke-width="0.5"/><rect x="414.8" y="283.9" width="7.3" height="1.9" fill="#fdfdfd" stroke="#bdbdbd" stroke-width="0.5"/><rect x="414.8" y="288.2" width="7.3" height="1.9" fill="#fdfdfd" stroke="#bdbdbd" stroke-width="0.5"/><rect x="424.6" y="262.2" width="7.3" height="1.9" fill="#fdfdfd" stroke="#bdbdbd" stroke-width="0.5"/><rect x="424.6" y="266.5" width="7.3" height="1.9" fill="#fdfdfd" stroke="#bdbdbd" stroke-width="0.5"/><rect x="424.6" y="270.8" width="7.3" height="1.9" fill="#fdfdfd" stroke="#bdbdbd" stroke-width="0.5"/><rect x="424.6" y="275.2" width="7.3" height="1.9" fill="#fdfdfd" stroke="#bdbdbd" stroke-width="0.5"/><rect x="424.6" y="279.5" width="7.3" height="1.9" fill="#fdfdfd" stroke="#bdbdbd" stroke-width="0.5"/><rect x="424.6" y="283.9" width="7.3" height="1.9" fill="#fdfdfd" stroke="#bdbdbd" stroke-width="0.5"/><rect x="424.6" y="288.2" width="7.3" height="1.9" fill="#fdfdfd" stroke="#bdbdbd" stroke-width="0.5"/><rect x="436.5" y="259.0" width="32.3" height="34.2" fill="#d9d9d9" stroke="#b3b3b3" stroke-width="0.8"/><line x1="437.7" y1="260.9" x2="467.6" y2="260.9" stroke="#c4c4c4" stroke-width="0.7"/><line x1="437.7" y1="265.3" x2="467.6" y2="265.3" stroke="#c4c4c4" stroke-width="0.7"/><line x1="437.7" y1="269.6" x2="467.6" y2="269.6" stroke="#c4c4c4" stroke-width="0.7"/><line x1="437.7" y1="274.0" x2="467.6" y2="274.0" stroke="#c4c4c4" stroke-width="0.7"/><line x1="437.7" y1="278.3" x2="467.6" y2="278.3" stroke="#c4c4c4" stroke-width="0.7"/><line x1="437.7" y1="282.6" x2="467.6" y2="282.6" stroke="#c4c4c4" stroke-width="0.7"/><line x1="437.7" y1="287.0" x2="467.6" y2="287.0" stroke="#c4c4c4" stroke-width="0.7"/><line x1="437.7" y1="291.3" x2="467.6" y2="291.3" stroke="#c4c4c4" stroke-width="0.7"/><line x1="448.0" y1="260.2" x2="448.0" y2="292.0" stroke="#e6e6e6" stroke-width="0.8"/><line x1="457.6" y1="260.2" x2="457.6" y2="292.0" stroke="#e6e6e6" stroke-width="0.8"/><rect x="439.7" y="262.2" width="7.1" height="1.9" fill="#fdfdfd" stroke="#bdbdbd" stroke-width="0.5"/><rect x="439.7" y="266.5" width="7.1" height="1.9" fill="#fdfdfd" stroke="#bdbdbd" stroke-width="0.5"/><rect x="439.7" y="270.8" width="7.1" height="1.9" fill="#fdfdfd" stroke="#bdbdbd" stroke-width="0.5"/><rect x="439.7" y="275.2" width="7.1" height="1.9" fill="#fdfdfd" stroke="#bdbdbd" stroke-width="0.5"/><rect x="439.7" y="279.5" width="7.1" height="1.9" fill="#fdfdfd" stroke="#bdbdbd" stroke-width="0.5"/><rect x="439.7" y="283.9" width="7.1" height="1.9" fill="#fdfdfd" stroke="#bdbdbd" stroke-width="0.5"/><rect x="439.7" y="288.2" width="7.1" height="1.9" fill="#fdfdfd" stroke="#bdbdbd" stroke-width="0.5"/><rect x="449.3" y="262.2" width="7.1" height="1.9" fill="#fdfdfd" stroke="#bdbdbd" stroke-width="0.5"/><rect x="449.3" y="266.5" width="7.1" height="1.9" fill="#fdfdfd" stroke="#bdbdbd" stroke-width="0.5"/><rect x="449.3" y="270.8" width="7.1" height="1.9" fill="#fdfdfd" stroke="#bdbdbd" stroke-width="0.5"/><rect x="449.3" y="275.2" width="7.1" height="1.9" fill="#fdfdfd" stroke="#bdbdbd" stroke-width="0.5"/><rect x="449.3" y="279.5" width="7.1" height="1.9" fill="#fdfdfd" stroke="#bdbdbd" stroke-width="0.5"/><rect x="449.3" y="283.9" width="7.1" height="1.9" fill="#fdfdfd" stroke="#bdbdbd" stroke-width="0.5"/><rect x="449.3" y="288.2" width="7.1" height="1.9" fill="#fdfdfd" stroke="#bdbdbd" stroke-width="0.5"/><rect x="458.8" y="262.2" width="7.1" height="1.9" fill="#fdfdfd" stroke="#bdbdbd" stroke-width="0.5"/><rect x="458.8" y="266.5" width="7.1" height="1.9" fill="#fdfdfd" stroke="#bdbdbd" stroke-width="0.5"/><rect x="458.8" y="270.8" width="7.1" height="1.9" fill="#fdfdfd" stroke="#bdbdbd" stroke-width="0.5"/><rect x="458.8" y="275.2" width="7.1" height="1.9" fill="#fdfdfd" stroke="#bdbdbd" stroke-width="0.5"/><rect x="458.8" y="279.5" width="7.1" height="1.9" fill="#fdfdfd" stroke="#bdbdbd" stroke-width="0.5"/><rect x="458.8" y="283.9" width="7.1" height="1.9" fill="#fdfdfd" stroke="#bdbdbd" stroke-width="0.5"/><rect x="458.8" y="288.2" width="7.1" height="1.9" fill="#fdfdfd" stroke="#bdbdbd" stroke-width="0.5"/><rect x="470.4" y="259.0" width="34.1" height="34.2" fill="#d9d9d9" stroke="#b3b3b3" stroke-width="0.8"/><line x1="471.6" y1="260.9" x2="503.3" y2="260.9" stroke="#c4c4c4" stroke-width="0.7"/><line x1="471.6" y1="265.3" x2="503.3" y2="265.3" stroke="#c4c4c4" stroke-width="0.7"/><line x1="471.6" y1="269.6" x2="503.3" y2="269.6" stroke="#c4c4c4" stroke-width="0.7"/><line x1="471.6" y1="274.0" x2="503.3" y2="274.0" stroke="#c4c4c4" stroke-width="0.7"/><line x1="471.6" y1="278.3" x2="503.3" y2="278.3" stroke="#c4c4c4" stroke-width="0.7"/><line x1="471.6" y1="282.6" x2="503.3" y2="282.6" stroke="#c4c4c4" stroke-width="0.7"/><line x1="471.6" y1="287.0" x2="503.3" y2="287.0" stroke="#c4c4c4" stroke-width="0.7"/><line x1="471.6" y1="291.3" x2="503.3" y2="291.3" stroke="#c4c4c4" stroke-width="0.7"/><line x1="482.6" y1="260.2" x2="482.6" y2="292.0" stroke="#e6e6e6" stroke-width="0.8"/><line x1="492.7" y1="260.2" x2="492.7" y2="292.0" stroke="#e6e6e6" stroke-width="0.8"/><rect x="473.8" y="262.2" width="7.5" height="1.9" fill="#fdfdfd" stroke="#bdbdbd" stroke-width="0.5"/><rect x="473.8" y="266.5" width="7.5" height="1.9" fill="#fdfdfd" stroke="#bdbdbd" stroke-width="0.5"/><rect x="473.8" y="270.8" width="7.5" height="1.9" fill="#fdfdfd" stroke="#bdbdbd" stroke-width="0.5"/><rect x="473.8" y="275.2" width="7.5" height="1.9" fill="#fdfdfd" stroke="#bdbdbd" stroke-width="0.5"/><rect x="473.8" y="279.5" width="7.5" height="1.9" fill="#fdfdfd" stroke="#bdbdbd" stroke-width="0.5"/><rect x="473.8" y="283.9" width="7.5" height="1.9" fill="#fdfdfd" stroke="#bdbdbd" stroke-width="0.5"/><rect x="473.8" y="288.2" width="7.5" height="1.9" fill="#fdfdfd" stroke="#bdbdbd" stroke-width="0.5"/><rect x="483.9" y="262.2" width="7.5" height="1.9" fill="#fdfdfd" stroke="#bdbdbd" stroke-width="0.5"/><rect x="483.9" y="266.5" width="7.5" height="1.9" fill="#fdfdfd" stroke="#bdbdbd" stroke-width="0.5"/><rect x="483.9" y="270.8" width="7.5" height="1.9" fill="#fdfdfd" stroke="#bdbdbd" stroke-width="0.5"/><rect x="483.9" y="275.2" width="7.5" height="1.9" fill="#fdfdfd" stroke="#bdbdbd" stroke-width="0.5"/><rect x="483.9" y="279.5" width="7.5" height="1.9" fill="#fdfdfd" stroke="#bdbdbd" stroke-width="0.5"/><rect x="483.9" y="283.9" width="7.5" height="1.9" fill="#fdfdfd" stroke="#bdbdbd" stroke-width="0.5"/><rect x="483.9" y="288.2" width="7.5" height="1.9" fill="#fdfdfd" stroke="#bdbdbd" stroke-width="0.5"/><rect x="493.9" y="262.2" width="7.5" height="1.9" fill="#fdfdfd" stroke="#bdbdbd" stroke-width="0.5"/><rect x="493.9" y="266.5" width="7.5" height="1.9" fill="#fdfdfd" stroke="#bdbdbd" stroke-width="0.5"/><rect x="493.9" y="270.8" width="7.5" height="1.9" fill="#fdfdfd" stroke="#bdbdbd" stroke-width="0.5"/><rect x="493.9" y="275.2" width="7.5" height="1.9" fill="#fdfdfd" stroke="#bdbdbd" stroke-width="0.5"/><rect x="493.9" y="279.5" width="7.5" height="1.9" fill="#fdfdfd" stroke="#bdbdbd" stroke-width="0.5"/><rect x="493.9" y="283.9" width="7.5" height="1.9" fill="#fdfdfd" stroke="#bdbdbd" stroke-width="0.5"/><rect x="493.9" y="288.2" width="7.5" height="1.9" fill="#fdfdfd" stroke="#bdbdbd" stroke-width="0.5"/><rect x="366.9" y="296.3" width="33.3" height="34.7" fill="#d9d9d9" stroke="#b3b3b3" stroke-width="0.8"/><line x1="368.1" y1="298.3" x2="399.0" y2="298.3" stroke="#c4c4c4" stroke-width="0.7"/><line x1="368.1" y1="302.7" x2="399.0" y2="302.7" stroke="#c4c4c4" stroke-width="0.7"/><line x1="368.1" y1="307.1" x2="399.0" y2="307.1" stroke="#c4c4c4" stroke-width="0.7"/><line x1="368.1" y1="311.5" x2="399.0" y2="311.5" stroke="#c4c4c4" stroke-width="0.7"/><line x1="368.1" y1="315.9" x2="399.0" y2="315.9" stroke="#c4c4c4" stroke-width="0.7"/><line x1="368.1" y1="320.3" x2="399.0" y2="320.3" stroke="#c4c4c4" stroke-width="0.7"/><line x1="368.1" y1="324.7" x2="399.0" y2="324.7" stroke="#c4c4c4" stroke-width="0.7"/><line x1="368.1" y1="329.1" x2="399.0" y2="329.1" stroke="#c4c4c4" stroke-width="0.7"/><line x1="378.8" y1="297.5" x2="378.8" y2="329.8" stroke="#e6e6e6" stroke-width="0.8"/><line x1="388.6" y1="297.5" x2="388.6" y2="329.8" stroke="#e6e6e6" stroke-width="0.8"/><rect x="370.2" y="299.5" width="7.3" height="1.9" fill="#fdfdfd" stroke="#bdbdbd" stroke-width="0.5"/><rect x="370.2" y="303.9" width="7.3" height="1.9" fill="#fdfdfd" stroke="#bdbdbd" stroke-width="0.5"/><rect x="370.2" y="308.3" width="7.3" height="1.9" fill="#fdfdfd" stroke="#bdbdbd" stroke-width="0.5"/><rect x="370.2" y="312.7" width="7.3" height="1.9" fill="#fdfdfd" stroke="#bdbdbd" stroke-width="0.5"/><rect x="370.2" y="317.1" width="7.3" height="1.9" fill="#fdfdfd" stroke="#bdbdbd" stroke-width="0.5"/><rect x="370.2" y="321.5" width="7.3" height="1.9" fill="#fdfdfd" stroke="#bdbdbd" stroke-width="0.5"/><rect x="370.2" y="326.0" width="7.3" height="1.9" fill="#fdfdfd" stroke="#bdbdbd" stroke-width="0.5"/><rect x="380.1" y="299.5" width="7.3" height="1.9" fill="#fdfdfd" stroke="#bdbdbd" stroke-width="0.5"/><rect x="380.1" y="303.9" width="7.3" height="1.9" fill="#fdfdfd" stroke="#bdbdbd" stroke-width="0.5"/><rect x="380.1" y="308.3" width="7.3" height="1.9" fill="#fdfdfd" stroke="#bdbdbd" stroke-width="0.5"/><rect x="380.1" y="312.7" width="7.3" height="1.9" fill="#fdfdfd" stroke="#bdbdbd" stroke-width="0.5"/><rect x="380.1" y="317.1" width="7.3" height="1.9" fill="#fdfdfd" stroke="#bdbdbd" stroke-width="0.5"/><rect x="380.1" y="321.5" width="7.3" height="1.9" fill="#fdfdfd" stroke="#bdbdbd" stroke-width="0.5"/><rect x="380.1" y="326.0" width="7.3" height="1.9" fill="#fdfdfd" stroke="#bdbdbd" stroke-width="0.5"/><rect x="389.9" y="299.5" width="7.3" height="1.9" fill="#fdfdfd" stroke="#bdbdbd" stroke-width="0.5"/><rect x="389.9" y="303.9" width="7.3" height="1.9" fill="#fdfdfd" stroke="#bdbdbd" stroke-width="0.5"/><rect x="389.9" y="308.3" width="7.3" height="1.9" fill="#fdfdfd" stroke="#bdbdbd" stroke-width="0.5"/><rect x="389.9" y="312.7" width="7.3" height="1.9" fill="#fdfdfd" stroke="#bdbdbd" stroke-width="0.5"/><rect x="389.9" y="317.1" width="7.3" height="1.9" fill="#fdfdfd" stroke="#bdbdbd" stroke-width="0.5"/><rect x="389.9" y="321.5" width="7.3" height="1.9" fill="#fdfdfd" stroke="#bdbdbd" stroke-width="0.5"/><rect x="389.9" y="326.0" width="7.3" height="1.9" fill="#fdfdfd" stroke="#bdbdbd" stroke-width="0.5"/><rect x="401.6" y="296.3" width="33.4" height="34.7" fill="#d9d9d9" stroke="#b3b3b3" stroke-width="0.8"/><line x1="402.8" y1="298.3" x2="433.8" y2="298.3" stroke="#c4c4c4" stroke-width="0.7"/><line x1="402.8" y1="302.7" x2="433.8" y2="302.7" stroke="#c4c4c4" stroke-width="0.7"/><line x1="402.8" y1="307.1" x2="433.8" y2="307.1" stroke="#c4c4c4" stroke-width="0.7"/><line x1="402.8" y1="311.5" x2="433.8" y2="311.5" stroke="#c4c4c4" stroke-width="0.7"/><line x1="402.8" y1="315.9" x2="433.8" y2="315.9" stroke="#c4c4c4" stroke-width="0.7"/><line x1="402.8" y1="320.3" x2="433.8" y2="320.3" stroke="#c4c4c4" stroke-width="0.7"/><line x1="402.8" y1="324.7" x2="433.8" y2="324.7" stroke="#c4c4c4" stroke-width="0.7"/><line x1="402.8" y1="329.1" x2="433.8" y2="329.1" stroke="#c4c4c4" stroke-width="0.7"/><line x1="413.5" y1="297.5" x2="413.5" y2="329.8" stroke="#e6e6e6" stroke-width="0.8"/><line x1="423.4" y1="297.5" x2="423.4" y2="329.8" stroke="#e6e6e6" stroke-width="0.8"/><rect x="404.9" y="299.5" width="7.3" height="1.9" fill="#fdfdfd" stroke="#bdbdbd" stroke-width="0.5"/><rect x="404.9" y="303.9" width="7.3" height="1.9" fill="#fdfdfd" stroke="#bdbdbd" stroke-width="0.5"/><rect x="404.9" y="308.3" width="7.3" height="1.9" fill="#fdfdfd" stroke="#bdbdbd" stroke-width="0.5"/><rect x="404.9" y="312.7" width="7.3" height="1.9" fill="#fdfdfd" stroke="#bdbdbd" stroke-width="0.5"/><rect x="404.9" y="317.1" width="7.3" height="1.9" fill="#fdfdfd" stroke="#bdbdbd" stroke-width="0.5"/><rect x="404.9" y="321.5" width="7.3" height="1.9" fill="#fdfdfd" stroke="#bdbdbd" stroke-width="0.5"/><rect x="404.9" y="326.0" width="7.3" height="1.9" fill="#fdfdfd" stroke="#bdbdbd" stroke-width="0.5"/><rect x="414.8" y="299.5" width="7.3" height="1.9" fill="#fdfdfd" stroke="#bdbdbd" stroke-width="0.5"/><rect x="414.8" y="303.9" width="7.3" height="1.9" fill="#fdfdfd" stroke="#bdbdbd" stroke-width="0.5"/><rect x="414.8" y="308.3" width="7.3" height="1.9" fill="#fdfdfd" stroke="#bdbdbd" stroke-width="0.5"/><rect x="414.8" y="312.7" width="7.3" height="1.9" fill="#fdfdfd" stroke="#bdbdbd" stroke-width="0.5"/><rect x="414.8" y="317.1" width="7.3" height="1.9" fill="#fdfdfd" stroke="#bdbdbd" stroke-width="0.5"/><rect x="414.8" y="321.5" width="7.3" height="1.9" fill="#fdfdfd" stroke="#bdbdbd" stroke-width="0.5"/><rect x="414.8" y="326.0" width="7.3" height="1.9" fill="#fdfdfd" stroke="#bdbdbd" stroke-width="0.5"/><rect x="424.6" y="299.5" width="7.3" height="1.9" fill="#fdfdfd" stroke="#bdbdbd" stroke-width="0.5"/><rect x="424.6" y="303.9" width="7.3" height="1.9" fill="#fdfdfd" stroke="#bdbdbd" stroke-width="0.5"/><rect x="424.6" y="308.3" width="7.3" height="1.9" fill="#fdfdfd" stroke="#bdbdbd" stroke-width="0.5"/><rect x="424.6" y="312.7" width="7.3" height="1.9" fill="#fdfdfd" stroke="#bdbdbd" stroke-width="0.5"/><rect x="424.6" y="317.1" width="7.3" height="1.9" fill="#fdfdfd" stroke="#bdbdbd" stroke-width="0.5"/><rect x="424.6" y="321.5" width="7.3" height="1.9" fill="#fdfdfd" stroke="#bdbdbd" stroke-width="0.5"/><rect x="424.6" y="326.0" width="7.3" height="1.9" fill="#fdfdfd" stroke="#bdbdbd" stroke-width="0.5"/><rect x="436.5" y="296.3" width="32.3" height="34.7" fill="#d9d9d9" stroke="#b3b3b3" stroke-width="0.8"/><line x1="437.7" y1="298.3" x2="467.6" y2="298.3" stroke="#c4c4c4" stroke-width="0.7"/><line x1="437.7" y1="302.7" x2="467.6" y2="302.7" stroke="#c4c4c4" stroke-width="0.7"/><line x1="437.7" y1="307.1" x2="467.6" y2="307.1" stroke="#c4c4c4" stroke-width="0.7"/><line x1="437.7" y1="311.5" x2="467.6" y2="311.5" stroke="#c4c4c4" stroke-width="0.7"/><line x1="437.7" y1="315.9" x2="467.6" y2="315.9" stroke="#c4c4c4" stroke-width="0.7"/><line x1="437.7" y1="320.3" x2="467.6" y2="320.3" stroke="#c4c4c4" stroke-width="0.7"/><line x1="437.7" y1="324.7" x2="467.6" y2="324.7" stroke="#c4c4c4" stroke-width="0.7"/><line x1="437.7" y1="329.1" x2="467.6" y2="329.1" stroke="#c4c4c4" stroke-width="0.7"/><line x1="448.0" y1="297.5" x2="448.0" y2="329.8" stroke="#e6e6e6" stroke-width="0.8"/><line x1="457.6" y1="297.5" x2="457.6" y2="329.8" stroke="#e6e6e6" stroke-width="0.8"/><rect x="439.7" y="299.5" width="7.1" height="1.9" fill="#fdfdfd" stroke="#bdbdbd" stroke-width="0.5"/><rect x="439.7" y="303.9" width="7.1" height="1.9" fill="#fdfdfd" stroke="#bdbdbd" stroke-width="0.5"/><rect x="439.7" y="308.3" width="7.1" height="1.9" fill="#fdfdfd" stroke="#bdbdbd" stroke-width="0.5"/><rect x="439.7" y="312.7" width="7.1" height="1.9" fill="#fdfdfd" stroke="#bdbdbd" stroke-width="0.5"/><rect x="439.7" y="317.1" width="7.1" height="1.9" fill="#fdfdfd" stroke="#bdbdbd" stroke-width="0.5"/><rect x="439.7" y="321.5" width="7.1" height="1.9" fill="#fdfdfd" stroke="#bdbdbd" stroke-width="0.5"/><rect x="439.7" y="326.0" width="7.1" height="1.9" fill="#fdfdfd" stroke="#bdbdbd" stroke-width="0.5"/><rect x="449.3" y="299.5" width="7.1" height="1.9" fill="#fdfdfd" stroke="#bdbdbd" stroke-width="0.5"/><rect x="449.3" y="303.9" width="7.1" height="1.9" fill="#fdfdfd" stroke="#bdbdbd" stroke-width="0.5"/><rect x="449.3" y="308.3" width="7.1" height="1.9" fill="#fdfdfd" stroke="#bdbdbd" stroke-width="0.5"/><rect x="449.3" y="312.7" width="7.1" height="1.9" fill="#fdfdfd" stroke="#bdbdbd" stroke-width="0.5"/><rect x="449.3" y="317.1" width="7.1" height="1.9" fill="#fdfdfd" stroke="#bdbdbd" stroke-width="0.5"/><rect x="449.3" y="321.5" width="7.1" height="1.9" fill="#fdfdfd" stroke="#bdbdbd" stroke-width="0.5"/><rect x="449.3" y="326.0" width="7.1" height="1.9" fill="#fdfdfd" stroke="#bdbdbd" stroke-width="0.5"/><rect x="458.8" y="299.5" width="7.1" height="1.9" fill="#fdfdfd" stroke="#bdbdbd" stroke-width="0.5"/><rect x="458.8" y="303.9" width="7.1" height="1.9" fill="#fdfdfd" stroke="#bdbdbd" stroke-width="0.5"/><rect x="458.8" y="308.3" width="7.1" height="1.9" fill="#fdfdfd" stroke="#bdbdbd" stroke-width="0.5"/><rect x="458.8" y="312.7" width="7.1" height="1.9" fill="#fdfdfd" stroke="#bdbdbd" stroke-width="0.5"/><rect x="458.8" y="317.1" width="7.1" height="1.9" fill="#fdfdfd" stroke="#bdbdbd" stroke-width="0.5"/><rect x="458.8" y="321.5" width="7.1" height="1.9" fill="#fdfdfd" stroke="#bdbdbd" stroke-width="0.5"/><rect x="458.8" y="326.0" width="7.1" height="1.9" fill="#fdfdfd" stroke="#bdbdbd" stroke-width="0.5"/><rect x="470.4" y="296.3" width="34.1" height="34.7" fill="#d9d9d9" stroke="#b3b3b3" stroke-width="0.8"/><line x1="471.6" y1="298.3" x2="503.3" y2="298.3" stroke="#c4c4c4" stroke-width="0.7"/><line x1="471.6" y1="302.7" x2="503.3" y2="302.7" stroke="#c4c4c4" stroke-width="0.7"/><line x1="471.6" y1="307.1" x2="503.3" y2="307.1" stroke="#c4c4c4" stroke-width="0.7"/><line x1="471.6" y1="311.5" x2="503.3" y2="311.5" stroke="#c4c4c4" stroke-width="0.7"/><line x1="471.6" y1="315.9" x2="503.3" y2="315.9" stroke="#c4c4c4" stroke-width="0.7"/><line x1="471.6" y1="320.3" x2="503.3" y2="320.3" stroke="#c4c4c4" stroke-width="0.7"/><line x1="471.6" y1="324.7" x2="503.3" y2="324.7" stroke="#c4c4c4" stroke-width="0.7"/><line x1="471.6" y1="329.1" x2="503.3" y2="329.1" stroke="#c4c4c4" stroke-width="0.7"/><line x1="482.6" y1="297.5" x2="482.6" y2="329.8" stroke="#e6e6e6" stroke-width="0.8"/><line x1="492.7" y1="297.5" x2="492.7" y2="329.8" stroke="#e6e6e6" stroke-width="0.8"/><rect x="473.8" y="299.5" width="7.5" height="1.9" fill="#fdfdfd" stroke="#bdbdbd" stroke-width="0.5"/><rect x="473.8" y="303.9" width="7.5" height="1.9" fill="#fdfdfd" stroke="#bdbdbd" stroke-width="0.5"/><rect x="473.8" y="308.3" width="7.5" height="1.9" fill="#fdfdfd" stroke="#bdbdbd" stroke-width="0.5"/><rect x="473.8" y="312.7" width="7.5" height="1.9" fill="#fdfdfd" stroke="#bdbdbd" stroke-width="0.5"/><rect x="473.8" y="317.1" width="7.5" height="1.9" fill="#fdfdfd" stroke="#bdbdbd" stroke-width="0.5"/><rect x="473.8" y="321.5" width="7.5" height="1.9" fill="#fdfdfd" stroke="#bdbdbd" stroke-width="0.5"/><rect x="473.8" y="326.0" width="7.5" height="1.9" fill="#fdfdfd" stroke="#bdbdbd" stroke-width="0.5"/><rect x="483.9" y="299.5" width="7.5" height="1.9" fill="#fdfdfd" stroke="#bdbdbd" stroke-width="0.5"/><rect x="483.9" y="303.9" width="7.5" height="1.9" fill="#fdfdfd" stroke="#bdbdbd" stroke-width="0.5"/><rect x="483.9" y="308.3" width="7.5" height="1.9" fill="#fdfdfd" stroke="#bdbdbd" stroke-width="0.5"/><rect x="483.9" y="312.7" width="7.5" height="1.9" fill="#fdfdfd" stroke="#bdbdbd" stroke-width="0.5"/><rect x="483.9" y="317.1" width="7.5" height="1.9" fill="#fdfdfd" stroke="#bdbdbd" stroke-width="0.5"/><rect x="483.9" y="321.5" width="7.5" height="1.9" fill="#fdfdfd" stroke="#bdbdbd" stroke-width="0.5"/><rect x="483.9" y="326.0" width="7.5" height="1.9" fill="#fdfdfd" stroke="#bdbdbd" stroke-width="0.5"/><rect x="493.9" y="299.5" width="7.5" height="1.9" fill="#fdfdfd" stroke="#bdbdbd" stroke-width="0.5"/><rect x="493.9" y="303.9" width="7.5" height="1.9" fill="#fdfdfd" stroke="#bdbdbd" stroke-width="0.5"/><rect x="493.9" y="308.3" width="7.5" height="1.9" fill="#fdfdfd" stroke="#bdbdbd" stroke-width="0.5"/><rect x="493.9" y="312.7" width="7.5" height="1.9" fill="#fdfdfd" stroke="#bdbdbd" stroke-width="0.5"/><rect x="493.9" y="317.1" width="7.5" height="1.9" fill="#fdfdfd" stroke="#bdbdbd" stroke-width="0.5"/><rect x="493.9" y="321.5" width="7.5" height="1.9" fill="#fdfdfd" stroke="#bdbdbd" stroke-width="0.5"/><rect x="493.9" y="326.0" width="7.5" height="1.9" fill="#fdfdfd" stroke="#bdbdbd" stroke-width="0.5"/><path d="M364.1,103.4 L507.7,103.8 L511.3,110.0 L511.3,341.4 L368.5,341.4 L364.2,335.0 L364.1,103.4" fill="none" stroke="#252525" stroke-width="1.8" stroke-linejoin="round"/><path d="M506.7,104.0 L506.7,334.0 M364.2,334.0 L506.7,334.0 L511.2,341.2" fill="none" stroke="#2a2a2a" stroke-width="1.7"/>
<rect x="77.0" y="384.2" width="32.2" height="7.2" rx="3.3" fill="#f2f2f2" stroke="#3c3c3c" stroke-width="1"/><line x1="84.1" y1="384.7" x2="84.1" y2="390.9" stroke="#555" stroke-width="0.9"/><line x1="91.5" y1="384.7" x2="91.5" y2="390.9" stroke="#555" stroke-width="0.9"/><line x1="93.1" y1="384.7" x2="93.1" y2="390.9" stroke="#555" stroke-width="0.9"/><line x1="95.0" y1="384.7" x2="95.0" y2="390.9" stroke="#555" stroke-width="0.9"/><line x1="102.1" y1="384.7" x2="102.1" y2="390.9" stroke="#555" stroke-width="0.9"/><line x1="79.0" y1="387.8" x2="107.2" y2="387.8" stroke="#9a9a9a" stroke-width="0.7"/><rect x="91.8" y="384.7" width="1.9" height="6.2" fill="#555"/>
<rect x="402.7" y="383.3" width="32.0" height="6.9" rx="3.1" fill="#f2f2f2" stroke="#3c3c3c" stroke-width="1"/><line x1="409.7" y1="383.8" x2="409.7" y2="389.7" stroke="#555" stroke-width="0.9"/><line x1="417.1" y1="383.8" x2="417.1" y2="389.7" stroke="#555" stroke-width="0.9"/><line x1="418.7" y1="383.8" x2="418.7" y2="389.7" stroke="#555" stroke-width="0.9"/><line x1="420.6" y1="383.8" x2="420.6" y2="389.7" stroke="#555" stroke-width="0.9"/><line x1="427.7" y1="383.8" x2="427.7" y2="389.7" stroke="#555" stroke-width="0.9"/><line x1="404.7" y1="386.8" x2="432.7" y2="386.8" stroke="#9a9a9a" stroke-width="0.7"/><rect x="417.4" y="383.8" width="1.9" height="5.9" fill="#555"/>
<rect x="373.6" y="63.3" width="31.8" height="7.4" rx="3.4" fill="#f2f2f2" stroke="#3c3c3c" stroke-width="1"/><line x1="380.6" y1="63.8" x2="380.6" y2="70.2" stroke="#555" stroke-width="0.9"/><line x1="387.9" y1="63.8" x2="387.9" y2="70.2" stroke="#555" stroke-width="0.9"/><line x1="389.5" y1="63.8" x2="389.5" y2="70.2" stroke="#555" stroke-width="0.9"/><line x1="391.4" y1="63.8" x2="391.4" y2="70.2" stroke="#555" stroke-width="0.9"/><line x1="398.4" y1="63.8" x2="398.4" y2="70.2" stroke="#555" stroke-width="0.9"/><line x1="375.6" y1="67.0" x2="403.4" y2="67.0" stroke="#9a9a9a" stroke-width="0.7"/><rect x="388.2" y="63.8" width="1.9" height="6.4" fill="#555"/>
<rect x="168.6" y="176.1" width="7.2" height="31.5" rx="1.8" fill="#f4f4f4" stroke="#3a3a3a" stroke-width="1"/><line x1="169.1" y1="182.4" x2="175.3" y2="182.4" stroke="#555" stroke-width="0.9"/><line x1="169.1" y1="187.1" x2="175.3" y2="187.1" stroke="#555" stroke-width="0.9"/><line x1="169.1" y1="190.9" x2="175.3" y2="190.9" stroke="#555" stroke-width="0.9"/><line x1="169.1" y1="192.8" x2="175.3" y2="192.8" stroke="#555" stroke-width="0.9"/><line x1="169.1" y1="199.7" x2="175.3" y2="199.7" stroke="#555" stroke-width="0.9"/><rect x="169.1" y="190.0" width="6.2" height="2.5" fill="#666"/>
<rect x="186.6" y="132.6" width="127.9" height="89.2" rx="14" fill="#e5e7ec" stroke="#9ea2aa" stroke-width="1.5"/><g><line x1="192.0" y1="137" x2="192.0" y2="217" stroke="#cfd2d9" stroke-width="0.9"/><line x1="196.1" y1="137" x2="196.1" y2="217" stroke="#cfd2d9" stroke-width="0.9"/><line x1="200.1" y1="137" x2="200.1" y2="217" stroke="#cfd2d9" stroke-width="0.9"/><line x1="204.2" y1="137" x2="204.2" y2="217" stroke="#cfd2d9" stroke-width="0.9"/><line x1="208.2" y1="137" x2="208.2" y2="217" stroke="#cfd2d9" stroke-width="0.9"/><line x1="212.3" y1="137" x2="212.3" y2="217" stroke="#cfd2d9" stroke-width="0.9"/><line x1="216.3" y1="137" x2="216.3" y2="217" stroke="#cfd2d9" stroke-width="0.9"/><line x1="220.4" y1="137" x2="220.4" y2="217" stroke="#cfd2d9" stroke-width="0.9"/><line x1="224.4" y1="137" x2="224.4" y2="217" stroke="#cfd2d9" stroke-width="0.9"/><line x1="228.5" y1="137" x2="228.5" y2="217" stroke="#cfd2d9" stroke-width="0.9"/><line x1="232.5" y1="137" x2="232.5" y2="217" stroke="#cfd2d9" stroke-width="0.9"/><line x1="236.6" y1="137" x2="236.6" y2="217" stroke="#cfd2d9" stroke-width="0.9"/><line x1="240.6" y1="137" x2="240.6" y2="217" stroke="#cfd2d9" stroke-width="0.9"/><line x1="244.7" y1="137" x2="244.7" y2="217" stroke="#cfd2d9" stroke-width="0.9"/><line x1="248.7" y1="137" x2="248.7" y2="217" stroke="#cfd2d9" stroke-width="0.9"/><line x1="252.8" y1="137" x2="252.8" y2="217" stroke="#cfd2d9" stroke-width="0.9"/><line x1="256.8" y1="137" x2="256.8" y2="217" stroke="#cfd2d9" stroke-width="0.9"/><line x1="260.9" y1="137" x2="260.9" y2="217" stroke="#cfd2d9" stroke-width="0.9"/><line x1="264.9" y1="137" x2="264.9" y2="217" stroke="#cfd2d9" stroke-width="0.9"/><line x1="269.0" y1="137" x2="269.0" y2="217" stroke="#cfd2d9" stroke-width="0.9"/><line x1="273.0" y1="137" x2="273.0" y2="217" stroke="#cfd2d9" stroke-width="0.9"/><line x1="277.1" y1="137" x2="277.1" y2="217" stroke="#cfd2d9" stroke-width="0.9"/><line x1="281.1" y1="137" x2="281.1" y2="217" stroke="#cfd2d9" stroke-width="0.9"/><line x1="285.2" y1="137" x2="285.2" y2="217" stroke="#cfd2d9" stroke-width="0.9"/><line x1="289.2" y1="137" x2="289.2" y2="217" stroke="#cfd2d9" stroke-width="0.9"/><line x1="293.3" y1="137" x2="293.3" y2="217" stroke="#cfd2d9" stroke-width="0.9"/><line x1="297.3" y1="137" x2="297.3" y2="217" stroke="#cfd2d9" stroke-width="0.9"/><line x1="301.4" y1="137" x2="301.4" y2="217" stroke="#cfd2d9" stroke-width="0.9"/><line x1="305.4" y1="137" x2="305.4" y2="217" stroke="#cfd2d9" stroke-width="0.9"/><line x1="309.5" y1="137" x2="309.5" y2="217" stroke="#cfd2d9" stroke-width="0.9"/></g><rect x="189.6" y="135.6" width="121.9" height="83.2" rx="11.5" fill="none" stroke="#c3c6cd" stroke-width="1"/><path d="M188,214 Q190,221.5 200,221.5 L301,221.5 Q311,221.5 313,214" fill="none" stroke="#b8bcc4" stroke-width="2"/><circle cx="195.0" cy="141.0" r="1.4" fill="none" stroke="#9ea2aa" stroke-width="0.7"/><circle cx="306.0" cy="141.0" r="1.4" fill="none" stroke="#9ea2aa" stroke-width="0.7"/><circle cx="195.0" cy="214.0" r="1.4" fill="none" stroke="#9ea2aa" stroke-width="0.7"/><circle cx="306.0" cy="214.0" r="1.4" fill="none" stroke="#9ea2aa" stroke-width="0.7"/><rect x="227.8" y="116.6" width="45.6" height="18.6" rx="4.2" fill="#d9dce2" stroke="#9ca1a9" stroke-width="1.4"/><rect x="239.8" y="119.6" width="21.8" height="10.4" rx="2.6" fill="#fbfbfc" stroke="#9ea2a9" stroke-width="1.2"/><rect x="184.8" y="166.5" width="4.3" height="6.6" rx="1" fill="#2a2a2a"/><text x="229" y="188.6" font-family="&quot;Liberation Sans&quot;, sans-serif" font-size="6" font-style="italic" font-weight="bold" fill="#888c94" textLength="43" lengthAdjust="spacingAndGlyphs">Solar Inverter</text><line x1="234" y1="190.8" x2="270" y2="190.8" stroke="#c0c3ca" stroke-width="0.6"/>
<rect x="207.2" y="220.3" width="7.4" height="31.5" rx="1.8" fill="#f4f4f4" stroke="#3a3a3a" stroke-width="1"/><line x1="207.7" y1="226.6" x2="214.1" y2="226.6" stroke="#555" stroke-width="0.9"/><line x1="207.7" y1="231.3" x2="214.1" y2="231.3" stroke="#555" stroke-width="0.9"/><line x1="207.7" y1="235.1" x2="214.1" y2="235.1" stroke="#555" stroke-width="0.9"/><line x1="207.7" y1="237.0" x2="214.1" y2="237.0" stroke="#555" stroke-width="0.9"/><line x1="207.7" y1="243.9" x2="214.1" y2="243.9" stroke="#555" stroke-width="0.9"/><rect x="207.7" y="234.2" width="6.4" height="2.5" fill="#666"/>
<rect x="239.1" y="223.4" width="7.6" height="30.7" rx="1.8" fill="#f4f4f4" stroke="#3a3a3a" stroke-width="1"/><line x1="239.6" y1="229.5" x2="246.2" y2="229.5" stroke="#555" stroke-width="0.9"/><line x1="239.6" y1="234.1" x2="246.2" y2="234.1" stroke="#555" stroke-width="0.9"/><line x1="239.6" y1="237.8" x2="246.2" y2="237.8" stroke="#555" stroke-width="0.9"/><line x1="239.6" y1="239.7" x2="246.2" y2="239.7" stroke="#555" stroke-width="0.9"/><line x1="239.6" y1="246.4" x2="246.2" y2="246.4" stroke="#555" stroke-width="0.9"/><rect x="239.6" y="236.9" width="6.6" height="2.5" fill="#666"/>
<rect x="259.3" y="222.0" width="7.1" height="30.0" rx="1.8" fill="#f4f4f4" stroke="#3a3a3a" stroke-width="1"/><line x1="259.8" y1="228.0" x2="265.9" y2="228.0" stroke="#555" stroke-width="0.9"/><line x1="259.8" y1="232.5" x2="265.9" y2="232.5" stroke="#555" stroke-width="0.9"/><line x1="259.8" y1="236.1" x2="265.9" y2="236.1" stroke="#555" stroke-width="0.9"/><line x1="259.8" y1="237.9" x2="265.9" y2="237.9" stroke="#555" stroke-width="0.9"/><line x1="259.8" y1="244.5" x2="265.9" y2="244.5" stroke="#555" stroke-width="0.9"/><rect x="259.8" y="235.2" width="6.1" height="2.4" fill="#666"/>
<rect x="292.6" y="223.0" width="7.9" height="31.0" rx="1.8" fill="#f4f4f4" stroke="#3a3a3a" stroke-width="1"/><line x1="293.1" y1="229.2" x2="300.0" y2="229.2" stroke="#555" stroke-width="0.9"/><line x1="293.1" y1="233.8" x2="300.0" y2="233.8" stroke="#555" stroke-width="0.9"/><line x1="293.1" y1="237.6" x2="300.0" y2="237.6" stroke="#555" stroke-width="0.9"/><line x1="293.1" y1="239.4" x2="300.0" y2="239.4" stroke="#555" stroke-width="0.9"/><line x1="293.1" y1="246.2" x2="300.0" y2="246.2" stroke="#555" stroke-width="0.9"/><rect x="293.1" y="236.6" width="6.9" height="2.5" fill="#666"/>
<path d="M315.9,183.2 C316.8,184.5 319.4,188.5 321.0,191.2 C322.6,193.9 324.2,197.0 325.6,199.2 C327.0,201.4 328.2,204.0 329.4,204.2 C330.6,204.4 331.9,202.4 332.6,200.2 C333.3,198.0 333.5,194.7 333.6,191.0 C333.7,187.3 333.4,183.2 333.1,178.0 C332.8,172.8 332.3,165.8 331.8,160.0 C331.3,154.2 330.8,150.0 330.1,143.3 C329.4,136.6 328.3,127.2 327.6,120.0 C326.9,112.8 326.4,106.7 326.1,100.0 C325.8,93.3 325.7,85.8 325.9,80.0 C326.1,74.2 326.6,69.2 327.2,65.0 C327.8,60.8 328.7,57.9 329.6,55.0 C330.6,52.1 331.5,49.9 332.9,47.6 C334.3,45.3 335.7,43.4 338.1,41.3 C340.5,39.1 343.6,36.6 347.2,34.7 C350.8,32.9 355.4,31.4 360.0,30.2 C364.6,28.9 370.0,28.0 375.0,27.2 C380.0,26.4 384.3,25.7 390.0,25.2 C395.7,24.7 402.6,24.2 409.0,24.0 C415.4,23.8 422.1,23.6 428.6,23.8 C435.1,24.0 441.9,24.6 448.0,25.2 C454.1,25.8 459.1,26.6 465.0,27.5 C470.9,28.4 476.4,29.0 483.4,30.6 C490.3,32.2 500.5,35.2 506.7,37.3 C512.9,39.4 516.8,40.9 520.7,43.4 C524.6,45.9 527.6,49.0 530.0,52.4 C532.4,55.8 533.9,59.7 535.2,64.0 C536.5,68.3 537.2,72.5 537.8,78.0 C538.4,83.5 538.8,90.6 539.0,96.8 C539.2,103.0 539.2,108.6 539.2,115.0 C539.2,121.4 538.9,128.9 538.8,135.0 C538.7,141.1 538.4,145.3 538.7,151.4 C539.0,157.5 539.4,166.3 540.6,171.5 C541.8,176.7 543.1,178.8 545.7,182.3 C548.3,185.8 551.7,189.8 556.0,192.3 C560.3,194.8 566.3,196.3 571.4,197.2 C576.5,198.0 581.6,197.6 586.8,197.4 C591.9,197.2 598.8,196.2 602.3,196.0 C605.8,195.8 607.0,196.2 608.0,196.2" fill="none" stroke="#141414" stroke-width="2.9" stroke-linecap="round" stroke-linejoin="round"/>
<rect x="570.8" y="12.3" width="136.8" height="79.8" fill="#f5f6f8" stroke="#222" stroke-width="1.8"/><rect x="595.8" y="36.3" width="13.4" height="19.3" rx="1" fill="#e42a2c"/><rect x="625.3" y="36.6" width="9.6" height="18.9" fill="#e6e6e8" stroke="#c4c4c8" stroke-width="0.8"/><rect x="636.2" y="36.6" width="9.6" height="18.9" fill="#e6e6e8" stroke="#c4c4c8" stroke-width="0.8"/><rect x="647.1" y="36.6" width="9.6" height="18.9" fill="#e6e6e8" stroke="#c4c4c8" stroke-width="0.8"/><rect x="658.0" y="36.6" width="9.6" height="18.9" fill="#e6e6e8" stroke="#c4c4c8" stroke-width="0.8"/><rect x="668.9" y="36.6" width="9.6" height="18.9" fill="#e6e6e8" stroke="#c4c4c8" stroke-width="0.8"/><rect x="609.4" y="34" width="15" height="23.3" fill="#ffffff" stroke="#1d1d1d" stroke-width="1.3"/><rect x="611" y="51" width="11.8" height="5" fill="#ececec"/><rect x="613.2" y="43.2" width="7.2" height="7.2" fill="#f4f4f4" stroke="#333" stroke-width="1.1"/><rect x="614.6" y="44.8" width="4.4" height="3" fill="#bbbbbb"/><rect x="614.6" y="39" width="4.5" height="1.2" fill="#777"/><rect x="681.9" y="33.1" width="15.8" height="25" fill="#e4e4e6" stroke="#777" stroke-width="1"/><circle cx="689.8" cy="45.6" r="4.4" fill="#ececee" stroke="#555" stroke-width="0.9"/><line x1="707.6" y1="48.8" x2="732.4" y2="48.8" stroke="#1a1a1a" stroke-width="1.8"/>
<path d="M617.4,56.0 C617.5,59.2 617.6,69.9 617.8,75.0 C618.0,80.1 617.4,82.8 618.6,86.5 C619.9,90.2 621.4,94.4 625.3,97.2 C629.2,100.0 637.4,100.9 642.1,103.3 C646.8,105.7 651.2,108.5 653.3,111.8 C655.4,115.1 655.2,117.4 654.5,123.0 C653.8,128.6 650.7,139.7 649.1,145.4 C647.5,151.1 645.7,155.1 645.0,157.0" fill="none" stroke="#141414" stroke-width="2.6" stroke-linecap="round"/>
<rect x="601.3" y="157.2" width="99" height="55.5" fill="none" stroke="#1d1d1d" stroke-width="1.6"/><clipPath id="sockclip"><rect x="602.2" y="158.1" width="97.2" height="53.7"/></clipPath><g clip-path="url(#sockclip)" stroke="#f5f5f5" stroke-width="0.8"><line x1="565.0" y1="211.5" x2="605.0" y2="158.5"/><line x1="571.0" y1="211.5" x2="611.0" y2="158.5"/><line x1="577.0" y1="211.5" x2="617.0" y2="158.5"/><line x1="583.0" y1="211.5" x2="623.0" y2="158.5"/><line x1="589.0" y1="211.5" x2="629.0" y2="158.5"/><line x1="595.0" y1="211.5" x2="635.0" y2="158.5"/><line x1="601.0" y1="211.5" x2="641.0" y2="158.5"/><line x1="607.0" y1="211.5" x2="647.0" y2="158.5"/><line x1="613.0" y1="211.5" x2="653.0" y2="158.5"/><line x1="619.0" y1="211.5" x2="659.0" y2="158.5"/><line x1="625.0" y1="211.5" x2="665.0" y2="158.5"/><line x1="631.0" y1="211.5" x2="671.0" y2="158.5"/><line x1="637.0" y1="211.5" x2="677.0" y2="158.5"/><line x1="643.0" y1="211.5" x2="683.0" y2="158.5"/><line x1="649.0" y1="211.5" x2="689.0" y2="158.5"/><line x1="655.0" y1="211.5" x2="695.0" y2="158.5"/><line x1="661.0" y1="211.5" x2="701.0" y2="158.5"/><line x1="667.0" y1="211.5" x2="707.0" y2="158.5"/><line x1="673.0" y1="211.5" x2="713.0" y2="158.5"/><line x1="679.0" y1="211.5" x2="719.0" y2="158.5"/><line x1="685.0" y1="211.5" x2="725.0" y2="158.5"/><line x1="691.0" y1="211.5" x2="731.0" y2="158.5"/><line x1="697.0" y1="211.5" x2="737.0" y2="158.5"/></g><rect x="613.4" y="163.2" width="10.2" height="6.8" fill="#fff" stroke="#333" stroke-width="1"/><rect x="678.2" y="163.2" width="9.6" height="6.8" fill="#fff" stroke="#333" stroke-width="1"/><rect x="614.1" y="178.3" width="7.8" height="13.4" fill="#1e1e1e"/><rect x="679.1" y="178.3" width="7.5" height="13.4" fill="#1e1e1e"/><rect x="607.2" y="194" width="8.0" height="6.8" fill="#1e1e1e"/><rect x="621.8" y="194" width="8.0" height="6.8" fill="#1e1e1e"/><rect x="671.9" y="194" width="8.2" height="6.8" fill="#1e1e1e"/><rect x="686.3" y="194" width="7.8" height="6.8" fill="#1e1e1e"/>
<path d="M676.0,199.5 C677.1,201.5 680.6,208.3 682.5,211.6 C684.4,214.9 686.1,216.6 687.4,219.5 C688.7,222.4 690.0,226.3 690.2,229.3 C690.4,232.3 689.8,235.5 688.8,237.7 C687.8,239.9 686.4,241.2 683.9,242.6 C681.4,244.0 678.0,245.1 674.0,246.1 C670.0,247.1 662.3,248.4 660.0,248.8" fill="none" stroke="#141414" stroke-width="2.5" stroke-linecap="round"/>
<path d="M674.0,246.1 C671.7,246.6 667.3,247.6 660.0,248.8 C652.7,250.0 639.9,251.3 630.2,253.3 C620.6,255.3 609.1,258.2 602.1,261.0 C595.1,263.8 592.1,266.3 588.0,269.8 C583.9,273.3 580.1,277.1 577.5,282.1 C574.9,287.1 573.4,292.6 572.3,299.6 C571.1,306.6 570.3,316.0 570.6,324.2 C570.9,332.4 572.3,342.1 574.0,348.8 C575.7,355.5 578.1,360.5 581.0,364.6 C583.9,368.7 586.3,371.1 591.6,373.3 C596.9,375.5 605.9,376.6 612.6,377.8 C619.3,379.0 628.8,380.1 632.0,380.6" fill="none" stroke="#1e1e1e" stroke-width="1.5" stroke-linecap="round"/>
<rect x="630.9" y="376.6" width="73.6" height="9.7" rx="2" fill="#ffffff" stroke="#1e1e1e" stroke-width="1.7"/><g stroke="#e0e0e0" stroke-width="1.1"><line x1="634.0" y1="385" x2="639.0" y2="378"/><line x1="639.0" y1="385" x2="644.0" y2="378"/><line x1="644.0" y1="385" x2="649.0" y2="378"/><line x1="649.0" y1="385" x2="654.0" y2="378"/><line x1="654.0" y1="385" x2="659.0" y2="378"/><line x1="659.0" y1="385" x2="664.0" y2="378"/><line x1="664.0" y1="385" x2="669.0" y2="378"/><line x1="669.0" y1="385" x2="674.0" y2="378"/><line x1="674.0" y1="385" x2="679.0" y2="378"/><line x1="679.0" y1="385" x2="684.0" y2="378"/><line x1="684.0" y1="385" x2="689.0" y2="378"/><line x1="689.0" y1="385" x2="694.0" y2="378"/><line x1="694.0" y1="385" x2="699.0" y2="378"/><line x1="699.0" y1="385" x2="704.0" y2="378"/></g><path d="M637.5,308.4 C629,306.2 619,303.6 613,304.4 C607.4,305.4 606.2,310.5 606.2,318 L606.2,352 C606.3,362 608.4,367.2 615,367 C622,366.6 630,365 637.5,363.6" fill="none" stroke="#111" stroke-width="2.9" stroke-linejoin="round" stroke-linecap="round"/><path d="M637.6,366.6 L627.6,373.8" fill="none" stroke="#111" stroke-width="1.5" stroke-linecap="round"/><path d="M698.8,302 L713.8,290.5 L713.4,295.6 L699.1,318.7" fill="#fff" stroke="#111" stroke-width="1.7" stroke-linejoin="round"/><path d="M637.3,302 L637.3,365.5 Q637.3,376.1 648,376.1 L688,376.1 Q698.6,376.1 698.6,365.5 L698.6,302" fill="#ffffff" stroke="#111" stroke-width="1.7"/><rect x="636.6" y="293.6" width="62" height="8.8" rx="1.6" fill="#f9f9f9" stroke="#111" stroke-width="1.7"/><path d="M661.5,293.4 L661.5,289.6 Q661.5,287.7 663.4,287.7 L672.6,287.7 Q674.5,287.7 674.5,289.6 L674.5,293.4" fill="#eeeeee" stroke="#222" stroke-width="1.2"/><line x1="664.5" y1="292.8" x2="668.5" y2="288.6" stroke="#9a9a9a" stroke-width="0.9"/><line x1="668.5" y1="292.8" x2="672.5" y2="288.6" stroke="#9a9a9a" stroke-width="0.9"/><rect x="670.8" y="315.2" width="12.6" height="49.3" rx="3.2" fill="#ffffff" stroke="#555" stroke-width="1.1"/><path d="M671.4,333.2 L683,333.2 L683,361 Q683,364 680,364 L674.4,364 Q671.4,364 671.4,361 Z" fill="#66b0ec"/><line x1="673.6" y1="324.4" x2="680.6" y2="324.4" stroke="#444" stroke-width="0.9"/><line x1="673.6" y1="342.5" x2="680.6" y2="342.5" stroke="#2f5a80" stroke-width="0.9"/><path d="M719.4,261.2 Q726.8,263.6 726.2,265.6 Q723,267.6 716.5,269.2 Q712.8,270.6 714.6,273 Q719.5,275.6 722.2,278.2 Q721,281.5 717.6,284.4" fill="none" stroke="#a7b1bf" stroke-width="1.7" stroke-linejoin="round" stroke-linecap="round"/><path d="M723.5,266.6 Q718,268.6 715.2,270.8" fill="none" stroke="#b5bdc9" stroke-width="1.2" stroke-linecap="round"/>
<path d="M647.4,404.6 Q647.4,399.2 652.5,398.9 Q657.8,399 657.4,403.4 Q656,407 647.6,412.8 Q653,412.5 659.2,413.1" stroke-width="2.3" fill="none" stroke="#1c1c1c" stroke-linecap="round" stroke-linejoin="round"/>
<path d="M662.6,397.3 L662.9,413.5 M670,404.8 L663.3,409.2 L670.6,413.2" stroke-width="2.3" fill="none" stroke="#1c1c1c" stroke-linecap="round" stroke-linejoin="round"/>
<path d="M674.8,401.5 L676.4,413.2 L680.3,406.8 L682.2,413.2 L688.2,400.2" stroke-width="2.3" fill="none" stroke="#1c1c1c" stroke-linecap="round" stroke-linejoin="round"/>
<path d="M587.8,27.8 L589.5,22 L591.2,25.6 L593.2,22 L594.2,27.6" stroke-width="1.45" fill="none" stroke="#1c1c1c" stroke-linecap="round" stroke-linejoin="round"/>
<path d="M600.4,23.6 Q598.6,22.4 596.8,23.6 Q595.4,25.4 596.6,27.2 Q598.4,28.2 600.6,27.2" stroke-width="1.45" fill="none" stroke="#1c1c1c" stroke-linecap="round" stroke-linejoin="round"/>
<path d="M603,21 L603.2,28 M603,21.1 Q607.6,20.6 607.6,22.6 Q607.2,24.1 603.4,24.2 Q608.8,24.2 608.6,26.4 Q608,28.2 603.4,28" stroke-width="1.45" fill="none" stroke="#1c1c1c" stroke-linecap="round" stroke-linejoin="round"/>
<path d="M617.4,21.3 Q613.6,25 617.6,28.7" stroke-width="1.45" fill="none" stroke="#1c1c1c" stroke-linecap="round" stroke-linejoin="round"/>
<path d="M619.2,22.2 Q621.8,21 624,22.2 Q624,24.2 621.2,24.8 Q624.8,25 624.4,27.2 Q622,28.8 619,27.8" stroke-width="1.45" fill="none" stroke="#1c1c1c" stroke-linecap="round" stroke-linejoin="round"/>
<path d="M627,22.6 Q629.4,20.8 631.6,22.4 Q631.4,24.6 627.2,28 L632.2,27.8" stroke-width="1.45" fill="none" stroke="#1c1c1c" stroke-linecap="round" stroke-linejoin="round"/>
<path d="M633.6,28.4 L638.4,21.2 L639.4,28.6 M634.6,26 L639,25.8" stroke-width="1.45" fill="none" stroke="#1c1c1c" stroke-linecap="round" stroke-linejoin="round"/>
<path d="M640.7,21.2 Q644.6,25 640.6,28.7" stroke-width="1.45" fill="none" stroke="#1c1c1c" stroke-linecap="round" stroke-linejoin="round"/>
<path d="M726.4,9.6 Q723.4,8.8 722,11.6 Q720.8,15.2 722.8,17 Q725.4,17.8 726.8,15 L725,14.6 M727.4,13.6 L727.8,18" stroke-width="1.6" fill="none" stroke="#1c1c1c" stroke-linecap="round" stroke-linejoin="round"/>
<path d="M730.6,17.6 L730.8,9.4 Q735.8,9 736,11.4 Q735.6,13.6 731.2,13.6 L736.4,17.4" stroke-width="1.6" fill="none" stroke="#1c1c1c" stroke-linecap="round" stroke-linejoin="round"/>
<path d="M738.8,9.6 L745,9.4 M741.8,9.5 L741.6,17 M738.6,17.2 L745.2,17" stroke-width="1.6" fill="none" stroke="#1c1c1c" stroke-linecap="round" stroke-linejoin="round"/>
<path d="M747.4,9.2 L747.6,17.5 M747.2,9.4 Q753.4,9.4 753.4,13.2 Q753.2,17.4 747.6,17.4" stroke-width="1.6" fill="none" stroke="#1c1c1c" stroke-linecap="round" stroke-linejoin="round"/>
<path d="M720.6,25 Q716.4,24 715.8,26.4 Q716.2,28 719,28.2 Q721.6,29 720.8,30.8 Q718.4,32.2 715.4,31" stroke-width="1.6" fill="none" stroke="#1c1c1c" stroke-linecap="round" stroke-linejoin="round"/>
<path d="M723,24.6 L723.2,29.4 Q723.8,31.8 725.8,31.8 Q728.2,31.6 728.4,29 L728.5,24.6" stroke-width="1.6" fill="none" stroke="#1c1c1c" stroke-linecap="round" stroke-linejoin="round"/>
<path d="M731.6,31.8 L731.7,24.6 Q736.6,24 736.6,26.6 Q736.2,29 731.8,28.8" stroke-width="1.6" fill="none" stroke="#1c1c1c" stroke-linecap="round" stroke-linejoin="round"/>
<path d="M739.4,31.8 L739.5,24.6 Q744.6,24 744.6,26.6 Q744.2,29 739.6,28.8" stroke-width="1.6" fill="none" stroke="#1c1c1c" stroke-linecap="round" stroke-linejoin="round"/>
<path d="M747.8,24.4 L748,31.6 L752.4,31.4" stroke-width="1.6" fill="none" stroke="#1c1c1c" stroke-linecap="round" stroke-linejoin="round"/>
<path d="M754.4,24.6 L757.2,28.4 L760.4,24.2 M757.2,28.4 L757,32.4" stroke-width="1.6" fill="none" stroke="#1c1c1c" stroke-linecap="round" stroke-linejoin="round"/>
<text x="224.6" y="87.6" font-size="16" letter-spacing="0.5" font-family="&quot;Liberation Sans&quot;, sans-serif" fill="#1f1f1f" stroke="#1f1f1f" stroke-width="0.3">800W AC</text>
<text x="180.2" y="417.1" font-size="16" word-spacing="1.5" font-family="&quot;Liberation Sans&quot;, sans-serif" fill="#1f1f1f" stroke="#1f1f1f" stroke-width="0.3">800Wp + 800Wp = 1600Wp</text>
<path d="M94.8,84.4 L103.8,84.4 M99.3,80.2 L99.3,88.6" stroke="#1a1a1a" stroke-width="1.8"/>
<path d="M419.3,88.5 L427.7,88.5 M423.5,84.3 L423.5,92.7" stroke="#1a1a1a" stroke-width="1.8"/>
<path d="M54.8,351 L58.8,351" stroke="#1a1a1a" stroke-width="1.8"/>
<path d="M462.4,354.9 L466.4,354.9" stroke="#1a1a1a" stroke-width="1.8"/>
</svg>
</body></html>
